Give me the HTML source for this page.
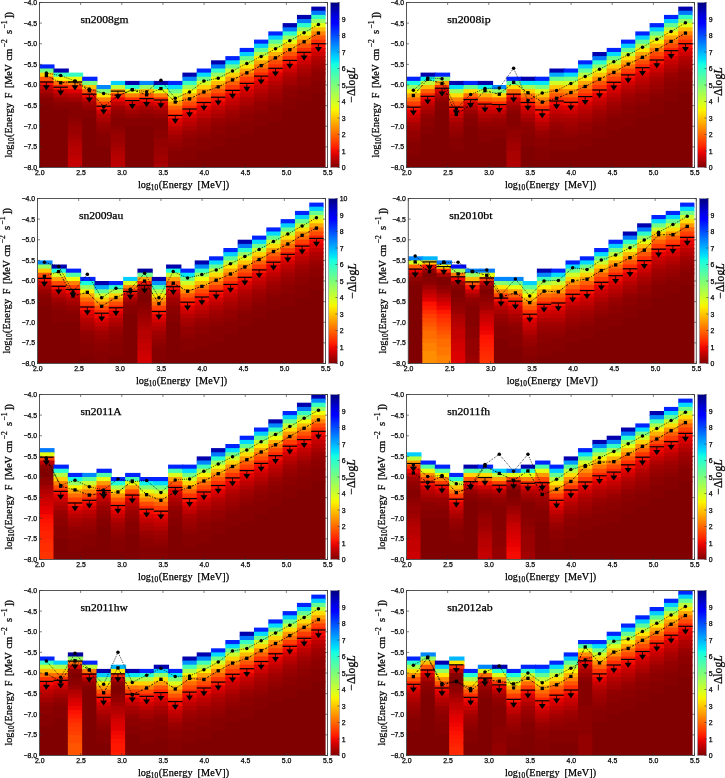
<!DOCTYPE html><html><head><meta charset="utf-8"><title>fig</title><style>html,body{margin:0;padding:0;background:#fff}svg{display:block;will-change:transform}.c rect{width:15.32px;height:5.125px}.e rect{width:14.32px;height:5.125px}text{font-family:"Liberation Sans",sans-serif;fill:#000;stroke:#000;stroke-width:.25px}.s{font-family:"Liberation Serif",serif;stroke-width:.25px}</style></head><body>
<svg width="725" height="778" viewBox="0 0 725 778">
<defs><linearGradient id="cb" x1="0" y1="1" x2="0" y2="0">
<stop offset="0.000" stop-color="#800000"/>
<stop offset="0.025" stop-color="#9c0000"/>
<stop offset="0.050" stop-color="#b90000"/>
<stop offset="0.075" stop-color="#d60000"/>
<stop offset="0.100" stop-color="#f30900"/>
<stop offset="0.125" stop-color="#ff2100"/>
<stop offset="0.150" stop-color="#ff3900"/>
<stop offset="0.175" stop-color="#ff5000"/>
<stop offset="0.200" stop-color="#ff6800"/>
<stop offset="0.225" stop-color="#ff8000"/>
<stop offset="0.250" stop-color="#ff9700"/>
<stop offset="0.275" stop-color="#ffaf00"/>
<stop offset="0.300" stop-color="#ffc600"/>
<stop offset="0.325" stop-color="#ffde00"/>
<stop offset="0.350" stop-color="#f7f600"/>
<stop offset="0.375" stop-color="#e2ff15"/>
<stop offset="0.400" stop-color="#ceff29"/>
<stop offset="0.425" stop-color="#b9ff3e"/>
<stop offset="0.450" stop-color="#a5ff52"/>
<stop offset="0.475" stop-color="#90ff67"/>
<stop offset="0.500" stop-color="#7bff7b"/>
<stop offset="0.525" stop-color="#67ff90"/>
<stop offset="0.550" stop-color="#52ffa5"/>
<stop offset="0.575" stop-color="#3effb9"/>
<stop offset="0.600" stop-color="#29ffce"/>
<stop offset="0.625" stop-color="#15ffe2"/>
<stop offset="0.650" stop-color="#00e5f7"/>
<stop offset="0.675" stop-color="#00ccff"/>
<stop offset="0.700" stop-color="#00b3ff"/>
<stop offset="0.725" stop-color="#0099ff"/>
<stop offset="0.750" stop-color="#0080ff"/>
<stop offset="0.775" stop-color="#0066ff"/>
<stop offset="0.800" stop-color="#004cff"/>
<stop offset="0.825" stop-color="#0033ff"/>
<stop offset="0.850" stop-color="#001aff"/>
<stop offset="0.875" stop-color="#0000ff"/>
<stop offset="0.900" stop-color="#0000f3"/>
<stop offset="0.925" stop-color="#0000d6"/>
<stop offset="0.950" stop-color="#0000b9"/>
<stop offset="0.975" stop-color="#00009c"/>
<stop offset="1.000" stop-color="#000080"/>
</linearGradient>
<g id="ar"><path d="M-7.2 0H7.2" stroke="#000" stroke-width="1.2" fill="none"/><path d="M0 0V4" stroke="#000" stroke-width="0.8"/><path d="M-3.5 3.3H3.5L0 8.3Z" fill="#000"/></g>
</defs>
<rect width="725" height="778" fill="#fff"/>
<g>
<g class="c" transform="translate(39.2 2.5)"><rect y="61.9" fill="#0024ff"/><rect y="66" fill="#6eff89"/><rect y="70.1" fill="#ffd200"/><rect y="74.2" fill="#ff5500"/><rect y="78.4" fill="#fd1100"/><rect y="82.5" fill="#c50000"/><rect y="86.6" fill="#a90000"/><rect y="90.8" fill="#940000"/><rect y="94.9" style="height:9.2px" fill="#860000"/><rect y="103.1" style="height:61.9px" fill="#800000"/></g>
<g class="c" transform="translate(53.52 2.5)"><rect y="66" fill="#0000ae"/><rect y="70.1" fill="#3dffba"/><rect y="74.2" fill="#f8f400"/><rect y="78.4" fill="#ff6c00"/><rect y="82.5" fill="#ff2200"/><rect y="86.6" fill="#d30000"/><rect y="90.8" fill="#b00000"/><rect y="94.9" fill="#9b0000"/><rect y="99" fill="#8d0000"/><rect y="103.1" fill="#860000"/><rect y="107.2" style="height:57.8px" fill="#800000"/></g>
<g class="c" transform="translate(67.84 2.5)"><rect y="70.1" fill="#33ffc4"/><rect y="74.2" fill="#efff08"/><rect y="78.4" fill="#ff8200"/><rect y="82.5" fill="#ff2d00"/><rect y="86.6" fill="#e10000"/><rect y="90.8" fill="#b70000"/><rect y="94.9" fill="#a20000"/><rect y="99" fill="#8d0000"/><rect y="103.1" style="height:13.4px" fill="#860000"/><rect y="115.5" fill="#8d0000"/><rect y="119.6" fill="#940000"/><rect y="123.8" style="height:9.2px" fill="#9b0000"/><rect y="132" fill="#a20000"/><rect y="136.1" fill="#a90000"/><rect y="140.2" fill="#b00000"/><rect y="144.4" style="height:9.2px" fill="#b70000"/><rect y="152.6" fill="#be0000"/><rect y="156.8" style="height:8.2px" fill="#c50000"/></g>
<g class="c" transform="translate(82.16 2.5)"><rect y="74.2" fill="#0024ff"/><rect y="78.4" fill="#78ff7f"/><rect y="82.5" fill="#ffc600"/><rect y="86.6" fill="#ff5500"/><rect y="90.8" fill="#f60b00"/><rect y="94.9" fill="#c50000"/><rect y="99" fill="#a20000"/><rect y="103.1" fill="#940000"/><rect y="107.2" style="height:9.2px" fill="#860000"/><rect y="115.5" style="height:49.5px" fill="#800000"/></g>
<g class="c" transform="translate(96.48 2.5)"><rect y="82.5" fill="#0086ff"/><rect y="86.6" fill="#82ff75"/><rect y="90.8" fill="#ffe800"/><rect y="94.9" fill="#ff8200"/><rect y="99" fill="#ff3e00"/><rect y="103.1" fill="#fd1100"/><rect y="107.2" fill="#d30000"/><rect y="111.4" fill="#b70000"/><rect y="115.5" fill="#a90000"/><rect y="119.6" fill="#9b0000"/><rect y="123.8" fill="#940000"/><rect y="127.9" fill="#8d0000"/><rect y="132" style="height:13.4px" fill="#860000"/><rect y="144.4" style="height:20.6px" fill="#800000"/></g>
<g class="c" transform="translate(110.8 2.5)"><rect y="78.4" fill="#00cfff"/><rect y="82.5" fill="#bdff3a"/><rect y="86.6" fill="#ffa400"/><rect y="90.8" fill="#ff3e00"/><rect y="94.9" fill="#ef0600"/><rect y="99" fill="#be0000"/><rect y="103.1" fill="#a20000"/><rect y="107.2" fill="#940000"/><rect y="111.4" fill="#8d0000"/><rect y="115.5" style="height:9.2px" fill="#860000"/><rect y="123.8" fill="#8d0000"/><rect y="127.9" fill="#940000"/><rect y="132" style="height:9.2px" fill="#9b0000"/><rect y="140.2" fill="#a20000"/><rect y="144.4" fill="#a90000"/><rect y="148.5" fill="#b00000"/><rect y="152.6" style="height:9.2px" fill="#b70000"/><rect y="160.9" style="height:4.1px" fill="#be0000"/></g>
<g class="c" transform="translate(125.12 2.5)"><rect y="78.4" fill="#0000ae"/><rect y="82.5" fill="#29ffce"/><rect y="86.6" fill="#e5ff12"/><rect y="90.8" fill="#ff8200"/><rect y="94.9" fill="#ff2d00"/><rect y="99" fill="#e10000"/><rect y="103.1" fill="#b70000"/><rect y="107.2" fill="#a20000"/><rect y="111.4" fill="#940000"/><rect y="115.5" style="height:9.2px" fill="#860000"/><rect y="123.8" style="height:41.2px" fill="#800000"/></g>
<g class="c" transform="translate(139.44 2.5)"><rect y="78.4" fill="#0086ff"/><rect y="82.5" fill="#96ff61"/><rect y="86.6" fill="#ffbb00"/><rect y="90.8" fill="#ff5500"/><rect y="94.9" fill="#fd1100"/><rect y="99" fill="#cc0000"/><rect y="103.1" fill="#a90000"/><rect y="107.2" fill="#9b0000"/><rect y="111.4" fill="#8d0000"/><rect y="115.5" style="height:9.2px" fill="#860000"/><rect y="123.8" style="height:41.2px" fill="#800000"/></g>
<g class="c" transform="translate(153.76 2.5)"><rect y="78.4" fill="#0000ae"/><rect y="82.5" fill="#29ffce"/><rect y="86.6" fill="#e5ff12"/><rect y="90.8" fill="#ff8200"/><rect y="94.9" fill="#ff2d00"/><rect y="99" fill="#e10000"/><rect y="103.1" fill="#b70000"/><rect y="107.2" fill="#a20000"/><rect y="111.4" fill="#940000"/><rect y="115.5" style="height:13.4px" fill="#860000"/><rect y="127.9" style="height:9.2px" fill="#8d0000"/><rect y="136.1" style="height:9.2px" fill="#940000"/><rect y="144.4" style="height:9.2px" fill="#9b0000"/><rect y="152.6" style="height:9.2px" fill="#a20000"/><rect y="160.9" style="height:4.1px" fill="#a90000"/></g>
<g class="c" transform="translate(168.08 2.5)"><rect y="78.4" fill="#0024ff"/><rect y="82.5" fill="#00dbff"/><rect y="86.6" fill="#6eff89"/><rect y="90.8" fill="#c7ff30"/><rect y="94.9" fill="#ffdd00"/><rect y="99" fill="#ff9900"/><rect y="103.1" fill="#ff6000"/><rect y="107.2" fill="#ff3e00"/><rect y="111.4" fill="#ff1c00"/><rect y="115.5" fill="#e80000"/><rect y="119.6" fill="#d30000"/><rect y="123.8" fill="#be0000"/><rect y="127.9" fill="#b00000"/><rect y="132" fill="#a20000"/><rect y="136.1" fill="#9b0000"/><rect y="140.2" fill="#940000"/><rect y="144.4" fill="#8d0000"/><rect y="148.5" style="height:13.4px" fill="#860000"/><rect y="160.9" style="height:4.1px" fill="#800000"/></g>
<g class="c" transform="translate(182.4 2.5)"><rect y="70.1" fill="#0000ae"/><rect y="74.2" fill="#0086ff"/><rect y="78.4" fill="#33ffc4"/><rect y="82.5" fill="#a0ff57"/><rect y="86.6" fill="#efff08"/><rect y="90.8" fill="#ffb000"/><rect y="94.9" fill="#ff7700"/><rect y="99" fill="#ff4a00"/><rect y="103.1" fill="#ff2800"/><rect y="107.2" fill="#f60b00"/><rect y="111.4" fill="#da0000"/><rect y="115.5" fill="#c50000"/><rect y="119.6" fill="#b70000"/><rect y="123.8" fill="#a90000"/><rect y="127.9" fill="#9b0000"/><rect y="132" fill="#940000"/><rect y="136.1" style="height:9.2px" fill="#8d0000"/><rect y="144.4" style="height:13.4px" fill="#860000"/><rect y="156.8" style="height:8.2px" fill="#800000"/></g>
<g class="c" transform="translate(196.72 2.5)"><rect y="66" fill="#0024ff"/><rect y="70.1" fill="#00dbff"/><rect y="74.2" fill="#6eff89"/><rect y="78.4" fill="#d1ff26"/><rect y="82.5" fill="#ffd200"/><rect y="86.6" fill="#ff8e00"/><rect y="90.8" fill="#ff6000"/><rect y="94.9" fill="#ff3300"/><rect y="99" fill="#ff1700"/><rect y="103.1" fill="#e80000"/><rect y="107.2" fill="#cc0000"/><rect y="111.4" fill="#be0000"/><rect y="115.5" fill="#a90000"/><rect y="119.6" fill="#a20000"/><rect y="123.8" fill="#9b0000"/><rect y="127.9" fill="#940000"/><rect y="132" fill="#8d0000"/><rect y="136.1" style="height:13.4px" fill="#860000"/><rect y="148.5" style="height:16.5px" fill="#800000"/></g>
<g class="c" transform="translate(211.04 2.5)"><rect y="57.8" fill="#0000ae"/><rect y="61.9" fill="#0079ff"/><rect y="66" fill="#33ffc4"/><rect y="70.1" fill="#96ff61"/><rect y="74.2" fill="#efff08"/><rect y="78.4" fill="#ffbb00"/><rect y="82.5" fill="#ff8200"/><rect y="86.6" fill="#ff5500"/><rect y="90.8" fill="#ff2d00"/><rect y="94.9" fill="#fd1100"/><rect y="99" fill="#e10000"/><rect y="103.1" fill="#c50000"/><rect y="107.2" fill="#b70000"/><rect y="111.4" fill="#a90000"/><rect y="115.5" fill="#9b0000"/><rect y="119.6" fill="#940000"/><rect y="123.8" style="height:9.2px" fill="#8d0000"/><rect y="132" style="height:13.4px" fill="#860000"/><rect y="144.4" style="height:20.6px" fill="#800000"/></g>
<g class="c" transform="translate(225.36 2.5)"><rect y="53.6" fill="#0024ff"/><rect y="57.8" fill="#00dbff"/><rect y="61.9" fill="#6eff89"/><rect y="66" fill="#c7ff30"/><rect y="70.1" fill="#ffd200"/><rect y="74.2" fill="#ff9900"/><rect y="78.4" fill="#ff6000"/><rect y="82.5" fill="#ff3900"/><rect y="86.6" fill="#ff1700"/><rect y="90.8" fill="#e80000"/><rect y="94.9" fill="#cc0000"/><rect y="99" fill="#be0000"/><rect y="103.1" fill="#b00000"/><rect y="107.2" fill="#a20000"/><rect y="111.4" fill="#9b0000"/><rect y="115.5" fill="#940000"/><rect y="119.6" fill="#8d0000"/><rect y="123.8" style="height:13.4px" fill="#860000"/><rect y="136.1" style="height:28.9px" fill="#800000"/></g>
<g class="c" transform="translate(239.68 2.5)"><rect y="45.4" fill="#0024ff"/><rect y="49.5" fill="#00cfff"/><rect y="53.6" fill="#64ff92"/><rect y="57.8" fill="#bdff3a"/><rect y="61.9" fill="#ffe800"/><rect y="66" fill="#ffa400"/><rect y="70.1" fill="#ff6c00"/><rect y="74.2" fill="#ff3e00"/><rect y="78.4" fill="#ff2200"/><rect y="82.5" fill="#ef0600"/><rect y="86.6" fill="#d30000"/><rect y="90.8" fill="#c50000"/><rect y="94.9" fill="#b00000"/><rect y="99" fill="#a90000"/><rect y="103.1" fill="#9b0000"/><rect y="107.2" fill="#940000"/><rect y="111.4" style="height:9.2px" fill="#8d0000"/><rect y="119.6" style="height:13.4px" fill="#860000"/><rect y="132" style="height:33px" fill="#800000"/></g>
<g class="c" transform="translate(254 2.5)"><rect y="37.1" fill="#0024ff"/><rect y="41.2" fill="#00cfff"/><rect y="45.4" fill="#5aff9c"/><rect y="49.5" fill="#b3ff43"/><rect y="53.6" fill="#ffe800"/><rect y="57.8" fill="#ffa400"/><rect y="61.9" fill="#ff7700"/><rect y="66" fill="#ff4a00"/><rect y="70.1" fill="#ff2800"/><rect y="74.2" fill="#f60b00"/><rect y="78.4" fill="#da0000"/><rect y="82.5" fill="#c50000"/><rect y="86.6" fill="#b70000"/><rect y="90.8" fill="#a90000"/><rect y="94.9" fill="#a20000"/><rect y="99" style="height:9.2px" fill="#940000"/><rect y="107.2" fill="#8d0000"/><rect y="111.4" style="height:13.4px" fill="#860000"/><rect y="123.8" style="height:41.2px" fill="#800000"/></g>
<g class="c" transform="translate(268.32 2.5)"><rect y="28.9" fill="#0024ff"/><rect y="33" fill="#00cfff"/><rect y="37.1" fill="#5aff9c"/><rect y="41.2" fill="#b3ff43"/><rect y="45.4" fill="#f8f400"/><rect y="49.5" fill="#ffb000"/><rect y="53.6" fill="#ff7700"/><rect y="57.8" fill="#ff4a00"/><rect y="61.9" fill="#ff2d00"/><rect y="66" fill="#fd1100"/><rect y="70.1" fill="#e10000"/><rect y="74.2" fill="#cc0000"/><rect y="78.4" fill="#b70000"/><rect y="82.5" fill="#a90000"/><rect y="86.6" fill="#a20000"/><rect y="90.8" fill="#9b0000"/><rect y="94.9" fill="#940000"/><rect y="99" fill="#8d0000"/><rect y="103.1" style="height:17.5px" fill="#860000"/><rect y="119.6" style="height:45.4px" fill="#800000"/></g>
<g class="c" transform="translate(282.64 2.5)"><rect y="20.6" fill="#0000ae"/><rect y="24.8" fill="#0079ff"/><rect y="28.9" fill="#29ffce"/><rect y="33" fill="#96ff61"/><rect y="37.1" fill="#e5ff12"/><rect y="41.2" fill="#ffbb00"/><rect y="45.4" fill="#ff8200"/><rect y="49.5" fill="#ff5500"/><rect y="53.6" fill="#ff2d00"/><rect y="57.8" fill="#fd1100"/><rect y="61.9" fill="#e10000"/><rect y="66" fill="#cc0000"/><rect y="70.1" fill="#b70000"/><rect y="74.2" fill="#a90000"/><rect y="78.4" fill="#a20000"/><rect y="82.5" fill="#940000"/><rect y="86.6" style="height:9.2px" fill="#8d0000"/><rect y="94.9" style="height:13.4px" fill="#860000"/><rect y="107.2" style="height:57.8px" fill="#800000"/></g>
<g class="c" transform="translate(296.96 2.5)"><rect y="12.4" fill="#0000ae"/><rect y="16.5" fill="#0079ff"/><rect y="20.6" fill="#29ffce"/><rect y="24.8" fill="#96ff61"/><rect y="28.9" fill="#e5ff12"/><rect y="33" fill="#ffbb00"/><rect y="37.1" fill="#ff8200"/><rect y="41.2" fill="#ff5500"/><rect y="45.4" fill="#ff2d00"/><rect y="49.5" fill="#fd1100"/><rect y="53.6" fill="#e10000"/><rect y="57.8" fill="#cc0000"/><rect y="61.9" fill="#b70000"/><rect y="66" fill="#a90000"/><rect y="70.1" fill="#a20000"/><rect y="74.2" style="height:9.2px" fill="#940000"/><rect y="82.5" fill="#8d0000"/><rect y="86.6" style="height:13.4px" fill="#860000"/><rect y="99" style="height:66px" fill="#800000"/></g>
<g class="e" transform="translate(311.28 2.5)"><rect y="4.1" fill="#0000ae"/><rect y="8.2" fill="#0079ff"/><rect y="12.4" fill="#33ffc4"/><rect y="16.5" fill="#96ff61"/><rect y="20.6" fill="#e5ff12"/><rect y="24.8" fill="#ffbb00"/><rect y="28.9" fill="#ff8200"/><rect y="33" fill="#ff5500"/><rect y="37.1" fill="#ff2d00"/><rect y="41.2" fill="#fd1100"/><rect y="45.4" fill="#e10000"/><rect y="49.5" fill="#cc0000"/><rect y="53.6" fill="#b70000"/><rect y="57.8" fill="#a90000"/><rect y="61.9" fill="#a20000"/><rect y="66" fill="#940000"/><rect y="70.1" style="height:9.2px" fill="#8d0000"/><rect y="78.4" style="height:13.4px" fill="#860000"/><rect y="90.8" style="height:74.2px" fill="#800000"/></g>
<polyline points="46.36,73.1 60.68,75.6 75,81 89.32,89 103.64,93.4 117.96,95.9 132.28,89.7 146.6,91.7 160.92,80.3 175.24,98.3 189.56,92 203.88,81.1 218.2,78.2 232.52,71 246.84,63.5 261.16,56.5 275.48,48.8 289.8,40.8 304.12,32.7 318.44,24.4" fill="none" stroke="#000" stroke-width="0.8" stroke-dasharray="0.9 1.1"/>
<circle cx="46.36" cy="73.1" r="1.75" fill="#000"/>
<circle cx="60.68" cy="75.6" r="1.75" fill="#000"/>
<circle cx="75" cy="81" r="1.75" fill="#000"/>
<circle cx="89.32" cy="89" r="1.75" fill="#000"/>
<circle cx="103.64" cy="93.4" r="1.75" fill="#000"/>
<circle cx="117.96" cy="95.9" r="1.75" fill="#000"/>
<circle cx="132.28" cy="89.7" r="1.75" fill="#000"/>
<circle cx="146.6" cy="91.7" r="1.75" fill="#000"/>
<circle cx="160.92" cy="80.3" r="1.75" fill="#000"/>
<circle cx="175.24" cy="98.3" r="1.75" fill="#000"/>
<circle cx="189.56" cy="92" r="1.75" fill="#000"/>
<circle cx="203.88" cy="81.1" r="1.75" fill="#000"/>
<circle cx="218.2" cy="78.2" r="1.75" fill="#000"/>
<circle cx="232.52" cy="71" r="1.75" fill="#000"/>
<circle cx="246.84" cy="63.5" r="1.75" fill="#000"/>
<circle cx="261.16" cy="56.5" r="1.75" fill="#000"/>
<circle cx="275.48" cy="48.8" r="1.75" fill="#000"/>
<circle cx="289.8" cy="40.8" r="1.75" fill="#000"/>
<circle cx="304.12" cy="32.7" r="1.75" fill="#000"/>
<circle cx="318.44" cy="24.4" r="1.75" fill="#000"/>
<polyline points="46.36,75.6 60.68,82.8 75,81.5 89.32,90.7 103.64,106.6 117.96,95.9 132.28,89.7 146.6,94.8 160.92,88.6 175.24,102 189.56,98.9 203.88,92 218.2,86.9 232.52,79.9 246.84,72.8 261.16,65.6 275.48,57.9 289.8,49.7 304.12,41.8 318.44,33.1" fill="none" stroke="#000" stroke-width="0.85" stroke-dasharray="2.2 1.4 0.9 1.4"/>
<rect x="44.71" y="73.95" width="3.3" height="3.3" fill="#000"/>
<rect x="59.03" y="81.15" width="3.3" height="3.3" fill="#000"/>
<rect x="73.35" y="79.85" width="3.3" height="3.3" fill="#000"/>
<rect x="87.67" y="89.05" width="3.3" height="3.3" fill="#000"/>
<rect x="101.99" y="104.95" width="3.3" height="3.3" fill="#000"/>
<rect x="116.31" y="94.25" width="3.3" height="3.3" fill="#000"/>
<rect x="130.63" y="88.05" width="3.3" height="3.3" fill="#000"/>
<rect x="144.95" y="93.15" width="3.3" height="3.3" fill="#000"/>
<rect x="159.27" y="86.95" width="3.3" height="3.3" fill="#000"/>
<rect x="173.59" y="100.35" width="3.3" height="3.3" fill="#000"/>
<rect x="187.91" y="97.25" width="3.3" height="3.3" fill="#000"/>
<rect x="202.23" y="90.35" width="3.3" height="3.3" fill="#000"/>
<rect x="216.55" y="85.25" width="3.3" height="3.3" fill="#000"/>
<rect x="230.87" y="78.25" width="3.3" height="3.3" fill="#000"/>
<rect x="245.19" y="71.15" width="3.3" height="3.3" fill="#000"/>
<rect x="259.51" y="63.95" width="3.3" height="3.3" fill="#000"/>
<rect x="273.83" y="56.25" width="3.3" height="3.3" fill="#000"/>
<rect x="288.15" y="48.05" width="3.3" height="3.3" fill="#000"/>
<rect x="302.47" y="40.15" width="3.3" height="3.3" fill="#000"/>
<rect x="316.79" y="31.45" width="3.3" height="3.3" fill="#000"/>
<use href="#ar" x="46.36" y="82"/>
<use href="#ar" x="60.68" y="87.2"/>
<use href="#ar" x="75" y="82"/>
<use href="#ar" x="89.32" y="94.2"/>
<use href="#ar" x="103.64" y="106.2"/>
<use href="#ar" x="117.96" y="91.1"/>
<use href="#ar" x="132.28" y="100.6"/>
<use href="#ar" x="146.6" y="98.6"/>
<use href="#ar" x="160.92" y="100"/>
<use href="#ar" x="175.24" y="115.5"/>
<use href="#ar" x="189.56" y="109"/>
<use href="#ar" x="203.88" y="102.5"/>
<use href="#ar" x="218.2" y="97.2"/>
<use href="#ar" x="232.52" y="90.4"/>
<use href="#ar" x="246.84" y="83.4"/>
<use href="#ar" x="261.16" y="76.1"/>
<use href="#ar" x="275.48" y="68.3"/>
<use href="#ar" x="289.8" y="60.4"/>
<use href="#ar" x="304.12" y="52.3"/>
<use href="#ar" x="318.44" y="43.7"/>
<rect x="39.5" y="2.5" width="288" height="165" fill="none" stroke="#555" stroke-width="1"/>
<path d="M39.5 167.5v-2.5M39.5 2.5v2.5M80.64 167.5v-2.5M80.64 2.5v2.5M121.79 167.5v-2.5M121.79 2.5v2.5M162.93 167.5v-2.5M162.93 2.5v2.5M204.07 167.5v-2.5M204.07 2.5v2.5M245.21 167.5v-2.5M245.21 2.5v2.5M286.36 167.5v-2.5M286.36 2.5v2.5M327.5 167.5v-2.5M327.5 2.5v2.5M39.5 2.5h2.5M327.5 2.5h-2.5M39.5 23.12h2.5M327.5 23.12h-2.5M39.5 43.75h2.5M327.5 43.75h-2.5M39.5 64.38h2.5M327.5 64.38h-2.5M39.5 85h2.5M327.5 85h-2.5M39.5 105.62h2.5M327.5 105.62h-2.5M39.5 126.25h2.5M327.5 126.25h-2.5M39.5 146.88h2.5M327.5 146.88h-2.5M39.5 167.5h2.5M327.5 167.5h-2.5" stroke="#333" stroke-width="0.6" fill="none"/>
<text x="39.8" y="174.6" font-size="6.9" text-anchor="middle">2.0</text>
<text x="80.94" y="174.6" font-size="6.9" text-anchor="middle">2.5</text>
<text x="122.09" y="174.6" font-size="6.9" text-anchor="middle">3.0</text>
<text x="163.23" y="174.6" font-size="6.9" text-anchor="middle">3.5</text>
<text x="204.37" y="174.6" font-size="6.9" text-anchor="middle">4.0</text>
<text x="245.51" y="174.6" font-size="6.9" text-anchor="middle">4.5</text>
<text x="286.66" y="174.6" font-size="6.9" text-anchor="middle">5.0</text>
<text x="327.8" y="174.6" font-size="6.9" text-anchor="middle">5.5</text>
<text x="37" y="4.9" font-size="6.9" text-anchor="end">−4.0</text>
<text x="37" y="25.52" font-size="6.9" text-anchor="end">−4.5</text>
<text x="37" y="46.15" font-size="6.9" text-anchor="end">−5.0</text>
<text x="37" y="66.78" font-size="6.9" text-anchor="end">−5.5</text>
<text x="37" y="87.4" font-size="6.9" text-anchor="end">−6.0</text>
<text x="37" y="108.03" font-size="6.9" text-anchor="end">−6.5</text>
<text x="37" y="128.65" font-size="6.9" text-anchor="end">−7.0</text>
<text x="37" y="149.28" font-size="6.9" text-anchor="end">−7.5</text>
<text x="37" y="169.9" font-size="6.9" text-anchor="end">−8.0</text>
<g transform="translate(137.9 187.7)"><text class="s" x="0" y="0" font-size="10.2">log</text><text class="s" x="12.9" y="2.2" font-size="7.3">10</text><text class="s" x="20.8" y="0" font-size="10.2" letter-spacing="0.2">(Energy</text><text class="s" x="59.6" y="0" font-size="10.2" letter-spacing="0.1">[MeV])</text></g>
<g transform="translate(12 157.6) rotate(-90)"><text class="s" x="0" y="0" font-size="10.2">log</text><text class="s" x="12.9" y="2.2" font-size="7.3">10</text><text class="s" x="20.3" y="0" font-size="10.2" letter-spacing="0.3">(Energy</text><text class="s" x="59.3" y="0" font-size="10.2">F</text><text class="s" x="69.7" y="0" font-size="10.2" letter-spacing="-0.15">[MeV</text><text class="s" x="96.8" y="0" font-size="10.2" letter-spacing="-0.4">cm</text><text class="s" x="110.4" y="-4.6" font-size="7.6">−2</text><text class="s" x="123.7" y="0" font-size="10.6">s</text><text class="s" x="129" y="-4.6" font-size="7.6">−1</text><text class="s" x="139.2" y="0" font-size="10.2" letter-spacing="-0.6">])</text></g>
<text class="s" x="80.4" y="23.2" font-size="10.3" textLength="48.2" lengthAdjust="spacingAndGlyphs">sn2008gm</text>
<rect x="330.5" y="2.5" width="9" height="165" fill="url(#cb)" stroke="#99a" stroke-width="0.7"/>
<text x="341.7" y="170" font-size="6.9">0</text>
<text x="341.7" y="153.5" font-size="6.9">1</text>
<text x="341.7" y="137" font-size="6.9">2</text>
<text x="341.7" y="120.5" font-size="6.9">3</text>
<text x="341.7" y="104" font-size="6.9">4</text>
<text x="341.7" y="87.5" font-size="6.9">5</text>
<text x="341.7" y="71" font-size="6.9">6</text>
<text x="341.7" y="54.5" font-size="6.9">7</text>
<text x="341.7" y="38" font-size="6.9">8</text>
<text x="341.7" y="21.5" font-size="6.9">9</text>
<path d="M339.5 167.5h-2M339.5 151h-2M339.5 134.5h-2M339.5 118h-2M339.5 101.5h-2M339.5 85h-2M339.5 68.5h-2M339.5 52h-2M339.5 35.5h-2M339.5 19h-2M339.5 2.5h-2" stroke="#333" stroke-width="0.6" fill="none"/>
<text class="s" transform="translate(354.8 85) rotate(-90)" font-size="11.6" text-anchor="middle">−Δlog<tspan font-style="italic">L</tspan></text>
</g>
<g>
<g class="c" transform="translate(406.2 2.5)"><rect y="74.2" fill="#0024ff"/><rect y="78.4" fill="#15ffe1"/><rect y="82.5" fill="#96ff61"/><rect y="86.6" fill="#f8f400"/><rect y="90.8" fill="#ffa400"/><rect y="94.9" fill="#ff6c00"/><rect y="99" fill="#ff3e00"/><rect y="103.1" fill="#ff1c00"/><rect y="107.2" fill="#e80000"/><rect y="111.4" fill="#cc0000"/><rect y="115.5" fill="#be0000"/><rect y="119.6" fill="#a90000"/><rect y="123.8" fill="#a20000"/><rect y="127.9" style="height:9.2px" fill="#940000"/><rect y="136.1" fill="#8d0000"/><rect y="140.2" style="height:13.4px" fill="#860000"/><rect y="152.6" style="height:12.4px" fill="#800000"/></g>
<g class="c" transform="translate(420.52 2.5)"><rect y="70.1" fill="#0000ae"/><rect y="74.2" fill="#0cf4eb"/><rect y="78.4" fill="#bdff3a"/><rect y="82.5" fill="#ffbb00"/><rect y="86.6" fill="#ff6000"/><rect y="90.8" fill="#ff2800"/><rect y="94.9" fill="#e80000"/><rect y="99" fill="#c50000"/><rect y="103.1" fill="#b00000"/><rect y="107.2" fill="#a20000"/><rect y="111.4" fill="#940000"/><rect y="115.5" style="height:9.2px" fill="#8d0000"/><rect y="123.8" style="height:9.2px" fill="#860000"/><rect y="132" style="height:33px" fill="#800000"/></g>
<g class="c" transform="translate(434.84 2.5)"><rect y="70.1" fill="#0024ff"/><rect y="74.2" fill="#8cff6b"/><rect y="78.4" fill="#ffa400"/><rect y="82.5" fill="#ff3300"/><rect y="86.6" fill="#da0000"/><rect y="90.8" fill="#b00000"/><rect y="94.9" fill="#940000"/><rect y="99" style="height:9.2px" fill="#860000"/><rect y="107.2" style="height:57.8px" fill="#800000"/></g>
<g class="c" transform="translate(449.16 2.5)"><rect y="78.4" fill="#0000ae"/><rect y="82.5" fill="#00dbff"/><rect y="86.6" fill="#a0ff57"/><rect y="90.8" fill="#ffdd00"/><rect y="94.9" fill="#ff8200"/><rect y="99" fill="#ff4a00"/><rect y="103.1" fill="#ff1700"/><rect y="107.2" fill="#e10000"/><rect y="111.4" fill="#c50000"/><rect y="115.5" fill="#b00000"/><rect y="119.6" fill="#a20000"/><rect y="123.8" fill="#9b0000"/><rect y="127.9" fill="#940000"/><rect y="132" fill="#8d0000"/><rect y="136.1" style="height:13.4px" fill="#860000"/><rect y="148.5" style="height:16.5px" fill="#800000"/></g>
<g class="c" transform="translate(463.48 2.5)"><rect y="78.4" fill="#0024ff"/><rect y="82.5" fill="#64ff92"/><rect y="86.6" fill="#ffdd00"/><rect y="90.8" fill="#ff6c00"/><rect y="94.9" fill="#ff2200"/><rect y="99" fill="#d30000"/><rect y="103.1" fill="#b00000"/><rect y="107.2" fill="#9b0000"/><rect y="111.4" fill="#8d0000"/><rect y="115.5" style="height:9.2px" fill="#860000"/><rect y="123.8" style="height:41.2px" fill="#800000"/></g>
<g class="c" transform="translate(477.8 2.5)"><rect y="78.4" fill="#0000ae"/><rect y="82.5" fill="#0cf4eb"/><rect y="86.6" fill="#bdff3a"/><rect y="90.8" fill="#ffb000"/><rect y="94.9" fill="#ff6000"/><rect y="99" fill="#ff2200"/><rect y="103.1" fill="#e10000"/><rect y="107.2" fill="#c50000"/><rect y="111.4" fill="#b00000"/><rect y="115.5" fill="#a20000"/><rect y="119.6" fill="#940000"/><rect y="123.8" fill="#8d0000"/><rect y="127.9" style="height:13.4px" fill="#860000"/><rect y="140.2" style="height:24.8px" fill="#800000"/></g>
<g class="c" transform="translate(492.12 2.5)"><rect y="82.5" fill="#0086ff"/><rect y="86.6" fill="#8cff6b"/><rect y="90.8" fill="#ffd200"/><rect y="94.9" fill="#ff6c00"/><rect y="99" fill="#ff2d00"/><rect y="103.1" fill="#e80000"/><rect y="107.2" fill="#c50000"/><rect y="111.4" fill="#a90000"/><rect y="115.5" fill="#9b0000"/><rect y="119.6" fill="#940000"/><rect y="123.8" fill="#8d0000"/><rect y="127.9" style="height:9.2px" fill="#860000"/><rect y="136.1" style="height:28.9px" fill="#800000"/></g>
<g class="c" transform="translate(506.44 2.5)"><rect y="74.2" fill="#0024ff"/><rect y="78.4" fill="#64ff92"/><rect y="82.5" fill="#ffdd00"/><rect y="86.6" fill="#ff6c00"/><rect y="90.8" fill="#ff1c00"/><rect y="94.9" fill="#d30000"/><rect y="99" fill="#b00000"/><rect y="103.1" fill="#9b0000"/><rect y="107.2" fill="#8d0000"/><rect y="111.4" style="height:13.4px" fill="#860000"/><rect y="123.8" fill="#8d0000"/><rect y="127.9" style="height:9.2px" fill="#940000"/><rect y="136.1" fill="#9b0000"/><rect y="140.2" style="height:9.2px" fill="#a20000"/><rect y="148.5" style="height:9.2px" fill="#a90000"/><rect y="156.8" style="height:8.2px" fill="#b00000"/></g>
<g class="c" transform="translate(520.76 2.5)"><rect y="74.2" fill="#0000ae"/><rect y="78.4" fill="#02e8f5"/><rect y="82.5" fill="#a0ff57"/><rect y="86.6" fill="#ffd200"/><rect y="90.8" fill="#ff7700"/><rect y="94.9" fill="#ff3e00"/><rect y="99" fill="#ff1700"/><rect y="103.1" fill="#da0000"/><rect y="107.2" fill="#c50000"/><rect y="111.4" fill="#b00000"/><rect y="115.5" fill="#a20000"/><rect y="119.6" fill="#940000"/><rect y="123.8" style="height:9.2px" fill="#8d0000"/><rect y="132" style="height:13.4px" fill="#860000"/><rect y="144.4" style="height:20.6px" fill="#800000"/></g>
<g class="c" transform="translate(535.08 2.5)"><rect y="74.2" fill="#0024ff"/><rect y="78.4" fill="#02e8f5"/><rect y="82.5" fill="#78ff7f"/><rect y="86.6" fill="#dbff1c"/><rect y="90.8" fill="#ffc600"/><rect y="94.9" fill="#ff8200"/><rect y="99" fill="#ff5500"/><rect y="103.1" fill="#ff2d00"/><rect y="107.2" fill="#fd1100"/><rect y="111.4" fill="#e10000"/><rect y="115.5" fill="#cc0000"/><rect y="119.6" fill="#b70000"/><rect y="123.8" fill="#a90000"/><rect y="127.9" fill="#9b0000"/><rect y="132" fill="#940000"/><rect y="136.1" style="height:9.2px" fill="#8d0000"/><rect y="144.4" style="height:13.4px" fill="#860000"/><rect y="156.8" style="height:8.2px" fill="#800000"/></g>
<g class="c" transform="translate(549.4 2.5)"><rect y="66" fill="#0000ae"/><rect y="70.1" fill="#00aaff"/><rect y="74.2" fill="#64ff92"/><rect y="78.4" fill="#d1ff26"/><rect y="82.5" fill="#ffc600"/><rect y="86.6" fill="#ff8200"/><rect y="90.8" fill="#ff5500"/><rect y="94.9" fill="#ff2800"/><rect y="99" fill="#f60b00"/><rect y="103.1" fill="#da0000"/><rect y="107.2" fill="#c50000"/><rect y="111.4" fill="#b00000"/><rect y="115.5" fill="#a90000"/><rect y="119.6" fill="#9b0000"/><rect y="123.8" fill="#940000"/><rect y="127.9" style="height:9.2px" fill="#8d0000"/><rect y="136.1" style="height:13.4px" fill="#860000"/><rect y="148.5" style="height:16.5px" fill="#800000"/></g>
<g class="c" transform="translate(563.72 2.5)"><rect y="66" fill="#0024ff"/><rect y="70.1" fill="#00dbff"/><rect y="74.2" fill="#78ff7f"/><rect y="78.4" fill="#d1ff26"/><rect y="82.5" fill="#ffd200"/><rect y="86.6" fill="#ff8e00"/><rect y="90.8" fill="#ff6000"/><rect y="94.9" fill="#ff3300"/><rect y="99" fill="#ff1700"/><rect y="103.1" fill="#e10000"/><rect y="107.2" fill="#cc0000"/><rect y="111.4" fill="#b70000"/><rect y="115.5" fill="#a90000"/><rect y="119.6" fill="#a20000"/><rect y="123.8" fill="#9b0000"/><rect y="127.9" fill="#940000"/><rect y="132" fill="#8d0000"/><rect y="136.1" style="height:13.4px" fill="#860000"/><rect y="148.5" style="height:16.5px" fill="#800000"/></g>
<g class="c" transform="translate(578.04 2.5)"><rect y="57.8" fill="#0024ff"/><rect y="61.9" fill="#00cfff"/><rect y="66" fill="#5aff9c"/><rect y="70.1" fill="#b3ff43"/><rect y="74.2" fill="#ffe800"/><rect y="78.4" fill="#ffa400"/><rect y="82.5" fill="#ff7700"/><rect y="86.6" fill="#ff4a00"/><rect y="90.8" fill="#ff2800"/><rect y="94.9" fill="#f60b00"/><rect y="99" fill="#da0000"/><rect y="103.1" fill="#c50000"/><rect y="107.2" fill="#b70000"/><rect y="111.4" fill="#a90000"/><rect y="115.5" fill="#a20000"/><rect y="119.6" style="height:9.2px" fill="#940000"/><rect y="127.9" fill="#8d0000"/><rect y="132" style="height:13.4px" fill="#860000"/><rect y="144.4" style="height:20.6px" fill="#800000"/></g>
<g class="c" transform="translate(592.36 2.5)"><rect y="49.5" fill="#0000ae"/><rect y="53.6" fill="#0079ff"/><rect y="57.8" fill="#29ffce"/><rect y="61.9" fill="#8cff6b"/><rect y="66" fill="#e5ff12"/><rect y="70.1" fill="#ffc600"/><rect y="74.2" fill="#ff8e00"/><rect y="78.4" fill="#ff5500"/><rect y="82.5" fill="#ff3300"/><rect y="86.6" fill="#ff1700"/><rect y="90.8" fill="#e80000"/><rect y="94.9" fill="#cc0000"/><rect y="99" fill="#be0000"/><rect y="103.1" fill="#b00000"/><rect y="107.2" fill="#a20000"/><rect y="111.4" fill="#9b0000"/><rect y="115.5" fill="#940000"/><rect y="119.6" fill="#8d0000"/><rect y="123.8" style="height:13.4px" fill="#860000"/><rect y="136.1" style="height:28.9px" fill="#800000"/></g>
<g class="c" transform="translate(606.68 2.5)"><rect y="45.4" fill="#0024ff"/><rect y="49.5" fill="#00dbff"/><rect y="53.6" fill="#6eff89"/><rect y="57.8" fill="#c7ff30"/><rect y="61.9" fill="#ffd200"/><rect y="66" fill="#ff9900"/><rect y="70.1" fill="#ff6000"/><rect y="74.2" fill="#ff3e00"/><rect y="78.4" fill="#ff1700"/><rect y="82.5" fill="#e80000"/><rect y="86.6" fill="#d30000"/><rect y="90.8" fill="#be0000"/><rect y="94.9" fill="#b00000"/><rect y="99" fill="#a20000"/><rect y="103.1" fill="#9b0000"/><rect y="107.2" fill="#940000"/><rect y="111.4" fill="#8d0000"/><rect y="115.5" style="height:13.4px" fill="#860000"/><rect y="127.9" style="height:37.1px" fill="#800000"/></g>
<g class="c" transform="translate(621 2.5)"><rect y="37.1" fill="#0024ff"/><rect y="41.2" fill="#00cfff"/><rect y="45.4" fill="#64ff92"/><rect y="49.5" fill="#bdff3a"/><rect y="53.6" fill="#ffdd00"/><rect y="57.8" fill="#ffa400"/><rect y="61.9" fill="#ff6c00"/><rect y="66" fill="#ff3e00"/><rect y="70.1" fill="#ff2200"/><rect y="74.2" fill="#ef0600"/><rect y="78.4" fill="#d30000"/><rect y="82.5" fill="#be0000"/><rect y="86.6" fill="#b00000"/><rect y="90.8" fill="#a20000"/><rect y="94.9" fill="#9b0000"/><rect y="99" fill="#940000"/><rect y="103.1" style="height:9.2px" fill="#8d0000"/><rect y="111.4" style="height:13.4px" fill="#860000"/><rect y="123.8" style="height:41.2px" fill="#800000"/></g>
<g class="c" transform="translate(635.32 2.5)"><rect y="28.9" fill="#0024ff"/><rect y="33" fill="#00cfff"/><rect y="37.1" fill="#5aff9c"/><rect y="41.2" fill="#b3ff43"/><rect y="45.4" fill="#ffe800"/><rect y="49.5" fill="#ffa400"/><rect y="53.6" fill="#ff7700"/><rect y="57.8" fill="#ff4a00"/><rect y="61.9" fill="#ff2800"/><rect y="66" fill="#f60b00"/><rect y="70.1" fill="#da0000"/><rect y="74.2" fill="#c50000"/><rect y="78.4" fill="#b70000"/><rect y="82.5" fill="#a90000"/><rect y="86.6" fill="#a20000"/><rect y="90.8" style="height:9.2px" fill="#940000"/><rect y="99" fill="#8d0000"/><rect y="103.1" style="height:13.4px" fill="#860000"/><rect y="115.5" style="height:49.5px" fill="#800000"/></g>
<g class="c" transform="translate(649.64 2.5)"><rect y="20.6" fill="#0024ff"/><rect y="24.8" fill="#00cfff"/><rect y="28.9" fill="#5aff9c"/><rect y="33" fill="#b3ff43"/><rect y="37.1" fill="#f8f400"/><rect y="41.2" fill="#ffb000"/><rect y="45.4" fill="#ff7700"/><rect y="49.5" fill="#ff4a00"/><rect y="53.6" fill="#ff2d00"/><rect y="57.8" fill="#fd1100"/><rect y="61.9" fill="#e10000"/><rect y="66" fill="#cc0000"/><rect y="70.1" fill="#b70000"/><rect y="74.2" fill="#a90000"/><rect y="78.4" fill="#a20000"/><rect y="82.5" fill="#9b0000"/><rect y="86.6" fill="#940000"/><rect y="90.8" fill="#8d0000"/><rect y="94.9" style="height:17.5px" fill="#860000"/><rect y="111.4" style="height:53.6px" fill="#800000"/></g>
<g class="c" transform="translate(663.96 2.5)"><rect y="12.4" fill="#0024ff"/><rect y="16.5" fill="#00cfff"/><rect y="20.6" fill="#64ff92"/><rect y="24.8" fill="#bdff3a"/><rect y="28.9" fill="#ffe800"/><rect y="33" fill="#ffa400"/><rect y="37.1" fill="#ff6c00"/><rect y="41.2" fill="#ff4a00"/><rect y="45.4" fill="#ff2200"/><rect y="49.5" fill="#f60b00"/><rect y="53.6" fill="#da0000"/><rect y="57.8" fill="#c50000"/><rect y="61.9" fill="#b70000"/><rect y="66" fill="#a90000"/><rect y="70.1" fill="#9b0000"/><rect y="74.2" fill="#940000"/><rect y="78.4" style="height:9.2px" fill="#8d0000"/><rect y="86.6" style="height:13.4px" fill="#860000"/><rect y="99" style="height:66px" fill="#800000"/></g>
<g class="e" transform="translate(678.28 2.5)"><rect y="4.1" fill="#0000ae"/><rect y="8.2" fill="#0079ff"/><rect y="12.4" fill="#33ffc4"/><rect y="16.5" fill="#96ff61"/><rect y="20.6" fill="#e5ff12"/><rect y="24.8" fill="#ffbb00"/><rect y="28.9" fill="#ff8200"/><rect y="33" fill="#ff5500"/><rect y="37.1" fill="#ff2d00"/><rect y="41.2" fill="#fd1100"/><rect y="45.4" fill="#e10000"/><rect y="49.5" fill="#cc0000"/><rect y="53.6" fill="#b70000"/><rect y="57.8" fill="#a90000"/><rect y="61.9" fill="#a20000"/><rect y="66" fill="#940000"/><rect y="70.1" style="height:9.2px" fill="#8d0000"/><rect y="78.4" style="height:13.4px" fill="#860000"/><rect y="90.8" style="height:74.2px" fill="#800000"/></g>
<polyline points="413.36,90.3 427.68,77.9 442,78.7 456.32,108.9 470.64,94.4 484.96,88.6 499.28,88 513.6,68.3 527.92,100.6 542.24,93 556.56,90.6 570.88,83.4 585.2,76.6 599.52,69.3 613.84,61.7 628.16,54.8 642.48,47.2 656.8,39.3 671.12,31.5 685.44,22.8" fill="none" stroke="#000" stroke-width="0.8" stroke-dasharray="0.9 1.1"/>
<circle cx="413.36" cy="90.3" r="1.75" fill="#000"/>
<circle cx="427.68" cy="77.9" r="1.75" fill="#000"/>
<circle cx="442" cy="78.7" r="1.75" fill="#000"/>
<circle cx="456.32" cy="108.9" r="1.75" fill="#000"/>
<circle cx="470.64" cy="94.4" r="1.75" fill="#000"/>
<circle cx="484.96" cy="88.6" r="1.75" fill="#000"/>
<circle cx="499.28" cy="88" r="1.75" fill="#000"/>
<circle cx="513.6" cy="68.3" r="1.75" fill="#000"/>
<circle cx="527.92" cy="100.6" r="1.75" fill="#000"/>
<circle cx="542.24" cy="93" r="1.75" fill="#000"/>
<circle cx="556.56" cy="90.6" r="1.75" fill="#000"/>
<circle cx="570.88" cy="83.4" r="1.75" fill="#000"/>
<circle cx="585.2" cy="76.6" r="1.75" fill="#000"/>
<circle cx="599.52" cy="69.3" r="1.75" fill="#000"/>
<circle cx="613.84" cy="61.7" r="1.75" fill="#000"/>
<circle cx="628.16" cy="54.8" r="1.75" fill="#000"/>
<circle cx="642.48" cy="47.2" r="1.75" fill="#000"/>
<circle cx="656.8" cy="39.3" r="1.75" fill="#000"/>
<circle cx="671.12" cy="31.5" r="1.75" fill="#000"/>
<circle cx="685.44" cy="22.8" r="1.75" fill="#000"/>
<polyline points="413.36,95.5 427.68,79.3 442,83.5 456.32,114.5 470.64,104.8 484.96,90.7 499.28,94.2 513.6,82.4 527.92,92.8 542.24,102.1 556.56,98.3 570.88,92.5 585.2,86.5 599.52,79.2 613.84,72.4 628.16,64.1 642.48,57.3 656.8,49.7 671.12,41.4 685.44,33.1" fill="none" stroke="#000" stroke-width="0.85" stroke-dasharray="2.2 1.4 0.9 1.4"/>
<rect x="411.71" y="93.85" width="3.3" height="3.3" fill="#000"/>
<rect x="426.03" y="77.65" width="3.3" height="3.3" fill="#000"/>
<rect x="440.35" y="81.85" width="3.3" height="3.3" fill="#000"/>
<rect x="454.67" y="112.85" width="3.3" height="3.3" fill="#000"/>
<rect x="468.99" y="103.15" width="3.3" height="3.3" fill="#000"/>
<rect x="483.31" y="89.05" width="3.3" height="3.3" fill="#000"/>
<rect x="497.63" y="92.55" width="3.3" height="3.3" fill="#000"/>
<rect x="511.95" y="80.75" width="3.3" height="3.3" fill="#000"/>
<rect x="526.27" y="91.15" width="3.3" height="3.3" fill="#000"/>
<rect x="540.59" y="100.45" width="3.3" height="3.3" fill="#000"/>
<rect x="554.91" y="96.65" width="3.3" height="3.3" fill="#000"/>
<rect x="569.23" y="90.85" width="3.3" height="3.3" fill="#000"/>
<rect x="583.55" y="84.85" width="3.3" height="3.3" fill="#000"/>
<rect x="597.87" y="77.55" width="3.3" height="3.3" fill="#000"/>
<rect x="612.19" y="70.75" width="3.3" height="3.3" fill="#000"/>
<rect x="626.51" y="62.45" width="3.3" height="3.3" fill="#000"/>
<rect x="640.83" y="55.65" width="3.3" height="3.3" fill="#000"/>
<rect x="655.15" y="48.05" width="3.3" height="3.3" fill="#000"/>
<rect x="669.47" y="39.75" width="3.3" height="3.3" fill="#000"/>
<rect x="683.79" y="31.45" width="3.3" height="3.3" fill="#000"/>
<use href="#ar" x="413.36" y="107.2"/>
<use href="#ar" x="427.68" y="96.3"/>
<use href="#ar" x="442" y="88.2"/>
<use href="#ar" x="456.32" y="107.2"/>
<use href="#ar" x="470.64" y="99.6"/>
<use href="#ar" x="484.96" y="104.1"/>
<use href="#ar" x="499.28" y="104.6"/>
<use href="#ar" x="513.6" y="94.2"/>
<use href="#ar" x="527.92" y="102.5"/>
<use href="#ar" x="542.24" y="109.9"/>
<use href="#ar" x="556.56" y="101"/>
<use href="#ar" x="570.88" y="102.3"/>
<use href="#ar" x="585.2" y="96.6"/>
<use href="#ar" x="599.52" y="90"/>
<use href="#ar" x="613.84" y="82.3"/>
<use href="#ar" x="628.16" y="74.9"/>
<use href="#ar" x="642.48" y="67.7"/>
<use href="#ar" x="656.8" y="60"/>
<use href="#ar" x="671.12" y="50.7"/>
<use href="#ar" x="685.44" y="43.7"/>
<rect x="406.5" y="2.5" width="288" height="165" fill="none" stroke="#555" stroke-width="1"/>
<path d="M406.5 167.5v-2.5M406.5 2.5v2.5M447.64 167.5v-2.5M447.64 2.5v2.5M488.79 167.5v-2.5M488.79 2.5v2.5M529.93 167.5v-2.5M529.93 2.5v2.5M571.07 167.5v-2.5M571.07 2.5v2.5M612.21 167.5v-2.5M612.21 2.5v2.5M653.36 167.5v-2.5M653.36 2.5v2.5M694.5 167.5v-2.5M694.5 2.5v2.5M406.5 2.5h2.5M694.5 2.5h-2.5M406.5 23.12h2.5M694.5 23.12h-2.5M406.5 43.75h2.5M694.5 43.75h-2.5M406.5 64.38h2.5M694.5 64.38h-2.5M406.5 85h2.5M694.5 85h-2.5M406.5 105.62h2.5M694.5 105.62h-2.5M406.5 126.25h2.5M694.5 126.25h-2.5M406.5 146.88h2.5M694.5 146.88h-2.5M406.5 167.5h2.5M694.5 167.5h-2.5" stroke="#333" stroke-width="0.6" fill="none"/>
<text x="406.8" y="174.6" font-size="6.9" text-anchor="middle">2.0</text>
<text x="447.94" y="174.6" font-size="6.9" text-anchor="middle">2.5</text>
<text x="489.09" y="174.6" font-size="6.9" text-anchor="middle">3.0</text>
<text x="530.23" y="174.6" font-size="6.9" text-anchor="middle">3.5</text>
<text x="571.37" y="174.6" font-size="6.9" text-anchor="middle">4.0</text>
<text x="612.51" y="174.6" font-size="6.9" text-anchor="middle">4.5</text>
<text x="653.66" y="174.6" font-size="6.9" text-anchor="middle">5.0</text>
<text x="694.8" y="174.6" font-size="6.9" text-anchor="middle">5.5</text>
<text x="404" y="4.9" font-size="6.9" text-anchor="end">−4.0</text>
<text x="404" y="25.52" font-size="6.9" text-anchor="end">−4.5</text>
<text x="404" y="46.15" font-size="6.9" text-anchor="end">−5.0</text>
<text x="404" y="66.78" font-size="6.9" text-anchor="end">−5.5</text>
<text x="404" y="87.4" font-size="6.9" text-anchor="end">−6.0</text>
<text x="404" y="108.03" font-size="6.9" text-anchor="end">−6.5</text>
<text x="404" y="128.65" font-size="6.9" text-anchor="end">−7.0</text>
<text x="404" y="149.28" font-size="6.9" text-anchor="end">−7.5</text>
<text x="404" y="169.9" font-size="6.9" text-anchor="end">−8.0</text>
<g transform="translate(504.9 187.7)"><text class="s" x="0" y="0" font-size="10.2">log</text><text class="s" x="12.9" y="2.2" font-size="7.3">10</text><text class="s" x="20.8" y="0" font-size="10.2" letter-spacing="0.2">(Energy</text><text class="s" x="59.6" y="0" font-size="10.2" letter-spacing="0.1">[MeV])</text></g>
<g transform="translate(379 157.6) rotate(-90)"><text class="s" x="0" y="0" font-size="10.2">log</text><text class="s" x="12.9" y="2.2" font-size="7.3">10</text><text class="s" x="20.3" y="0" font-size="10.2" letter-spacing="0.3">(Energy</text><text class="s" x="59.3" y="0" font-size="10.2">F</text><text class="s" x="69.7" y="0" font-size="10.2" letter-spacing="-0.15">[MeV</text><text class="s" x="96.8" y="0" font-size="10.2" letter-spacing="-0.4">cm</text><text class="s" x="110.4" y="-4.6" font-size="7.6">−2</text><text class="s" x="123.7" y="0" font-size="10.6">s</text><text class="s" x="129" y="-4.6" font-size="7.6">−1</text><text class="s" x="139.2" y="0" font-size="10.2" letter-spacing="-0.6">])</text></g>
<text class="s" x="447.2" y="23.2" font-size="10.3" textLength="43.4" lengthAdjust="spacingAndGlyphs">sn2008ip</text>
<rect x="697.5" y="2.5" width="9" height="165" fill="url(#cb)" stroke="#99a" stroke-width="0.7"/>
<text x="708.7" y="170" font-size="6.9">0</text>
<text x="708.7" y="153.5" font-size="6.9">1</text>
<text x="708.7" y="137" font-size="6.9">2</text>
<text x="708.7" y="120.5" font-size="6.9">3</text>
<text x="708.7" y="104" font-size="6.9">4</text>
<text x="708.7" y="87.5" font-size="6.9">5</text>
<text x="708.7" y="71" font-size="6.9">6</text>
<text x="708.7" y="54.5" font-size="6.9">7</text>
<text x="708.7" y="38" font-size="6.9">8</text>
<text x="708.7" y="21.5" font-size="6.9">9</text>
<path d="M706.5 167.5h-2M706.5 151h-2M706.5 134.5h-2M706.5 118h-2M706.5 101.5h-2M706.5 85h-2M706.5 68.5h-2M706.5 52h-2M706.5 35.5h-2M706.5 19h-2M706.5 2.5h-2" stroke="#333" stroke-width="0.6" fill="none"/>
<text class="s" transform="translate(721.8 85) rotate(-90)" font-size="11.6" text-anchor="middle">−Δlog<tspan font-style="italic">L</tspan></text>
</g>
<g>
<g class="c" transform="translate(37.2 198.5)"><rect y="61.9" fill="#0086ff"/><rect y="66" fill="#96ff61"/><rect y="70.1" fill="#ffc600"/><rect y="74.2" fill="#ff5500"/><rect y="78.4" fill="#ff1700"/><rect y="82.5" fill="#d30000"/><rect y="86.6" fill="#b00000"/><rect y="90.8" fill="#9b0000"/><rect y="94.9" fill="#8d0000"/><rect y="99" style="height:9.2px" fill="#860000"/><rect y="107.2" style="height:57.8px" fill="#800000"/></g>
<g class="c" transform="translate(51.52 198.5)"><rect y="66" fill="#0000ae"/><rect y="70.1" fill="#1fffd8"/><rect y="74.2" fill="#d1ff26"/><rect y="78.4" fill="#ffa400"/><rect y="82.5" fill="#ff4a00"/><rect y="86.6" fill="#fd1100"/><rect y="90.8" fill="#d30000"/><rect y="94.9" fill="#b70000"/><rect y="99" fill="#a20000"/><rect y="103.1" fill="#940000"/><rect y="107.2" fill="#8d0000"/><rect y="111.4" style="height:13.4px" fill="#860000"/><rect y="123.8" style="height:41.2px" fill="#800000"/></g>
<g class="c" transform="translate(65.84 198.5)"><rect y="70.1" fill="#0024ff"/><rect y="74.2" fill="#51ffa6"/><rect y="78.4" fill="#efff08"/><rect y="82.5" fill="#ff8200"/><rect y="86.6" fill="#ff3e00"/><rect y="90.8" fill="#f60b00"/><rect y="94.9" fill="#cc0000"/><rect y="99" fill="#b00000"/><rect y="103.1" fill="#a20000"/><rect y="107.2" fill="#940000"/><rect y="111.4" fill="#8d0000"/><rect y="115.5" style="height:9.2px" fill="#860000"/><rect y="123.8" style="height:41.2px" fill="#800000"/></g>
<g class="c" transform="translate(80.16 198.5)"><rect y="78.4" fill="#0024ff"/><rect y="82.5" fill="#15ffe1"/><rect y="86.6" fill="#96ff61"/><rect y="90.8" fill="#f8f400"/><rect y="94.9" fill="#ffa400"/><rect y="99" fill="#ff6c00"/><rect y="103.1" fill="#ff3e00"/><rect y="107.2" fill="#ff1700"/><rect y="111.4" fill="#e80000"/><rect y="115.5" fill="#cc0000"/><rect y="119.6" fill="#b70000"/><rect y="123.8" fill="#a90000"/><rect y="127.9" fill="#a20000"/><rect y="132" fill="#940000"/><rect y="136.1" style="height:9.2px" fill="#8d0000"/><rect y="144.4" style="height:13.4px" fill="#860000"/><rect y="156.8" style="height:8.2px" fill="#800000"/></g>
<g class="c" transform="translate(94.48 198.5)"><rect y="82.5" fill="#0000ae"/><rect y="86.6" fill="#00aaff"/><rect y="90.8" fill="#64ff92"/><rect y="94.9" fill="#d1ff26"/><rect y="99" fill="#ffc600"/><rect y="103.1" fill="#ff8200"/><rect y="107.2" fill="#ff4a00"/><rect y="111.4" fill="#ff2800"/><rect y="115.5" fill="#f60b00"/><rect y="119.6" fill="#da0000"/><rect y="123.8" fill="#c50000"/><rect y="127.9" fill="#b00000"/><rect y="132" fill="#a20000"/><rect y="136.1" fill="#9b0000"/><rect y="140.2" fill="#940000"/><rect y="144.4" style="height:9.2px" fill="#8d0000"/><rect y="152.6" style="height:12.4px" fill="#860000"/></g>
<g class="c" transform="translate(108.8 198.5)"><rect y="82.5" fill="#0024ff"/><rect y="86.6" fill="#29ffce"/><rect y="90.8" fill="#b3ff43"/><rect y="94.9" fill="#ffd200"/><rect y="99" fill="#ff8200"/><rect y="103.1" fill="#ff4a00"/><rect y="107.2" fill="#ff1c00"/><rect y="111.4" fill="#e80000"/><rect y="115.5" fill="#cc0000"/><rect y="119.6" fill="#b70000"/><rect y="123.8" fill="#a90000"/><rect y="127.9" fill="#9b0000"/><rect y="132" fill="#940000"/><rect y="136.1" style="height:9.2px" fill="#8d0000"/><rect y="144.4" style="height:13.4px" fill="#860000"/><rect y="156.8" style="height:8.2px" fill="#800000"/></g>
<g class="c" transform="translate(123.12 198.5)"><rect y="78.4" fill="#00cfff"/><rect y="82.5" fill="#dbff1c"/><rect y="86.6" fill="#ff8200"/><rect y="90.8" fill="#ff2200"/><rect y="94.9" fill="#cc0000"/><rect y="99" fill="#a90000"/><rect y="103.1" fill="#940000"/><rect y="107.2" style="height:9.2px" fill="#860000"/><rect y="115.5" style="height:49.5px" fill="#800000"/></g>
<g class="c" transform="translate(137.44 198.5)"><rect y="70.1" fill="#0000a0"/><rect y="74.2" fill="#6eff89"/><rect y="78.4" fill="#ffa400"/><rect y="82.5" fill="#ff1c00"/><rect y="86.6" fill="#b00000"/><rect y="90.8" fill="#8d0000"/><rect y="94.9" style="height:9.2px" fill="#800000"/><rect y="103.1" fill="#860000"/><rect y="107.2" fill="#8d0000"/><rect y="111.4" fill="#940000"/><rect y="115.5" fill="#9b0000"/><rect y="119.6" fill="#a20000"/><rect y="123.8" fill="#a90000"/><rect y="127.9" fill="#b00000"/><rect y="132" style="height:9.2px" fill="#b70000"/><rect y="140.2" fill="#be0000"/><rect y="144.4" style="height:9.2px" fill="#c50000"/><rect y="152.6" fill="#cc0000"/><rect y="156.8" style="height:8.2px" fill="#d30000"/></g>
<g class="c" transform="translate(151.76 198.5)"><rect y="78.4" fill="#0000ae"/><rect y="82.5" fill="#0092ff"/><rect y="86.6" fill="#47ffb0"/><rect y="90.8" fill="#b3ff43"/><rect y="94.9" fill="#ffe800"/><rect y="99" fill="#ff9900"/><rect y="103.1" fill="#ff6c00"/><rect y="107.2" fill="#ff3e00"/><rect y="111.4" fill="#ff1c00"/><rect y="115.5" fill="#e80000"/><rect y="119.6" fill="#d30000"/><rect y="123.8" fill="#be0000"/><rect y="127.9" fill="#b00000"/><rect y="132" fill="#a20000"/><rect y="136.1" fill="#9b0000"/><rect y="140.2" fill="#940000"/><rect y="144.4" fill="#8d0000"/><rect y="148.5" style="height:13.4px" fill="#860000"/><rect y="160.9" style="height:4.1px" fill="#800000"/></g>
<g class="c" transform="translate(166.08 198.5)"><rect y="66" fill="#0000ae"/><rect y="70.1" fill="#15ffe1"/><rect y="74.2" fill="#c7ff30"/><rect y="78.4" fill="#ffa400"/><rect y="82.5" fill="#ff5500"/><rect y="86.6" fill="#ff1700"/><rect y="90.8" fill="#da0000"/><rect y="94.9" fill="#b70000"/><rect y="99" fill="#a20000"/><rect y="103.1" fill="#9b0000"/><rect y="107.2" style="height:9.2px" fill="#8d0000"/><rect y="115.5" style="height:9.2px" fill="#860000"/><rect y="123.8" style="height:41.2px" fill="#800000"/></g>
<g class="c" transform="translate(180.4 198.5)"><rect y="70.1" fill="#0024ff"/><rect y="74.2" fill="#02e8f5"/><rect y="78.4" fill="#78ff7f"/><rect y="82.5" fill="#d1ff26"/><rect y="86.6" fill="#ffd200"/><rect y="90.8" fill="#ff8e00"/><rect y="94.9" fill="#ff5500"/><rect y="99" fill="#ff3300"/><rect y="103.1" fill="#fd1100"/><rect y="107.2" fill="#e10000"/><rect y="111.4" fill="#cc0000"/><rect y="115.5" fill="#b70000"/><rect y="119.6" fill="#a90000"/><rect y="123.8" fill="#a20000"/><rect y="127.9" style="height:9.2px" fill="#940000"/><rect y="136.1" fill="#8d0000"/><rect y="140.2" style="height:13.4px" fill="#860000"/><rect y="152.6" style="height:12.4px" fill="#800000"/></g>
<g class="c" transform="translate(194.72 198.5)"><rect y="61.9" fill="#0000ae"/><rect y="66" fill="#0086ff"/><rect y="70.1" fill="#33ffc4"/><rect y="74.2" fill="#a0ff57"/><rect y="78.4" fill="#efff08"/><rect y="82.5" fill="#ffbb00"/><rect y="86.6" fill="#ff7700"/><rect y="90.8" fill="#ff4a00"/><rect y="94.9" fill="#ff2800"/><rect y="99" fill="#f60b00"/><rect y="103.1" fill="#da0000"/><rect y="107.2" fill="#c50000"/><rect y="111.4" fill="#b70000"/><rect y="115.5" fill="#a90000"/><rect y="119.6" fill="#9b0000"/><rect y="123.8" fill="#940000"/><rect y="127.9" style="height:9.2px" fill="#8d0000"/><rect y="136.1" style="height:13.4px" fill="#860000"/><rect y="148.5" style="height:16.5px" fill="#800000"/></g>
<g class="c" transform="translate(209.04 198.5)"><rect y="57.8" fill="#0024ff"/><rect y="61.9" fill="#00dbff"/><rect y="66" fill="#64ff92"/><rect y="70.1" fill="#c7ff30"/><rect y="74.2" fill="#ffdd00"/><rect y="78.4" fill="#ff9900"/><rect y="82.5" fill="#ff6c00"/><rect y="86.6" fill="#ff3e00"/><rect y="90.8" fill="#ff1c00"/><rect y="94.9" fill="#ef0600"/><rect y="99" fill="#d30000"/><rect y="103.1" fill="#be0000"/><rect y="107.2" fill="#b00000"/><rect y="111.4" fill="#a20000"/><rect y="115.5" fill="#9b0000"/><rect y="119.6" fill="#940000"/><rect y="123.8" fill="#8d0000"/><rect y="127.9" style="height:17.5px" fill="#860000"/><rect y="144.4" style="height:20.6px" fill="#800000"/></g>
<g class="c" transform="translate(223.36 198.5)"><rect y="49.5" fill="#0024ff"/><rect y="53.6" fill="#00cfff"/><rect y="57.8" fill="#5aff9c"/><rect y="61.9" fill="#b3ff43"/><rect y="66" fill="#ffe800"/><rect y="70.1" fill="#ffa400"/><rect y="74.2" fill="#ff7700"/><rect y="78.4" fill="#ff4a00"/><rect y="82.5" fill="#ff2800"/><rect y="86.6" fill="#f60b00"/><rect y="90.8" fill="#da0000"/><rect y="94.9" fill="#c50000"/><rect y="99" fill="#b70000"/><rect y="103.1" fill="#a90000"/><rect y="107.2" fill="#a20000"/><rect y="111.4" style="height:9.2px" fill="#940000"/><rect y="119.6" fill="#8d0000"/><rect y="123.8" style="height:13.4px" fill="#860000"/><rect y="136.1" style="height:28.9px" fill="#800000"/></g>
<g class="c" transform="translate(237.68 198.5)"><rect y="41.2" fill="#0000ae"/><rect y="45.4" fill="#0079ff"/><rect y="49.5" fill="#29ffce"/><rect y="53.6" fill="#96ff61"/><rect y="57.8" fill="#e5ff12"/><rect y="61.9" fill="#ffc600"/><rect y="66" fill="#ff8200"/><rect y="70.1" fill="#ff5500"/><rect y="74.2" fill="#ff3300"/><rect y="78.4" fill="#fd1100"/><rect y="82.5" fill="#e10000"/><rect y="86.6" fill="#cc0000"/><rect y="90.8" fill="#b70000"/><rect y="94.9" fill="#a90000"/><rect y="99" fill="#a20000"/><rect y="103.1" fill="#9b0000"/><rect y="107.2" fill="#940000"/><rect y="111.4" fill="#8d0000"/><rect y="115.5" style="height:13.4px" fill="#860000"/><rect y="127.9" style="height:37.1px" fill="#800000"/></g>
<g class="c" transform="translate(252 198.5)"><rect y="37.1" fill="#0024ff"/><rect y="41.2" fill="#00dbff"/><rect y="45.4" fill="#6eff89"/><rect y="49.5" fill="#c7ff30"/><rect y="53.6" fill="#ffd200"/><rect y="57.8" fill="#ff9900"/><rect y="61.9" fill="#ff6000"/><rect y="66" fill="#ff3900"/><rect y="70.1" fill="#ff1700"/><rect y="74.2" fill="#e80000"/><rect y="78.4" fill="#cc0000"/><rect y="82.5" fill="#be0000"/><rect y="86.6" fill="#b00000"/><rect y="90.8" fill="#a20000"/><rect y="94.9" fill="#9b0000"/><rect y="99" fill="#940000"/><rect y="103.1" fill="#8d0000"/><rect y="107.2" style="height:13.4px" fill="#860000"/><rect y="119.6" style="height:45.4px" fill="#800000"/></g>
<g class="c" transform="translate(266.32 198.5)"><rect y="28.9" fill="#0024ff"/><rect y="33" fill="#00dbff"/><rect y="37.1" fill="#64ff92"/><rect y="41.2" fill="#c7ff30"/><rect y="45.4" fill="#ffdd00"/><rect y="49.5" fill="#ff9900"/><rect y="53.6" fill="#ff6000"/><rect y="57.8" fill="#ff3e00"/><rect y="61.9" fill="#ff1c00"/><rect y="66" fill="#e80000"/><rect y="70.1" fill="#d30000"/><rect y="74.2" fill="#be0000"/><rect y="78.4" fill="#b00000"/><rect y="82.5" fill="#a20000"/><rect y="86.6" fill="#9b0000"/><rect y="90.8" fill="#940000"/><rect y="94.9" fill="#8d0000"/><rect y="99" style="height:13.4px" fill="#860000"/><rect y="111.4" style="height:53.6px" fill="#800000"/></g>
<g class="c" transform="translate(280.64 198.5)"><rect y="20.6" fill="#0024ff"/><rect y="24.8" fill="#00cfff"/><rect y="28.9" fill="#64ff92"/><rect y="33" fill="#bdff3a"/><rect y="37.1" fill="#ffdd00"/><rect y="41.2" fill="#ff9900"/><rect y="45.4" fill="#ff6c00"/><rect y="49.5" fill="#ff3e00"/><rect y="53.6" fill="#ff1c00"/><rect y="57.8" fill="#ef0600"/><rect y="61.9" fill="#d30000"/><rect y="66" fill="#be0000"/><rect y="70.1" fill="#b00000"/><rect y="74.2" fill="#a20000"/><rect y="78.4" fill="#9b0000"/><rect y="82.5" fill="#940000"/><rect y="86.6" style="height:9.2px" fill="#8d0000"/><rect y="94.9" style="height:13.4px" fill="#860000"/><rect y="107.2" style="height:57.8px" fill="#800000"/></g>
<g class="c" transform="translate(294.96 198.5)"><rect y="12.4" fill="#0024ff"/><rect y="16.5" fill="#00cfff"/><rect y="20.6" fill="#64ff92"/><rect y="24.8" fill="#bdff3a"/><rect y="28.9" fill="#ffdd00"/><rect y="33" fill="#ff9900"/><rect y="37.1" fill="#ff6c00"/><rect y="41.2" fill="#ff3e00"/><rect y="45.4" fill="#ff1c00"/><rect y="49.5" fill="#ef0600"/><rect y="53.6" fill="#d30000"/><rect y="57.8" fill="#be0000"/><rect y="61.9" fill="#b00000"/><rect y="66" fill="#a20000"/><rect y="70.1" fill="#9b0000"/><rect y="74.2" fill="#940000"/><rect y="78.4" style="height:9.2px" fill="#8d0000"/><rect y="86.6" style="height:13.4px" fill="#860000"/><rect y="99" style="height:66px" fill="#800000"/></g>
<g class="e" transform="translate(309.28 198.5)"><rect y="4.1" fill="#0024ff"/><rect y="8.2" fill="#00cfff"/><rect y="12.4" fill="#64ff92"/><rect y="16.5" fill="#bdff3a"/><rect y="20.6" fill="#ffe800"/><rect y="24.8" fill="#ffa400"/><rect y="28.9" fill="#ff6c00"/><rect y="33" fill="#ff4a00"/><rect y="37.1" fill="#ff2200"/><rect y="41.2" fill="#ef0600"/><rect y="45.4" fill="#da0000"/><rect y="49.5" fill="#c50000"/><rect y="53.6" fill="#b00000"/><rect y="57.8" fill="#a90000"/><rect y="61.9" fill="#9b0000"/><rect y="66" fill="#940000"/><rect y="70.1" style="height:9.2px" fill="#8d0000"/><rect y="78.4" style="height:13.4px" fill="#860000"/><rect y="90.8" style="height:74.2px" fill="#800000"/></g>
<polyline points="44.36,262.3 58.68,266.4 73,291.9 87.32,274.3 101.64,297.7 115.96,288.3 130.28,289.2 144.6,273.2 158.92,297.7 173.24,271.6 187.56,278.1 201.88,274.6 216.2,269.9 230.52,263.7 244.84,256.6 259.16,249.4 273.48,241.5 287.8,233.9 302.12,226 316.44,217.7" fill="none" stroke="#000" stroke-width="0.8" stroke-dasharray="0.9 1.1"/>
<circle cx="44.36" cy="262.3" r="1.75" fill="#000"/>
<circle cx="58.68" cy="266.4" r="1.75" fill="#000"/>
<circle cx="73" cy="291.9" r="1.75" fill="#000"/>
<circle cx="87.32" cy="274.3" r="1.75" fill="#000"/>
<circle cx="101.64" cy="297.7" r="1.75" fill="#000"/>
<circle cx="115.96" cy="288.3" r="1.75" fill="#000"/>
<circle cx="130.28" cy="289.2" r="1.75" fill="#000"/>
<circle cx="144.6" cy="273.2" r="1.75" fill="#000"/>
<circle cx="158.92" cy="297.7" r="1.75" fill="#000"/>
<circle cx="173.24" cy="271.6" r="1.75" fill="#000"/>
<circle cx="187.56" cy="278.1" r="1.75" fill="#000"/>
<circle cx="201.88" cy="274.6" r="1.75" fill="#000"/>
<circle cx="216.2" cy="269.9" r="1.75" fill="#000"/>
<circle cx="230.52" cy="263.7" r="1.75" fill="#000"/>
<circle cx="244.84" cy="256.6" r="1.75" fill="#000"/>
<circle cx="259.16" cy="249.4" r="1.75" fill="#000"/>
<circle cx="273.48" cy="241.5" r="1.75" fill="#000"/>
<circle cx="287.8" cy="233.9" r="1.75" fill="#000"/>
<circle cx="302.12" cy="226" r="1.75" fill="#000"/>
<circle cx="316.44" cy="217.7" r="1.75" fill="#000"/>
<polyline points="44.36,276.3 58.68,271.6 73,296 87.32,292.3 101.64,306.3 115.96,297.5 130.28,291.5 144.6,281.1 158.92,303.7 173.24,283.2 187.56,291.2 201.88,286.4 216.2,280.2 230.52,274 244.84,267 259.16,259.5 273.48,251.5 287.8,244 302.12,235.3 316.44,228.1" fill="none" stroke="#000" stroke-width="0.85" stroke-dasharray="2.2 1.4 0.9 1.4"/>
<rect x="42.71" y="274.65" width="3.3" height="3.3" fill="#000"/>
<rect x="57.03" y="269.95" width="3.3" height="3.3" fill="#000"/>
<rect x="71.35" y="294.35" width="3.3" height="3.3" fill="#000"/>
<rect x="85.67" y="290.65" width="3.3" height="3.3" fill="#000"/>
<rect x="99.99" y="304.65" width="3.3" height="3.3" fill="#000"/>
<rect x="114.31" y="295.85" width="3.3" height="3.3" fill="#000"/>
<rect x="128.63" y="289.85" width="3.3" height="3.3" fill="#000"/>
<rect x="142.95" y="279.45" width="3.3" height="3.3" fill="#000"/>
<rect x="157.27" y="302.05" width="3.3" height="3.3" fill="#000"/>
<rect x="171.59" y="281.55" width="3.3" height="3.3" fill="#000"/>
<rect x="185.91" y="289.55" width="3.3" height="3.3" fill="#000"/>
<rect x="200.23" y="284.75" width="3.3" height="3.3" fill="#000"/>
<rect x="214.55" y="278.55" width="3.3" height="3.3" fill="#000"/>
<rect x="228.87" y="272.35" width="3.3" height="3.3" fill="#000"/>
<rect x="243.19" y="265.35" width="3.3" height="3.3" fill="#000"/>
<rect x="257.51" y="257.85" width="3.3" height="3.3" fill="#000"/>
<rect x="271.83" y="249.85" width="3.3" height="3.3" fill="#000"/>
<rect x="286.15" y="242.35" width="3.3" height="3.3" fill="#000"/>
<rect x="300.47" y="233.65" width="3.3" height="3.3" fill="#000"/>
<rect x="314.79" y="226.45" width="3.3" height="3.3" fill="#000"/>
<use href="#ar" x="44.36" y="278.4"/>
<use href="#ar" x="58.68" y="286.3"/>
<use href="#ar" x="73" y="289.4"/>
<use href="#ar" x="87.32" y="307"/>
<use href="#ar" x="101.64" y="313.2"/>
<use href="#ar" x="115.96" y="307.8"/>
<use href="#ar" x="130.28" y="291.5"/>
<use href="#ar" x="144.6" y="285.2"/>
<use href="#ar" x="158.92" y="311.5"/>
<use href="#ar" x="173.24" y="286.7"/>
<use href="#ar" x="187.56" y="302.2"/>
<use href="#ar" x="201.88" y="297"/>
<use href="#ar" x="216.2" y="291.2"/>
<use href="#ar" x="230.52" y="284.4"/>
<use href="#ar" x="244.84" y="277.3"/>
<use href="#ar" x="259.16" y="269.9"/>
<use href="#ar" x="273.48" y="262.2"/>
<use href="#ar" x="287.8" y="254.3"/>
<use href="#ar" x="302.12" y="246.1"/>
<use href="#ar" x="316.44" y="238.4"/>
<rect x="37.5" y="198.5" width="288" height="165" fill="none" stroke="#555" stroke-width="1"/>
<path d="M37.5 363.5v-2.5M37.5 198.5v2.5M78.64 363.5v-2.5M78.64 198.5v2.5M119.79 363.5v-2.5M119.79 198.5v2.5M160.93 363.5v-2.5M160.93 198.5v2.5M202.07 363.5v-2.5M202.07 198.5v2.5M243.21 363.5v-2.5M243.21 198.5v2.5M284.36 363.5v-2.5M284.36 198.5v2.5M325.5 363.5v-2.5M325.5 198.5v2.5M37.5 198.5h2.5M325.5 198.5h-2.5M37.5 219.12h2.5M325.5 219.12h-2.5M37.5 239.75h2.5M325.5 239.75h-2.5M37.5 260.38h2.5M325.5 260.38h-2.5M37.5 281h2.5M325.5 281h-2.5M37.5 301.62h2.5M325.5 301.62h-2.5M37.5 322.25h2.5M325.5 322.25h-2.5M37.5 342.88h2.5M325.5 342.88h-2.5M37.5 363.5h2.5M325.5 363.5h-2.5" stroke="#333" stroke-width="0.6" fill="none"/>
<text x="37.8" y="370.6" font-size="6.9" text-anchor="middle">2.0</text>
<text x="78.94" y="370.6" font-size="6.9" text-anchor="middle">2.5</text>
<text x="120.09" y="370.6" font-size="6.9" text-anchor="middle">3.0</text>
<text x="161.23" y="370.6" font-size="6.9" text-anchor="middle">3.5</text>
<text x="202.37" y="370.6" font-size="6.9" text-anchor="middle">4.0</text>
<text x="243.51" y="370.6" font-size="6.9" text-anchor="middle">4.5</text>
<text x="284.66" y="370.6" font-size="6.9" text-anchor="middle">5.0</text>
<text x="325.8" y="370.6" font-size="6.9" text-anchor="middle">5.5</text>
<text x="35" y="200.9" font-size="6.9" text-anchor="end">−4.0</text>
<text x="35" y="221.53" font-size="6.9" text-anchor="end">−4.5</text>
<text x="35" y="242.15" font-size="6.9" text-anchor="end">−5.0</text>
<text x="35" y="262.77" font-size="6.9" text-anchor="end">−5.5</text>
<text x="35" y="283.4" font-size="6.9" text-anchor="end">−6.0</text>
<text x="35" y="304.02" font-size="6.9" text-anchor="end">−6.5</text>
<text x="35" y="324.65" font-size="6.9" text-anchor="end">−7.0</text>
<text x="35" y="345.27" font-size="6.9" text-anchor="end">−7.5</text>
<text x="35" y="365.9" font-size="6.9" text-anchor="end">−8.0</text>
<g transform="translate(135.9 383.7)"><text class="s" x="0" y="0" font-size="10.2">log</text><text class="s" x="12.9" y="2.2" font-size="7.3">10</text><text class="s" x="20.8" y="0" font-size="10.2" letter-spacing="0.2">(Energy</text><text class="s" x="59.6" y="0" font-size="10.2" letter-spacing="0.1">[MeV])</text></g>
<g transform="translate(10 353.6) rotate(-90)"><text class="s" x="0" y="0" font-size="10.2">log</text><text class="s" x="12.9" y="2.2" font-size="7.3">10</text><text class="s" x="20.3" y="0" font-size="10.2" letter-spacing="0.3">(Energy</text><text class="s" x="59.3" y="0" font-size="10.2">F</text><text class="s" x="69.7" y="0" font-size="10.2" letter-spacing="-0.15">[MeV</text><text class="s" x="96.8" y="0" font-size="10.2" letter-spacing="-0.4">cm</text><text class="s" x="110.4" y="-4.6" font-size="7.6">−2</text><text class="s" x="123.7" y="0" font-size="10.6">s</text><text class="s" x="129" y="-4.6" font-size="7.6">−1</text><text class="s" x="139.2" y="0" font-size="10.2" letter-spacing="-0.6">])</text></g>
<text class="s" x="78.9" y="219.2" font-size="10.3" textLength="44.4" lengthAdjust="spacingAndGlyphs">sn2009au</text>
<rect x="328.5" y="198.5" width="9" height="165" fill="url(#cb)" stroke="#99a" stroke-width="0.7"/>
<text x="339.7" y="366" font-size="6.9">0</text>
<text x="339.7" y="349.5" font-size="6.9">1</text>
<text x="339.7" y="333" font-size="6.9">2</text>
<text x="339.7" y="316.5" font-size="6.9">3</text>
<text x="339.7" y="300" font-size="6.9">4</text>
<text x="339.7" y="283.5" font-size="6.9">5</text>
<text x="339.7" y="267" font-size="6.9">6</text>
<text x="339.7" y="250.5" font-size="6.9">7</text>
<text x="339.7" y="234" font-size="6.9">8</text>
<text x="339.7" y="217.5" font-size="6.9">9</text>
<text x="339.7" y="201" font-size="6.9">10</text>
<path d="M337.5 363.5h-2M337.5 347h-2M337.5 330.5h-2M337.5 314h-2M337.5 297.5h-2M337.5 281h-2M337.5 264.5h-2M337.5 248h-2M337.5 231.5h-2M337.5 215h-2M337.5 198.5h-2" stroke="#333" stroke-width="0.6" fill="none"/>
<text class="s" transform="translate(355.9 281) rotate(-90)" font-size="11.6" text-anchor="middle">−Δlog<tspan font-style="italic">L</tspan></text>
</g>
<g>
<g class="c" transform="translate(408 198.5)"><rect y="57.8" fill="#0086ff"/><rect y="61.9" fill="#dbff1c"/><rect y="66" fill="#ff6000"/><rect y="70.1" fill="#e80000"/><rect y="74.2" fill="#b00000"/><rect y="78.4" fill="#940000"/><rect y="82.5" fill="#860000"/><rect y="86.6" style="height:78.4px" fill="#800000"/></g>
<g class="c" transform="translate(422.32 198.5)"><rect y="57.8" fill="#00b7ff"/><rect y="61.9" fill="#ffc600"/><rect y="66" fill="#fd1100"/><rect y="70.1" fill="#9b0000"/><rect y="74.2" fill="#800000"/><rect y="78.4" fill="#860000"/><rect y="82.5" fill="#8d0000"/><rect y="86.6" fill="#a20000"/><rect y="90.8" fill="#b70000"/><rect y="94.9" fill="#cc0000"/><rect y="99" fill="#e10000"/><rect y="103.1" fill="#fd1100"/><rect y="107.2" fill="#ff1c00"/><rect y="111.4" fill="#ff2d00"/><rect y="115.5" fill="#ff3e00"/><rect y="119.6" fill="#ff4a00"/><rect y="123.8" fill="#ff5500"/><rect y="127.9" fill="#ff6000"/><rect y="132" style="height:9.2px" fill="#ff6c00"/><rect y="140.2" fill="#ff7700"/><rect y="144.4" style="height:9.2px" fill="#ff8200"/><rect y="152.6" style="height:12.4px" fill="#ff8e00"/></g>
<g class="c" transform="translate(436.64 198.5)"><rect y="61.9" fill="#0079ff"/><rect y="66" fill="#f8f400"/><rect y="70.1" fill="#ff2800"/><rect y="74.2" fill="#a90000"/><rect y="78.4" style="height:9.2px" fill="#800000"/><rect y="86.6" fill="#8d0000"/><rect y="90.8" fill="#9b0000"/><rect y="94.9" fill="#b00000"/><rect y="99" fill="#c50000"/><rect y="103.1" fill="#da0000"/><rect y="107.2" fill="#ef0600"/><rect y="111.4" fill="#ff1700"/><rect y="115.5" fill="#ff2800"/><rect y="119.6" fill="#ff3300"/><rect y="123.8" fill="#ff3e00"/><rect y="127.9" fill="#ff4a00"/><rect y="132" fill="#ff5500"/><rect y="136.1" fill="#ff6000"/><rect y="140.2" style="height:9.2px" fill="#ff6c00"/><rect y="148.5" style="height:9.2px" fill="#ff7700"/><rect y="156.8" style="height:8.2px" fill="#ff8200"/></g>
<g class="c" transform="translate(450.96 198.5)"><rect y="66" fill="#000bff"/><rect y="70.1" fill="#a0ff57"/><rect y="74.2" fill="#ff7700"/><rect y="78.4" fill="#ef0600"/><rect y="82.5" fill="#a20000"/><rect y="86.6" fill="#860000"/><rect y="90.8" style="height:9.2px" fill="#800000"/><rect y="99" fill="#860000"/><rect y="103.1" fill="#8d0000"/><rect y="107.2" fill="#940000"/><rect y="111.4" fill="#9b0000"/><rect y="115.5" fill="#a90000"/><rect y="119.6" fill="#b00000"/><rect y="123.8" fill="#b70000"/><rect y="127.9" fill="#be0000"/><rect y="132" style="height:9.2px" fill="#c50000"/><rect y="140.2" fill="#cc0000"/><rect y="144.4" style="height:9.2px" fill="#d30000"/><rect y="152.6" style="height:9.2px" fill="#da0000"/><rect y="160.9" style="height:4.1px" fill="#e10000"/></g>
<g class="c" transform="translate(465.28 198.5)"><rect y="70.1" fill="#0086ff"/><rect y="74.2" fill="#96ff61"/><rect y="78.4" fill="#ffbb00"/><rect y="82.5" fill="#ff5500"/><rect y="86.6" fill="#fd1100"/><rect y="90.8" fill="#cc0000"/><rect y="94.9" fill="#a90000"/><rect y="99" fill="#940000"/><rect y="103.1" fill="#8d0000"/><rect y="107.2" style="height:21.6px" fill="#860000"/><rect y="127.9" style="height:13.4px" fill="#8d0000"/><rect y="140.2" style="height:17.5px" fill="#940000"/><rect y="156.8" style="height:8.2px" fill="#9b0000"/></g>
<g class="c" transform="translate(479.6 198.5)"><rect y="70.1" fill="#0079ff"/><rect y="74.2" fill="#e5ff12"/><rect y="78.4" fill="#ff3e00"/><rect y="82.5" fill="#be0000"/><rect y="86.6" fill="#8d0000"/><rect y="90.8" fill="#800000"/><rect y="94.9" fill="#860000"/><rect y="99" fill="#8d0000"/><rect y="103.1" fill="#9b0000"/><rect y="107.2" fill="#a20000"/><rect y="111.4" fill="#b70000"/><rect y="115.5" fill="#c50000"/><rect y="119.6" fill="#cc0000"/><rect y="123.8" fill="#da0000"/><rect y="127.9" fill="#e80000"/><rect y="132" fill="#ef0600"/><rect y="136.1" fill="#fd1100"/><rect y="140.2" fill="#ff1700"/><rect y="144.4" fill="#ff1c00"/><rect y="148.5" fill="#ff2200"/><rect y="152.6" fill="#ff2800"/><rect y="156.8" fill="#ff2d00"/><rect y="160.9" style="height:4.1px" fill="#ff3300"/></g>
<g class="c" transform="translate(493.92 198.5)"><rect y="78.4" fill="#0086ff"/><rect y="82.5" fill="#82ff75"/><rect y="86.6" fill="#ffe800"/><rect y="90.8" fill="#ff8200"/><rect y="94.9" fill="#ff3e00"/><rect y="99" fill="#fd1100"/><rect y="103.1" fill="#d30000"/><rect y="107.2" fill="#b70000"/><rect y="111.4" fill="#a90000"/><rect y="115.5" fill="#9b0000"/><rect y="119.6" fill="#940000"/><rect y="123.8" fill="#8d0000"/><rect y="127.9" style="height:13.4px" fill="#860000"/><rect y="140.2" style="height:24.8px" fill="#800000"/></g>
<g class="c" transform="translate(508.24 198.5)"><rect y="78.4" fill="#0086ff"/><rect y="82.5" fill="#6eff89"/><rect y="86.6" fill="#e5ff12"/><rect y="90.8" fill="#ffa400"/><rect y="94.9" fill="#ff6000"/><rect y="99" fill="#ff2d00"/><rect y="103.1" fill="#f60b00"/><rect y="107.2" fill="#d30000"/><rect y="111.4" fill="#be0000"/><rect y="115.5" fill="#a90000"/><rect y="119.6" fill="#a20000"/><rect y="123.8" fill="#940000"/><rect y="127.9" style="height:9.2px" fill="#8d0000"/><rect y="136.1" style="height:13.4px" fill="#860000"/><rect y="148.5" style="height:16.5px" fill="#800000"/></g>
<g class="c" transform="translate(522.56 198.5)"><rect y="82.5" fill="#00cfff"/><rect y="86.6" fill="#5aff9c"/><rect y="90.8" fill="#b3ff43"/><rect y="94.9" fill="#f8f400"/><rect y="99" fill="#ffb000"/><rect y="103.1" fill="#ff7700"/><rect y="107.2" fill="#ff5500"/><rect y="111.4" fill="#ff2d00"/><rect y="115.5" fill="#fd1100"/><rect y="119.6" fill="#e10000"/><rect y="123.8" fill="#cc0000"/><rect y="127.9" fill="#be0000"/><rect y="132" fill="#b00000"/><rect y="136.1" fill="#a20000"/><rect y="140.2" fill="#9b0000"/><rect y="144.4" fill="#940000"/><rect y="148.5" style="height:9.2px" fill="#8d0000"/><rect y="156.8" style="height:8.2px" fill="#860000"/></g>
<g class="c" transform="translate(536.88 198.5)"><rect y="70.1" fill="#0000ae"/><rect y="74.2" fill="#0086ff"/><rect y="78.4" fill="#3dffba"/><rect y="82.5" fill="#a9ff4d"/><rect y="86.6" fill="#f8f400"/><rect y="90.8" fill="#ffa400"/><rect y="94.9" fill="#ff6c00"/><rect y="99" fill="#ff4a00"/><rect y="103.1" fill="#ff2200"/><rect y="107.2" fill="#ef0600"/><rect y="111.4" fill="#d30000"/><rect y="115.5" fill="#c50000"/><rect y="119.6" fill="#b00000"/><rect y="123.8" fill="#a20000"/><rect y="127.9" fill="#9b0000"/><rect y="132" fill="#940000"/><rect y="136.1" style="height:9.2px" fill="#8d0000"/><rect y="144.4" style="height:13.4px" fill="#860000"/><rect y="156.8" style="height:8.2px" fill="#800000"/></g>
<g class="c" transform="translate(551.2 198.5)"><rect y="70.1" fill="#0024ff"/><rect y="74.2" fill="#00dbff"/><rect y="78.4" fill="#6eff89"/><rect y="82.5" fill="#c7ff30"/><rect y="86.6" fill="#ffd200"/><rect y="90.8" fill="#ff9900"/><rect y="94.9" fill="#ff6000"/><rect y="99" fill="#ff3e00"/><rect y="103.1" fill="#ff1700"/><rect y="107.2" fill="#e80000"/><rect y="111.4" fill="#cc0000"/><rect y="115.5" fill="#be0000"/><rect y="119.6" fill="#b00000"/><rect y="123.8" fill="#a20000"/><rect y="127.9" fill="#9b0000"/><rect y="132" fill="#940000"/><rect y="136.1" fill="#8d0000"/><rect y="140.2" style="height:13.4px" fill="#860000"/><rect y="152.6" style="height:12.4px" fill="#800000"/></g>
<g class="c" transform="translate(565.52 198.5)"><rect y="61.9" fill="#0024ff"/><rect y="66" fill="#00dbff"/><rect y="70.1" fill="#6eff89"/><rect y="74.2" fill="#d1ff26"/><rect y="78.4" fill="#ffd200"/><rect y="82.5" fill="#ff8e00"/><rect y="86.6" fill="#ff6000"/><rect y="90.8" fill="#ff3300"/><rect y="94.9" fill="#ff1700"/><rect y="99" fill="#e80000"/><rect y="103.1" fill="#cc0000"/><rect y="107.2" fill="#b70000"/><rect y="111.4" fill="#a90000"/><rect y="115.5" fill="#a20000"/><rect y="119.6" fill="#9b0000"/><rect y="123.8" fill="#940000"/><rect y="127.9" fill="#8d0000"/><rect y="132" style="height:13.4px" fill="#860000"/><rect y="144.4" style="height:20.6px" fill="#800000"/></g>
<g class="c" transform="translate(579.84 198.5)"><rect y="57.8" fill="#0024ff"/><rect y="61.9" fill="#00dbff"/><rect y="66" fill="#6eff89"/><rect y="70.1" fill="#c7ff30"/><rect y="74.2" fill="#ffd200"/><rect y="78.4" fill="#ff9900"/><rect y="82.5" fill="#ff6000"/><rect y="86.6" fill="#ff3900"/><rect y="90.8" fill="#ff1700"/><rect y="94.9" fill="#e80000"/><rect y="99" fill="#cc0000"/><rect y="103.1" fill="#be0000"/><rect y="107.2" fill="#b00000"/><rect y="111.4" fill="#a20000"/><rect y="115.5" fill="#9b0000"/><rect y="119.6" fill="#940000"/><rect y="123.8" fill="#8d0000"/><rect y="127.9" style="height:13.4px" fill="#860000"/><rect y="140.2" style="height:24.8px" fill="#800000"/></g>
<g class="c" transform="translate(594.16 198.5)"><rect y="49.5" fill="#0024ff"/><rect y="53.6" fill="#00dbff"/><rect y="57.8" fill="#6eff89"/><rect y="61.9" fill="#c7ff30"/><rect y="66" fill="#ffd200"/><rect y="70.1" fill="#ff9900"/><rect y="74.2" fill="#ff6000"/><rect y="78.4" fill="#ff3900"/><rect y="82.5" fill="#ff1700"/><rect y="86.6" fill="#e80000"/><rect y="90.8" fill="#cc0000"/><rect y="94.9" fill="#be0000"/><rect y="99" fill="#b00000"/><rect y="103.1" fill="#a20000"/><rect y="107.2" fill="#9b0000"/><rect y="111.4" fill="#940000"/><rect y="115.5" fill="#8d0000"/><rect y="119.6" style="height:13.4px" fill="#860000"/><rect y="132" style="height:33px" fill="#800000"/></g>
<g class="c" transform="translate(608.48 198.5)"><rect y="41.2" fill="#0024ff"/><rect y="45.4" fill="#00cfff"/><rect y="49.5" fill="#64ff92"/><rect y="53.6" fill="#bdff3a"/><rect y="57.8" fill="#ffe800"/><rect y="61.9" fill="#ffa400"/><rect y="66" fill="#ff6c00"/><rect y="70.1" fill="#ff4a00"/><rect y="74.2" fill="#ff2200"/><rect y="78.4" fill="#f60b00"/><rect y="82.5" fill="#da0000"/><rect y="86.6" fill="#c50000"/><rect y="90.8" fill="#b70000"/><rect y="94.9" fill="#a90000"/><rect y="99" fill="#9b0000"/><rect y="103.1" fill="#940000"/><rect y="107.2" style="height:9.2px" fill="#8d0000"/><rect y="115.5" style="height:13.4px" fill="#860000"/><rect y="127.9" style="height:37.1px" fill="#800000"/></g>
<g class="c" transform="translate(622.8 198.5)"><rect y="33" fill="#0000ae"/><rect y="37.1" fill="#0079ff"/><rect y="41.2" fill="#29ffce"/><rect y="45.4" fill="#96ff61"/><rect y="49.5" fill="#e5ff12"/><rect y="53.6" fill="#ffbb00"/><rect y="57.8" fill="#ff8200"/><rect y="61.9" fill="#ff5500"/><rect y="66" fill="#ff2d00"/><rect y="70.1" fill="#fd1100"/><rect y="74.2" fill="#e10000"/><rect y="78.4" fill="#cc0000"/><rect y="82.5" fill="#b70000"/><rect y="86.6" fill="#a90000"/><rect y="90.8" fill="#a20000"/><rect y="94.9" fill="#940000"/><rect y="99" style="height:9.2px" fill="#8d0000"/><rect y="107.2" style="height:13.4px" fill="#860000"/><rect y="119.6" style="height:45.4px" fill="#800000"/></g>
<g class="c" transform="translate(637.12 198.5)"><rect y="24.8" fill="#0000ae"/><rect y="28.9" fill="#0079ff"/><rect y="33" fill="#29ffce"/><rect y="37.1" fill="#96ff61"/><rect y="41.2" fill="#e5ff12"/><rect y="45.4" fill="#ffbb00"/><rect y="49.5" fill="#ff8200"/><rect y="53.6" fill="#ff5500"/><rect y="57.8" fill="#ff2d00"/><rect y="61.9" fill="#fd1100"/><rect y="66" fill="#e10000"/><rect y="70.1" fill="#cc0000"/><rect y="74.2" fill="#b70000"/><rect y="78.4" fill="#a90000"/><rect y="82.5" fill="#a20000"/><rect y="86.6" style="height:9.2px" fill="#940000"/><rect y="94.9" fill="#8d0000"/><rect y="99" style="height:13.4px" fill="#860000"/><rect y="111.4" style="height:53.6px" fill="#800000"/></g>
<g class="c" transform="translate(651.44 198.5)"><rect y="16.5" fill="#0024ff"/><rect y="20.6" fill="#00dbff"/><rect y="24.8" fill="#6eff89"/><rect y="28.9" fill="#c7ff30"/><rect y="33" fill="#ffd200"/><rect y="37.1" fill="#ff8e00"/><rect y="41.2" fill="#ff6000"/><rect y="45.4" fill="#ff3900"/><rect y="49.5" fill="#ff1700"/><rect y="53.6" fill="#e80000"/><rect y="57.8" fill="#cc0000"/><rect y="61.9" fill="#be0000"/><rect y="66" fill="#b00000"/><rect y="70.1" fill="#a20000"/><rect y="74.2" fill="#9b0000"/><rect y="78.4" fill="#940000"/><rect y="82.5" fill="#8d0000"/><rect y="86.6" style="height:13.4px" fill="#860000"/><rect y="99" style="height:66px" fill="#800000"/></g>
<g class="c" transform="translate(665.76 198.5)"><rect y="12.4" fill="#0024ff"/><rect y="16.5" fill="#00dbff"/><rect y="20.6" fill="#64ff92"/><rect y="24.8" fill="#c7ff30"/><rect y="28.9" fill="#ffdd00"/><rect y="33" fill="#ff9900"/><rect y="37.1" fill="#ff6000"/><rect y="41.2" fill="#ff3e00"/><rect y="45.4" fill="#ff1c00"/><rect y="49.5" fill="#e80000"/><rect y="53.6" fill="#d30000"/><rect y="57.8" fill="#be0000"/><rect y="61.9" fill="#b00000"/><rect y="66" fill="#a20000"/><rect y="70.1" fill="#9b0000"/><rect y="74.2" fill="#940000"/><rect y="78.4" fill="#8d0000"/><rect y="82.5" style="height:13.4px" fill="#860000"/><rect y="94.9" style="height:70.1px" fill="#800000"/></g>
<g class="e" transform="translate(680.08 198.5)"><rect y="4.1" fill="#0024ff"/><rect y="8.2" fill="#00dbff"/><rect y="12.4" fill="#6eff89"/><rect y="16.5" fill="#c7ff30"/><rect y="20.6" fill="#ffdd00"/><rect y="24.8" fill="#ff9900"/><rect y="28.9" fill="#ff6000"/><rect y="33" fill="#ff3e00"/><rect y="37.1" fill="#ff1c00"/><rect y="41.2" fill="#e80000"/><rect y="45.4" fill="#d30000"/><rect y="49.5" fill="#be0000"/><rect y="53.6" fill="#b00000"/><rect y="57.8" fill="#a20000"/><rect y="61.9" fill="#9b0000"/><rect y="66" fill="#940000"/><rect y="70.1" fill="#8d0000"/><rect y="74.2" style="height:13.4px" fill="#860000"/><rect y="86.6" style="height:78.4px" fill="#800000"/></g>
<polyline points="415.16,256.1 429.48,267.5 443.8,262.3 458.12,262.3 472.44,271.2 486.76,270.1 501.08,295 515.4,279 529.72,296 544.04,280.9 558.36,280.4 572.68,267.8 587,269.5 601.32,260.1 615.64,255 629.96,247.7 644.28,240.1 658.6,232.2 672.92,224.6 687.24,216.3" fill="none" stroke="#000" stroke-width="0.8" stroke-dasharray="0.9 1.1"/>
<circle cx="415.16" cy="256.1" r="1.75" fill="#000"/>
<circle cx="429.48" cy="267.5" r="1.75" fill="#000"/>
<circle cx="443.8" cy="262.3" r="1.75" fill="#000"/>
<circle cx="458.12" cy="262.3" r="1.75" fill="#000"/>
<circle cx="472.44" cy="271.2" r="1.75" fill="#000"/>
<circle cx="486.76" cy="270.1" r="1.75" fill="#000"/>
<circle cx="501.08" cy="295" r="1.75" fill="#000"/>
<circle cx="515.4" cy="279" r="1.75" fill="#000"/>
<circle cx="529.72" cy="296" r="1.75" fill="#000"/>
<circle cx="544.04" cy="280.9" r="1.75" fill="#000"/>
<circle cx="558.36" cy="280.4" r="1.75" fill="#000"/>
<circle cx="572.68" cy="267.8" r="1.75" fill="#000"/>
<circle cx="587" cy="269.5" r="1.75" fill="#000"/>
<circle cx="601.32" cy="260.1" r="1.75" fill="#000"/>
<circle cx="615.64" cy="255" r="1.75" fill="#000"/>
<circle cx="629.96" cy="247.7" r="1.75" fill="#000"/>
<circle cx="644.28" cy="240.1" r="1.75" fill="#000"/>
<circle cx="658.6" cy="232.2" r="1.75" fill="#000"/>
<circle cx="672.92" cy="224.6" r="1.75" fill="#000"/>
<circle cx="687.24" cy="216.3" r="1.75" fill="#000"/>
<polyline points="415.16,261.9 429.48,271.6 443.8,262.3 458.12,273.9 472.44,271.6 486.76,275.3 501.08,297 515.4,292.9 529.72,302.6 544.04,291.2 558.36,291.8 572.68,280.8 587,279.2 601.32,270.5 615.64,264.9 629.96,257.7 644.28,250.2 658.6,234.7 672.92,234.7 687.24,226.4" fill="none" stroke="#000" stroke-width="0.85" stroke-dasharray="2.2 1.4 0.9 1.4"/>
<rect x="413.51" y="260.25" width="3.3" height="3.3" fill="#000"/>
<rect x="427.83" y="269.95" width="3.3" height="3.3" fill="#000"/>
<rect x="442.15" y="260.65" width="3.3" height="3.3" fill="#000"/>
<rect x="456.47" y="272.25" width="3.3" height="3.3" fill="#000"/>
<rect x="470.79" y="269.95" width="3.3" height="3.3" fill="#000"/>
<rect x="485.11" y="273.65" width="3.3" height="3.3" fill="#000"/>
<rect x="499.43" y="295.35" width="3.3" height="3.3" fill="#000"/>
<rect x="513.75" y="291.25" width="3.3" height="3.3" fill="#000"/>
<rect x="528.07" y="300.95" width="3.3" height="3.3" fill="#000"/>
<rect x="542.39" y="289.55" width="3.3" height="3.3" fill="#000"/>
<rect x="556.71" y="290.15" width="3.3" height="3.3" fill="#000"/>
<rect x="571.03" y="279.15" width="3.3" height="3.3" fill="#000"/>
<rect x="585.35" y="277.55" width="3.3" height="3.3" fill="#000"/>
<rect x="599.67" y="268.85" width="3.3" height="3.3" fill="#000"/>
<rect x="613.99" y="263.25" width="3.3" height="3.3" fill="#000"/>
<rect x="628.31" y="256.05" width="3.3" height="3.3" fill="#000"/>
<rect x="642.63" y="248.55" width="3.3" height="3.3" fill="#000"/>
<rect x="656.95" y="233.05" width="3.3" height="3.3" fill="#000"/>
<rect x="671.27" y="233.05" width="3.3" height="3.3" fill="#000"/>
<rect x="685.59" y="224.75" width="3.3" height="3.3" fill="#000"/>
<use href="#ar" x="415.16" y="269.1"/>
<use href="#ar" x="429.48" y="261.9"/>
<use href="#ar" x="443.8" y="266.6"/>
<use href="#ar" x="458.12" y="276.8"/>
<use href="#ar" x="472.44" y="281.9"/>
<use href="#ar" x="486.76" y="278"/>
<use href="#ar" x="501.08" y="298.1"/>
<use href="#ar" x="515.4" y="301.2"/>
<use href="#ar" x="529.72" y="314.2"/>
<use href="#ar" x="544.04" y="304.3"/>
<use href="#ar" x="558.36" y="303"/>
<use href="#ar" x="572.68" y="294.3"/>
<use href="#ar" x="587" y="290.6"/>
<use href="#ar" x="601.32" y="282.3"/>
<use href="#ar" x="615.64" y="275.7"/>
<use href="#ar" x="629.96" y="268.8"/>
<use href="#ar" x="644.28" y="260.6"/>
<use href="#ar" x="658.6" y="249.2"/>
<use href="#ar" x="672.92" y="245.7"/>
<use href="#ar" x="687.24" y="237.4"/>
<rect x="408.3" y="198.5" width="288" height="165" fill="none" stroke="#555" stroke-width="1"/>
<path d="M408.3 363.5v-2.5M408.3 198.5v2.5M449.44 363.5v-2.5M449.44 198.5v2.5M490.59 363.5v-2.5M490.59 198.5v2.5M531.73 363.5v-2.5M531.73 198.5v2.5M572.87 363.5v-2.5M572.87 198.5v2.5M614.01 363.5v-2.5M614.01 198.5v2.5M655.16 363.5v-2.5M655.16 198.5v2.5M696.3 363.5v-2.5M696.3 198.5v2.5M408.3 198.5h2.5M696.3 198.5h-2.5M408.3 219.12h2.5M696.3 219.12h-2.5M408.3 239.75h2.5M696.3 239.75h-2.5M408.3 260.38h2.5M696.3 260.38h-2.5M408.3 281h2.5M696.3 281h-2.5M408.3 301.62h2.5M696.3 301.62h-2.5M408.3 322.25h2.5M696.3 322.25h-2.5M408.3 342.88h2.5M696.3 342.88h-2.5M408.3 363.5h2.5M696.3 363.5h-2.5" stroke="#333" stroke-width="0.6" fill="none"/>
<text x="408.6" y="370.6" font-size="6.9" text-anchor="middle">2.0</text>
<text x="449.74" y="370.6" font-size="6.9" text-anchor="middle">2.5</text>
<text x="490.89" y="370.6" font-size="6.9" text-anchor="middle">3.0</text>
<text x="532.03" y="370.6" font-size="6.9" text-anchor="middle">3.5</text>
<text x="573.17" y="370.6" font-size="6.9" text-anchor="middle">4.0</text>
<text x="614.31" y="370.6" font-size="6.9" text-anchor="middle">4.5</text>
<text x="655.46" y="370.6" font-size="6.9" text-anchor="middle">5.0</text>
<text x="696.6" y="370.6" font-size="6.9" text-anchor="middle">5.5</text>
<text x="405.8" y="200.9" font-size="6.9" text-anchor="end">−4.0</text>
<text x="405.8" y="221.53" font-size="6.9" text-anchor="end">−4.5</text>
<text x="405.8" y="242.15" font-size="6.9" text-anchor="end">−5.0</text>
<text x="405.8" y="262.77" font-size="6.9" text-anchor="end">−5.5</text>
<text x="405.8" y="283.4" font-size="6.9" text-anchor="end">−6.0</text>
<text x="405.8" y="304.02" font-size="6.9" text-anchor="end">−6.5</text>
<text x="405.8" y="324.65" font-size="6.9" text-anchor="end">−7.0</text>
<text x="405.8" y="345.27" font-size="6.9" text-anchor="end">−7.5</text>
<text x="405.8" y="365.9" font-size="6.9" text-anchor="end">−8.0</text>
<g transform="translate(506.7 383.7)"><text class="s" x="0" y="0" font-size="10.2">log</text><text class="s" x="12.9" y="2.2" font-size="7.3">10</text><text class="s" x="20.8" y="0" font-size="10.2" letter-spacing="0.2">(Energy</text><text class="s" x="59.6" y="0" font-size="10.2" letter-spacing="0.1">[MeV])</text></g>
<g transform="translate(385.9 353.6) rotate(-90)"><text class="s" x="0" y="0" font-size="10.2">log</text><text class="s" x="12.9" y="2.2" font-size="7.3">10</text><text class="s" x="20.3" y="0" font-size="10.2" letter-spacing="0.3">(Energy</text><text class="s" x="59.3" y="0" font-size="10.2">F</text><text class="s" x="69.7" y="0" font-size="10.2" letter-spacing="-0.15">[MeV</text><text class="s" x="96.8" y="0" font-size="10.2" letter-spacing="-0.4">cm</text><text class="s" x="110.4" y="-4.6" font-size="7.6">−2</text><text class="s" x="123.7" y="0" font-size="10.6">s</text><text class="s" x="129" y="-4.6" font-size="7.6">−1</text><text class="s" x="139.2" y="0" font-size="10.2" letter-spacing="-0.6">])</text></g>
<text class="s" x="449.2" y="219.2" font-size="10.3" textLength="43.4" lengthAdjust="spacingAndGlyphs">sn2010bt</text>
<rect x="699.3" y="198.5" width="9" height="165" fill="url(#cb)" stroke="#99a" stroke-width="0.7"/>
<text x="710.5" y="366" font-size="6.9">0</text>
<text x="710.5" y="349.5" font-size="6.9">1</text>
<text x="710.5" y="333" font-size="6.9">2</text>
<text x="710.5" y="316.5" font-size="6.9">3</text>
<text x="710.5" y="300" font-size="6.9">4</text>
<text x="710.5" y="283.5" font-size="6.9">5</text>
<text x="710.5" y="267" font-size="6.9">6</text>
<text x="710.5" y="250.5" font-size="6.9">7</text>
<text x="710.5" y="234" font-size="6.9">8</text>
<text x="710.5" y="217.5" font-size="6.9">9</text>
<path d="M708.3 363.5h-2M708.3 347h-2M708.3 330.5h-2M708.3 314h-2M708.3 297.5h-2M708.3 281h-2M708.3 264.5h-2M708.3 248h-2M708.3 231.5h-2M708.3 215h-2M708.3 198.5h-2" stroke="#333" stroke-width="0.6" fill="none"/>
<text class="s" transform="translate(723.6 281) rotate(-90)" font-size="11.6" text-anchor="middle">−Δlog<tspan font-style="italic">L</tspan></text>
</g>
<g>
<g class="c" transform="translate(39.2 394.5)"><rect y="53.6" fill="#0079ff"/><rect y="57.8" fill="#e5ff12"/><rect y="61.9" fill="#ff3e00"/><rect y="66" fill="#be0000"/><rect y="70.1" fill="#8d0000"/><rect y="74.2" style="height:9.2px" fill="#800000"/><rect y="82.5" fill="#8d0000"/><rect y="86.6" fill="#940000"/><rect y="90.8" fill="#a20000"/><rect y="94.9" fill="#b00000"/><rect y="99" fill="#be0000"/><rect y="103.1" fill="#cc0000"/><rect y="107.2" fill="#d30000"/><rect y="111.4" fill="#e10000"/><rect y="115.5" fill="#e80000"/><rect y="119.6" fill="#f60b00"/><rect y="123.8" fill="#fd1100"/><rect y="127.9" fill="#ff1700"/><rect y="132" fill="#ff1c00"/><rect y="136.1" style="height:9.2px" fill="#ff2200"/><rect y="144.4" fill="#ff2800"/><rect y="148.5" style="height:9.2px" fill="#ff2d00"/><rect y="156.8" style="height:8.2px" fill="#ff3300"/></g>
<g class="c" transform="translate(53.52 394.5)"><rect y="70.1" fill="#0024ff"/><rect y="74.2" fill="#29ffce"/><rect y="78.4" fill="#b3ff43"/><rect y="82.5" fill="#ffd200"/><rect y="86.6" fill="#ff8200"/><rect y="90.8" fill="#ff4a00"/><rect y="94.9" fill="#ff1c00"/><rect y="99" fill="#e80000"/><rect y="103.1" fill="#cc0000"/><rect y="107.2" fill="#b70000"/><rect y="111.4" fill="#a90000"/><rect y="115.5" fill="#9b0000"/><rect y="119.6" fill="#940000"/><rect y="123.8" style="height:9.2px" fill="#8d0000"/><rect y="132" style="height:13.4px" fill="#860000"/><rect y="144.4" style="height:20.6px" fill="#800000"/></g>
<g class="c" transform="translate(67.84 394.5)"><rect y="78.4" fill="#0024ff"/><rect y="82.5" fill="#15ffe1"/><rect y="86.6" fill="#96ff61"/><rect y="90.8" fill="#f8f400"/><rect y="94.9" fill="#ffa400"/><rect y="99" fill="#ff6c00"/><rect y="103.1" fill="#ff3e00"/><rect y="107.2" fill="#ff1700"/><rect y="111.4" fill="#e80000"/><rect y="115.5" fill="#cc0000"/><rect y="119.6" fill="#b70000"/><rect y="123.8" fill="#a90000"/><rect y="127.9" fill="#a20000"/><rect y="132" fill="#940000"/><rect y="136.1" style="height:9.2px" fill="#8d0000"/><rect y="144.4" style="height:13.4px" fill="#860000"/><rect y="156.8" style="height:8.2px" fill="#800000"/></g>
<g class="c" transform="translate(82.16 394.5)"><rect y="78.4" fill="#0086ff"/><rect y="82.5" fill="#5aff9c"/><rect y="86.6" fill="#c7ff30"/><rect y="90.8" fill="#ffc600"/><rect y="94.9" fill="#ff8200"/><rect y="99" fill="#ff4a00"/><rect y="103.1" fill="#ff2200"/><rect y="107.2" fill="#ef0600"/><rect y="111.4" fill="#d30000"/><rect y="115.5" fill="#be0000"/><rect y="119.6" fill="#b00000"/><rect y="123.8" fill="#a20000"/><rect y="127.9" fill="#9b0000"/><rect y="132" fill="#940000"/><rect y="136.1" fill="#8d0000"/><rect y="140.2" style="height:13.4px" fill="#860000"/><rect y="152.6" style="height:12.4px" fill="#800000"/></g>
<g class="c" transform="translate(96.48 394.5)"><rect y="74.2" fill="#0024ff"/><rect y="78.4" fill="#51ffa6"/><rect y="82.5" fill="#e5ff12"/><rect y="86.6" fill="#ff9900"/><rect y="90.8" fill="#ff4a00"/><rect y="94.9" fill="#ff1700"/><rect y="99" fill="#da0000"/><rect y="103.1" fill="#be0000"/><rect y="107.2" fill="#a90000"/><rect y="111.4" fill="#9b0000"/><rect y="115.5" fill="#940000"/><rect y="119.6" fill="#8d0000"/><rect y="123.8" style="height:9.2px" fill="#860000"/><rect y="132" style="height:33px" fill="#800000"/></g>
<g class="c" transform="translate(110.8 394.5)"><rect y="82.5" fill="#0024ff"/><rect y="86.6" fill="#1fffd8"/><rect y="90.8" fill="#a9ff4d"/><rect y="94.9" fill="#ffdd00"/><rect y="99" fill="#ff8e00"/><rect y="103.1" fill="#ff5500"/><rect y="107.2" fill="#ff2d00"/><rect y="111.4" fill="#f60b00"/><rect y="115.5" fill="#da0000"/><rect y="119.6" fill="#c50000"/><rect y="123.8" fill="#b00000"/><rect y="127.9" fill="#a20000"/><rect y="132" fill="#9b0000"/><rect y="136.1" fill="#940000"/><rect y="140.2" fill="#8d0000"/><rect y="144.4" style="height:13.4px" fill="#860000"/><rect y="156.8" style="height:8.2px" fill="#800000"/></g>
<g class="c" transform="translate(125.12 394.5)"><rect y="78.4" fill="#0024ff"/><rect y="82.5" fill="#47ffb0"/><rect y="86.6" fill="#e5ff12"/><rect y="90.8" fill="#ff9900"/><rect y="94.9" fill="#ff4a00"/><rect y="99" fill="#ff1700"/><rect y="103.1" fill="#da0000"/><rect y="107.2" fill="#be0000"/><rect y="111.4" fill="#a90000"/><rect y="115.5" fill="#9b0000"/><rect y="119.6" fill="#940000"/><rect y="123.8" fill="#8d0000"/><rect y="127.9" style="height:13.4px" fill="#860000"/><rect y="140.2" style="height:24.8px" fill="#800000"/></g>
<g class="c" transform="translate(139.44 394.5)"><rect y="82.5" fill="#0024ff"/><rect y="86.6" fill="#0cf4eb"/><rect y="90.8" fill="#82ff75"/><rect y="94.9" fill="#e5ff12"/><rect y="99" fill="#ffbb00"/><rect y="103.1" fill="#ff8200"/><rect y="107.2" fill="#ff4a00"/><rect y="111.4" fill="#ff2800"/><rect y="115.5" fill="#f60b00"/><rect y="119.6" fill="#da0000"/><rect y="123.8" fill="#c50000"/><rect y="127.9" fill="#b00000"/><rect y="132" fill="#a90000"/><rect y="136.1" fill="#9b0000"/><rect y="140.2" fill="#940000"/><rect y="144.4" style="height:9.2px" fill="#8d0000"/><rect y="152.6" style="height:12.4px" fill="#860000"/></g>
<g class="c" transform="translate(153.76 394.5)"><rect y="82.5" fill="#0024ff"/><rect y="86.6" fill="#00dbff"/><rect y="90.8" fill="#6eff89"/><rect y="94.9" fill="#c7ff30"/><rect y="99" fill="#ffd200"/><rect y="103.1" fill="#ff8e00"/><rect y="107.2" fill="#ff6000"/><rect y="111.4" fill="#ff3900"/><rect y="115.5" fill="#ff1700"/><rect y="119.6" fill="#e80000"/><rect y="123.8" fill="#cc0000"/><rect y="127.9" fill="#be0000"/><rect y="132" fill="#b00000"/><rect y="136.1" fill="#a20000"/><rect y="140.2" fill="#9b0000"/><rect y="144.4" fill="#940000"/><rect y="148.5" fill="#8d0000"/><rect y="152.6" style="height:12.4px" fill="#860000"/></g>
<g class="c" transform="translate(168.08 394.5)"><rect y="70.1" fill="#0024ff"/><rect y="74.2" fill="#47ffb0"/><rect y="78.4" fill="#dbff1c"/><rect y="82.5" fill="#ffa400"/><rect y="86.6" fill="#ff5500"/><rect y="90.8" fill="#ff2200"/><rect y="94.9" fill="#e10000"/><rect y="99" fill="#c50000"/><rect y="103.1" fill="#b00000"/><rect y="107.2" fill="#a20000"/><rect y="111.4" fill="#940000"/><rect y="115.5" style="height:9.2px" fill="#8d0000"/><rect y="123.8" style="height:9.2px" fill="#860000"/><rect y="132" style="height:33px" fill="#800000"/></g>
<g class="c" transform="translate(182.4 394.5)"><rect y="70.1" fill="#0024ff"/><rect y="74.2" fill="#00dbff"/><rect y="78.4" fill="#6eff89"/><rect y="82.5" fill="#d1ff26"/><rect y="86.6" fill="#ffd200"/><rect y="90.8" fill="#ff8e00"/><rect y="94.9" fill="#ff6000"/><rect y="99" fill="#ff3300"/><rect y="103.1" fill="#ff1700"/><rect y="107.2" fill="#e80000"/><rect y="111.4" fill="#cc0000"/><rect y="115.5" fill="#be0000"/><rect y="119.6" fill="#a90000"/><rect y="123.8" fill="#a20000"/><rect y="127.9" fill="#9b0000"/><rect y="132" fill="#940000"/><rect y="136.1" fill="#8d0000"/><rect y="140.2" style="height:13.4px" fill="#860000"/><rect y="152.6" style="height:12.4px" fill="#800000"/></g>
<g class="c" transform="translate(196.72 394.5)"><rect y="61.9" fill="#0000ae"/><rect y="66" fill="#0086ff"/><rect y="70.1" fill="#3dffba"/><rect y="74.2" fill="#a9ff4d"/><rect y="78.4" fill="#f8f400"/><rect y="82.5" fill="#ffa400"/><rect y="86.6" fill="#ff6c00"/><rect y="90.8" fill="#ff4a00"/><rect y="94.9" fill="#ff2200"/><rect y="99" fill="#ef0600"/><rect y="103.1" fill="#d30000"/><rect y="107.2" fill="#be0000"/><rect y="111.4" fill="#b00000"/><rect y="115.5" fill="#a20000"/><rect y="119.6" fill="#9b0000"/><rect y="123.8" fill="#940000"/><rect y="127.9" style="height:9.2px" fill="#8d0000"/><rect y="136.1" style="height:13.4px" fill="#860000"/><rect y="148.5" style="height:16.5px" fill="#800000"/></g>
<g class="c" transform="translate(211.04 394.5)"><rect y="53.6" fill="#0000ae"/><rect y="57.8" fill="#0079ff"/><rect y="61.9" fill="#29ffce"/><rect y="66" fill="#96ff61"/><rect y="70.1" fill="#e5ff12"/><rect y="74.2" fill="#ffbb00"/><rect y="78.4" fill="#ff8200"/><rect y="82.5" fill="#ff5500"/><rect y="86.6" fill="#ff2d00"/><rect y="90.8" fill="#fd1100"/><rect y="94.9" fill="#e10000"/><rect y="99" fill="#cc0000"/><rect y="103.1" fill="#b70000"/><rect y="107.2" fill="#a90000"/><rect y="111.4" fill="#a20000"/><rect y="115.5" style="height:9.2px" fill="#940000"/><rect y="123.8" fill="#8d0000"/><rect y="127.9" style="height:13.4px" fill="#860000"/><rect y="140.2" style="height:24.8px" fill="#800000"/></g>
<g class="c" transform="translate(225.36 394.5)"><rect y="49.5" fill="#0024ff"/><rect y="53.6" fill="#00dbff"/><rect y="57.8" fill="#6eff89"/><rect y="61.9" fill="#d1ff26"/><rect y="66" fill="#ffd200"/><rect y="70.1" fill="#ff8e00"/><rect y="74.2" fill="#ff6000"/><rect y="78.4" fill="#ff3300"/><rect y="82.5" fill="#ff1700"/><rect y="86.6" fill="#e80000"/><rect y="90.8" fill="#cc0000"/><rect y="94.9" fill="#b70000"/><rect y="99" fill="#a90000"/><rect y="103.1" fill="#a20000"/><rect y="107.2" fill="#9b0000"/><rect y="111.4" fill="#940000"/><rect y="115.5" fill="#8d0000"/><rect y="119.6" style="height:13.4px" fill="#860000"/><rect y="132" style="height:33px" fill="#800000"/></g>
<g class="c" transform="translate(239.68 394.5)"><rect y="41.2" fill="#0024ff"/><rect y="45.4" fill="#00dbff"/><rect y="49.5" fill="#64ff92"/><rect y="53.6" fill="#c7ff30"/><rect y="57.8" fill="#ffdd00"/><rect y="61.9" fill="#ff9900"/><rect y="66" fill="#ff6000"/><rect y="70.1" fill="#ff3e00"/><rect y="74.2" fill="#ff1c00"/><rect y="78.4" fill="#e80000"/><rect y="82.5" fill="#d30000"/><rect y="86.6" fill="#be0000"/><rect y="90.8" fill="#b00000"/><rect y="94.9" fill="#a20000"/><rect y="99" fill="#9b0000"/><rect y="103.1" fill="#940000"/><rect y="107.2" fill="#8d0000"/><rect y="111.4" style="height:17.5px" fill="#860000"/><rect y="127.9" style="height:37.1px" fill="#800000"/></g>
<g class="c" transform="translate(254 394.5)"><rect y="33" fill="#0024ff"/><rect y="37.1" fill="#00cfff"/><rect y="41.2" fill="#64ff92"/><rect y="45.4" fill="#bdff3a"/><rect y="49.5" fill="#ffe800"/><rect y="53.6" fill="#ffa400"/><rect y="57.8" fill="#ff6c00"/><rect y="61.9" fill="#ff4a00"/><rect y="66" fill="#ff2200"/><rect y="70.1" fill="#f60b00"/><rect y="74.2" fill="#da0000"/><rect y="78.4" fill="#c50000"/><rect y="82.5" fill="#b70000"/><rect y="86.6" fill="#a90000"/><rect y="90.8" fill="#9b0000"/><rect y="94.9" fill="#940000"/><rect y="99" style="height:9.2px" fill="#8d0000"/><rect y="107.2" style="height:13.4px" fill="#860000"/><rect y="119.6" style="height:45.4px" fill="#800000"/></g>
<g class="c" transform="translate(268.32 394.5)"><rect y="24.8" fill="#0000ae"/><rect y="28.9" fill="#0086ff"/><rect y="33" fill="#33ffc4"/><rect y="37.1" fill="#a0ff57"/><rect y="41.2" fill="#efff08"/><rect y="45.4" fill="#ffb000"/><rect y="49.5" fill="#ff7700"/><rect y="53.6" fill="#ff4a00"/><rect y="57.8" fill="#ff2800"/><rect y="61.9" fill="#f60b00"/><rect y="66" fill="#da0000"/><rect y="70.1" fill="#c50000"/><rect y="74.2" fill="#b70000"/><rect y="78.4" fill="#a90000"/><rect y="82.5" fill="#9b0000"/><rect y="86.6" fill="#940000"/><rect y="90.8" style="height:9.2px" fill="#8d0000"/><rect y="99" style="height:13.4px" fill="#860000"/><rect y="111.4" style="height:53.6px" fill="#800000"/></g>
<g class="c" transform="translate(282.64 394.5)"><rect y="16.5" fill="#0024ff"/><rect y="20.6" fill="#00cfff"/><rect y="24.8" fill="#64ff92"/><rect y="28.9" fill="#bdff3a"/><rect y="33" fill="#ffdd00"/><rect y="37.1" fill="#ff9900"/><rect y="41.2" fill="#ff6c00"/><rect y="45.4" fill="#ff3e00"/><rect y="49.5" fill="#ff1c00"/><rect y="53.6" fill="#ef0600"/><rect y="57.8" fill="#d30000"/><rect y="61.9" fill="#be0000"/><rect y="66" fill="#b00000"/><rect y="70.1" fill="#a20000"/><rect y="74.2" fill="#9b0000"/><rect y="78.4" fill="#940000"/><rect y="82.5" style="height:9.2px" fill="#8d0000"/><rect y="90.8" style="height:13.4px" fill="#860000"/><rect y="103.1" style="height:61.9px" fill="#800000"/></g>
<g class="c" transform="translate(296.96 394.5)"><rect y="8.2" fill="#0000ae"/><rect y="12.4" fill="#0079ff"/><rect y="16.5" fill="#33ffc4"/><rect y="20.6" fill="#96ff61"/><rect y="24.8" fill="#efff08"/><rect y="28.9" fill="#ffbb00"/><rect y="33" fill="#ff8200"/><rect y="37.1" fill="#ff5500"/><rect y="41.2" fill="#ff2d00"/><rect y="45.4" fill="#fd1100"/><rect y="49.5" fill="#e10000"/><rect y="53.6" fill="#c50000"/><rect y="57.8" fill="#b70000"/><rect y="61.9" fill="#a90000"/><rect y="66" fill="#9b0000"/><rect y="70.1" fill="#940000"/><rect y="74.2" style="height:9.2px" fill="#8d0000"/><rect y="82.5" style="height:13.4px" fill="#860000"/><rect y="94.9" style="height:70.1px" fill="#800000"/></g>
<g class="e" transform="translate(311.28 394.5)"><rect y="0" fill="#0000ae"/><rect y="4.1" fill="#0086ff"/><rect y="8.2" fill="#33ffc4"/><rect y="12.4" fill="#96ff61"/><rect y="16.5" fill="#efff08"/><rect y="20.6" fill="#ffbb00"/><rect y="24.8" fill="#ff8200"/><rect y="28.9" fill="#ff4a00"/><rect y="33" fill="#ff2d00"/><rect y="37.1" fill="#f60b00"/><rect y="41.2" fill="#da0000"/><rect y="45.4" fill="#c50000"/><rect y="49.5" fill="#b70000"/><rect y="53.6" fill="#a90000"/><rect y="57.8" fill="#9b0000"/><rect y="61.9" fill="#940000"/><rect y="66" style="height:9.2px" fill="#8d0000"/><rect y="74.2" style="height:13.4px" fill="#860000"/><rect y="86.6" style="height:78.4px" fill="#800000"/></g>
<polyline points="46.36,457.9 60.68,485.4 75,480.2 89.32,486.8 103.64,489.9 117.96,479 132.28,481.7 146.6,480.6 160.92,492.4 175.24,480 189.56,478.9 203.88,471.2 218.2,464 232.52,456.8 246.84,449.9 261.16,441.7 275.48,434.4 289.8,426.6 304.12,418.3 318.44,410.2" fill="none" stroke="#000" stroke-width="0.8" stroke-dasharray="0.9 1.1"/>
<circle cx="46.36" cy="457.9" r="1.75" fill="#000"/>
<circle cx="60.68" cy="485.4" r="1.75" fill="#000"/>
<circle cx="75" cy="480.2" r="1.75" fill="#000"/>
<circle cx="89.32" cy="486.8" r="1.75" fill="#000"/>
<circle cx="103.64" cy="489.9" r="1.75" fill="#000"/>
<circle cx="117.96" cy="479" r="1.75" fill="#000"/>
<circle cx="132.28" cy="481.7" r="1.75" fill="#000"/>
<circle cx="146.6" cy="480.6" r="1.75" fill="#000"/>
<circle cx="160.92" cy="492.4" r="1.75" fill="#000"/>
<circle cx="175.24" cy="480" r="1.75" fill="#000"/>
<circle cx="189.56" cy="478.9" r="1.75" fill="#000"/>
<circle cx="203.88" cy="471.2" r="1.75" fill="#000"/>
<circle cx="218.2" cy="464" r="1.75" fill="#000"/>
<circle cx="232.52" cy="456.8" r="1.75" fill="#000"/>
<circle cx="246.84" cy="449.9" r="1.75" fill="#000"/>
<circle cx="261.16" cy="441.7" r="1.75" fill="#000"/>
<circle cx="275.48" cy="434.4" r="1.75" fill="#000"/>
<circle cx="289.8" cy="426.6" r="1.75" fill="#000"/>
<circle cx="304.12" cy="418.3" r="1.75" fill="#000"/>
<circle cx="318.44" cy="410.2" r="1.75" fill="#000"/>
<polyline points="46.36,458.9 60.68,486.2 75,489.9 89.32,495.1 103.64,493 117.96,492 132.28,481 146.6,494.7 160.92,500.3 175.24,492 189.56,487.2 203.88,481 218.2,473.7 232.52,466.5 246.84,459.7 261.16,452 275.48,444.8 289.8,436.5 304.12,428.2 318.44,419.9" fill="none" stroke="#000" stroke-width="0.85" stroke-dasharray="2.2 1.4 0.9 1.4"/>
<rect x="44.71" y="457.25" width="3.3" height="3.3" fill="#000"/>
<rect x="59.03" y="484.55" width="3.3" height="3.3" fill="#000"/>
<rect x="73.35" y="488.25" width="3.3" height="3.3" fill="#000"/>
<rect x="87.67" y="493.45" width="3.3" height="3.3" fill="#000"/>
<rect x="101.99" y="491.35" width="3.3" height="3.3" fill="#000"/>
<rect x="116.31" y="490.35" width="3.3" height="3.3" fill="#000"/>
<rect x="130.63" y="479.35" width="3.3" height="3.3" fill="#000"/>
<rect x="144.95" y="493.05" width="3.3" height="3.3" fill="#000"/>
<rect x="159.27" y="498.65" width="3.3" height="3.3" fill="#000"/>
<rect x="173.59" y="490.35" width="3.3" height="3.3" fill="#000"/>
<rect x="187.91" y="485.55" width="3.3" height="3.3" fill="#000"/>
<rect x="202.23" y="479.35" width="3.3" height="3.3" fill="#000"/>
<rect x="216.55" y="472.05" width="3.3" height="3.3" fill="#000"/>
<rect x="230.87" y="464.85" width="3.3" height="3.3" fill="#000"/>
<rect x="245.19" y="458.05" width="3.3" height="3.3" fill="#000"/>
<rect x="259.51" y="450.35" width="3.3" height="3.3" fill="#000"/>
<rect x="273.83" y="443.15" width="3.3" height="3.3" fill="#000"/>
<rect x="288.15" y="434.85" width="3.3" height="3.3" fill="#000"/>
<rect x="302.47" y="426.55" width="3.3" height="3.3" fill="#000"/>
<rect x="316.79" y="418.25" width="3.3" height="3.3" fill="#000"/>
<use href="#ar" x="46.36" y="457.2"/>
<use href="#ar" x="60.68" y="491.4"/>
<use href="#ar" x="75" y="503"/>
<use href="#ar" x="89.32" y="500.3"/>
<use href="#ar" x="103.64" y="490.6"/>
<use href="#ar" x="117.96" y="505.5"/>
<use href="#ar" x="132.28" y="495.1"/>
<use href="#ar" x="146.6" y="509.2"/>
<use href="#ar" x="160.92" y="511.2"/>
<use href="#ar" x="175.24" y="487.5"/>
<use href="#ar" x="189.56" y="498.6"/>
<use href="#ar" x="203.88" y="492"/>
<use href="#ar" x="218.2" y="485.5"/>
<use href="#ar" x="232.52" y="477.9"/>
<use href="#ar" x="246.84" y="470.6"/>
<use href="#ar" x="261.16" y="463.4"/>
<use href="#ar" x="275.48" y="455.7"/>
<use href="#ar" x="289.8" y="446.2"/>
<use href="#ar" x="304.12" y="439.6"/>
<use href="#ar" x="318.44" y="431.3"/>
<rect x="39.5" y="394.5" width="288" height="165" fill="none" stroke="#555" stroke-width="1"/>
<path d="M39.5 559.5v-2.5M39.5 394.5v2.5M80.64 559.5v-2.5M80.64 394.5v2.5M121.79 559.5v-2.5M121.79 394.5v2.5M162.93 559.5v-2.5M162.93 394.5v2.5M204.07 559.5v-2.5M204.07 394.5v2.5M245.21 559.5v-2.5M245.21 394.5v2.5M286.36 559.5v-2.5M286.36 394.5v2.5M327.5 559.5v-2.5M327.5 394.5v2.5M39.5 394.5h2.5M327.5 394.5h-2.5M39.5 415.12h2.5M327.5 415.12h-2.5M39.5 435.75h2.5M327.5 435.75h-2.5M39.5 456.38h2.5M327.5 456.38h-2.5M39.5 477h2.5M327.5 477h-2.5M39.5 497.62h2.5M327.5 497.62h-2.5M39.5 518.25h2.5M327.5 518.25h-2.5M39.5 538.88h2.5M327.5 538.88h-2.5M39.5 559.5h2.5M327.5 559.5h-2.5" stroke="#333" stroke-width="0.6" fill="none"/>
<text x="39.8" y="566.6" font-size="6.9" text-anchor="middle">2.0</text>
<text x="80.94" y="566.6" font-size="6.9" text-anchor="middle">2.5</text>
<text x="122.09" y="566.6" font-size="6.9" text-anchor="middle">3.0</text>
<text x="163.23" y="566.6" font-size="6.9" text-anchor="middle">3.5</text>
<text x="204.37" y="566.6" font-size="6.9" text-anchor="middle">4.0</text>
<text x="245.51" y="566.6" font-size="6.9" text-anchor="middle">4.5</text>
<text x="286.66" y="566.6" font-size="6.9" text-anchor="middle">5.0</text>
<text x="327.8" y="566.6" font-size="6.9" text-anchor="middle">5.5</text>
<text x="37" y="396.9" font-size="6.9" text-anchor="end">−4.0</text>
<text x="37" y="417.52" font-size="6.9" text-anchor="end">−4.5</text>
<text x="37" y="438.15" font-size="6.9" text-anchor="end">−5.0</text>
<text x="37" y="458.77" font-size="6.9" text-anchor="end">−5.5</text>
<text x="37" y="479.4" font-size="6.9" text-anchor="end">−6.0</text>
<text x="37" y="500.02" font-size="6.9" text-anchor="end">−6.5</text>
<text x="37" y="520.65" font-size="6.9" text-anchor="end">−7.0</text>
<text x="37" y="541.27" font-size="6.9" text-anchor="end">−7.5</text>
<text x="37" y="561.9" font-size="6.9" text-anchor="end">−8.0</text>
<g transform="translate(137.9 579.7)"><text class="s" x="0" y="0" font-size="10.2">log</text><text class="s" x="12.9" y="2.2" font-size="7.3">10</text><text class="s" x="20.8" y="0" font-size="10.2" letter-spacing="0.2">(Energy</text><text class="s" x="59.6" y="0" font-size="10.2" letter-spacing="0.1">[MeV])</text></g>
<g transform="translate(12 549.6) rotate(-90)"><text class="s" x="0" y="0" font-size="10.2">log</text><text class="s" x="12.9" y="2.2" font-size="7.3">10</text><text class="s" x="20.3" y="0" font-size="10.2" letter-spacing="0.3">(Energy</text><text class="s" x="59.3" y="0" font-size="10.2">F</text><text class="s" x="69.7" y="0" font-size="10.2" letter-spacing="-0.15">[MeV</text><text class="s" x="96.8" y="0" font-size="10.2" letter-spacing="-0.4">cm</text><text class="s" x="110.4" y="-4.6" font-size="7.6">−2</text><text class="s" x="123.7" y="0" font-size="10.6">s</text><text class="s" x="129" y="-4.6" font-size="7.6">−1</text><text class="s" x="139.2" y="0" font-size="10.2" letter-spacing="-0.6">])</text></g>
<text class="s" x="80.6" y="415.2" font-size="10.3" textLength="41" lengthAdjust="spacingAndGlyphs">sn2011A</text>
<rect x="330.5" y="394.5" width="9" height="165" fill="url(#cb)" stroke="#99a" stroke-width="0.7"/>
<text x="341.7" y="562" font-size="6.9">0</text>
<text x="341.7" y="545.5" font-size="6.9">1</text>
<text x="341.7" y="529" font-size="6.9">2</text>
<text x="341.7" y="512.5" font-size="6.9">3</text>
<text x="341.7" y="496" font-size="6.9">4</text>
<text x="341.7" y="479.5" font-size="6.9">5</text>
<text x="341.7" y="463" font-size="6.9">6</text>
<text x="341.7" y="446.5" font-size="6.9">7</text>
<text x="341.7" y="430" font-size="6.9">8</text>
<text x="341.7" y="413.5" font-size="6.9">9</text>
<path d="M339.5 559.5h-2M339.5 543h-2M339.5 526.5h-2M339.5 510h-2M339.5 493.5h-2M339.5 477h-2M339.5 460.5h-2M339.5 444h-2M339.5 427.5h-2M339.5 411h-2M339.5 394.5h-2" stroke="#333" stroke-width="0.6" fill="none"/>
<text class="s" transform="translate(354.8 477) rotate(-90)" font-size="11.6" text-anchor="middle">−Δlog<tspan font-style="italic">L</tspan></text>
</g>
<g>
<g class="c" transform="translate(406.2 394.5)"><rect y="57.8" fill="#00cfff"/><rect y="61.9" fill="#bdff3a"/><rect y="66" fill="#ffa400"/><rect y="70.1" fill="#ff3e00"/><rect y="74.2" fill="#ef0600"/><rect y="78.4" fill="#be0000"/><rect y="82.5" fill="#a20000"/><rect y="86.6" fill="#940000"/><rect y="90.8" fill="#8d0000"/><rect y="94.9" style="height:9.2px" fill="#860000"/><rect y="103.1" fill="#8d0000"/><rect y="107.2" fill="#940000"/><rect y="111.4" style="height:9.2px" fill="#9b0000"/><rect y="119.6" fill="#a20000"/><rect y="123.8" fill="#a90000"/><rect y="127.9" fill="#b00000"/><rect y="132" style="height:9.2px" fill="#b70000"/><rect y="140.2" fill="#be0000"/><rect y="144.4" style="height:13.4px" fill="#c50000"/><rect y="156.8" style="height:8.2px" fill="#cc0000"/></g>
<g class="c" transform="translate(420.52 394.5)"><rect y="66" fill="#0024ff"/><rect y="70.1" fill="#51ffa6"/><rect y="74.2" fill="#e5ff12"/><rect y="78.4" fill="#ff8e00"/><rect y="82.5" fill="#ff4a00"/><rect y="86.6" fill="#fd1100"/><rect y="90.8" fill="#d30000"/><rect y="94.9" fill="#b70000"/><rect y="99" fill="#a90000"/><rect y="103.1" fill="#9b0000"/><rect y="107.2" style="height:9.2px" fill="#8d0000"/><rect y="115.5" style="height:9.2px" fill="#860000"/><rect y="123.8" style="height:41.2px" fill="#800000"/></g>
<g class="c" transform="translate(434.84 394.5)"><rect y="70.1" fill="#0024ff"/><rect y="74.2" fill="#51ffa6"/><rect y="78.4" fill="#efff08"/><rect y="82.5" fill="#ff8200"/><rect y="86.6" fill="#ff3900"/><rect y="90.8" fill="#ef0600"/><rect y="94.9" fill="#cc0000"/><rect y="99" fill="#b00000"/><rect y="103.1" fill="#9b0000"/><rect y="107.2" fill="#940000"/><rect y="111.4" fill="#8d0000"/><rect y="115.5" style="height:9.2px" fill="#860000"/><rect y="123.8" style="height:41.2px" fill="#800000"/></g>
<g class="c" transform="translate(449.16 394.5)"><rect y="78.4" fill="#0024ff"/><rect y="82.5" fill="#29ffce"/><rect y="86.6" fill="#bdff3a"/><rect y="90.8" fill="#ffc600"/><rect y="94.9" fill="#ff7700"/><rect y="99" fill="#ff3e00"/><rect y="103.1" fill="#ff1c00"/><rect y="107.2" fill="#e10000"/><rect y="111.4" fill="#cc0000"/><rect y="115.5" fill="#b70000"/><rect y="119.6" fill="#a90000"/><rect y="123.8" fill="#9b0000"/><rect y="127.9" fill="#940000"/><rect y="132" fill="#8d0000"/><rect y="136.1" style="height:13.4px" fill="#860000"/><rect y="148.5" style="height:16.5px" fill="#800000"/></g>
<g class="c" transform="translate(463.48 394.5)"><rect y="70.1" fill="#0000ae"/><rect y="74.2" fill="#51ffa6"/><rect y="78.4" fill="#ffd200"/><rect y="82.5" fill="#ff5500"/><rect y="86.6" fill="#ef0600"/><rect y="90.8" fill="#be0000"/><rect y="94.9" fill="#9b0000"/><rect y="99" fill="#8d0000"/><rect y="103.1" fill="#860000"/><rect y="107.2" style="height:57.8px" fill="#800000"/></g>
<g class="c" transform="translate(477.8 394.5)"><rect y="70.1" fill="#0024ff"/><rect y="74.2" fill="#64ff92"/><rect y="78.4" fill="#ffdd00"/><rect y="82.5" fill="#ff6c00"/><rect y="86.6" fill="#ff1c00"/><rect y="90.8" fill="#d30000"/><rect y="94.9" fill="#b00000"/><rect y="99" fill="#9b0000"/><rect y="103.1" fill="#8d0000"/><rect y="107.2" style="height:9.2px" fill="#860000"/><rect y="115.5" fill="#8d0000"/><rect y="119.6" fill="#940000"/><rect y="123.8" style="height:9.2px" fill="#9b0000"/><rect y="132" fill="#a20000"/><rect y="136.1" fill="#a90000"/><rect y="140.2" fill="#b00000"/><rect y="144.4" style="height:9.2px" fill="#b70000"/><rect y="152.6" fill="#be0000"/><rect y="156.8" style="height:8.2px" fill="#c50000"/></g>
<g class="c" transform="translate(492.12 394.5)"><rect y="74.2" fill="#00cfff"/><rect y="78.4" fill="#bdff3a"/><rect y="82.5" fill="#ffa400"/><rect y="86.6" fill="#ff3e00"/><rect y="90.8" fill="#ef0600"/><rect y="94.9" fill="#be0000"/><rect y="99" fill="#a20000"/><rect y="103.1" fill="#940000"/><rect y="107.2" fill="#8d0000"/><rect y="111.4" style="height:25.8px" fill="#860000"/><rect y="136.1" style="height:17.5px" fill="#8d0000"/><rect y="152.6" style="height:12.4px" fill="#940000"/></g>
<g class="c" transform="translate(506.44 394.5)"><rect y="74.2" fill="#0079ff"/><rect y="78.4" fill="#dbff1c"/><rect y="82.5" fill="#ff4a00"/><rect y="86.6" fill="#cc0000"/><rect y="90.8" fill="#940000"/><rect y="94.9" style="height:9.2px" fill="#800000"/><rect y="103.1" fill="#860000"/><rect y="107.2" fill="#8d0000"/><rect y="111.4" fill="#9b0000"/><rect y="115.5" fill="#a20000"/><rect y="119.6" fill="#b00000"/><rect y="123.8" fill="#b70000"/><rect y="127.9" fill="#c50000"/><rect y="132" fill="#cc0000"/><rect y="136.1" fill="#d30000"/><rect y="140.2" fill="#da0000"/><rect y="144.4" fill="#e10000"/><rect y="148.5" fill="#e80000"/><rect y="152.6" fill="#ef0600"/><rect y="156.8" style="height:8.2px" fill="#f60b00"/></g>
<g class="c" transform="translate(520.76 394.5)"><rect y="70.1" fill="#0000ae"/><rect y="74.2" fill="#29ffce"/><rect y="78.4" fill="#e5ff12"/><rect y="82.5" fill="#ff8200"/><rect y="86.6" fill="#ff2d00"/><rect y="90.8" fill="#e10000"/><rect y="94.9" fill="#b70000"/><rect y="99" fill="#a20000"/><rect y="103.1" fill="#940000"/><rect y="107.2" style="height:17.5px" fill="#860000"/><rect y="123.8" style="height:9.2px" fill="#8d0000"/><rect y="132" style="height:9.2px" fill="#940000"/><rect y="140.2" style="height:17.5px" fill="#9b0000"/><rect y="156.8" style="height:8.2px" fill="#a20000"/></g>
<g class="c" transform="translate(535.08 394.5)"><rect y="66" fill="#0024ff"/><rect y="70.1" fill="#47ffb0"/><rect y="74.2" fill="#e5ff12"/><rect y="78.4" fill="#ff9900"/><rect y="82.5" fill="#ff4a00"/><rect y="86.6" fill="#ff1700"/><rect y="90.8" fill="#da0000"/><rect y="94.9" fill="#be0000"/><rect y="99" fill="#a90000"/><rect y="103.1" fill="#9b0000"/><rect y="107.2" fill="#940000"/><rect y="111.4" fill="#8d0000"/><rect y="115.5" style="height:13.4px" fill="#860000"/><rect y="127.9" style="height:37.1px" fill="#800000"/></g>
<g class="c" transform="translate(549.4 394.5)"><rect y="70.1" fill="#0024ff"/><rect y="74.2" fill="#00cfff"/><rect y="78.4" fill="#64ff92"/><rect y="82.5" fill="#bdff3a"/><rect y="86.6" fill="#ffe800"/><rect y="90.8" fill="#ffa400"/><rect y="94.9" fill="#ff6c00"/><rect y="99" fill="#ff3e00"/><rect y="103.1" fill="#ff2200"/><rect y="107.2" fill="#ef0600"/><rect y="111.4" fill="#da0000"/><rect y="115.5" fill="#c50000"/><rect y="119.6" fill="#b00000"/><rect y="123.8" fill="#a90000"/><rect y="127.9" fill="#9b0000"/><rect y="132" fill="#940000"/><rect y="136.1" style="height:9.2px" fill="#8d0000"/><rect y="144.4" style="height:13.4px" fill="#860000"/><rect y="156.8" style="height:8.2px" fill="#800000"/></g>
<g class="c" transform="translate(563.72 394.5)"><rect y="61.9" fill="#0000ae"/><rect y="66" fill="#009eff"/><rect y="70.1" fill="#5aff9c"/><rect y="74.2" fill="#bdff3a"/><rect y="78.4" fill="#ffdd00"/><rect y="82.5" fill="#ff8e00"/><rect y="86.6" fill="#ff6000"/><rect y="90.8" fill="#ff3300"/><rect y="94.9" fill="#fd1100"/><rect y="99" fill="#e10000"/><rect y="103.1" fill="#cc0000"/><rect y="107.2" fill="#b70000"/><rect y="111.4" fill="#a90000"/><rect y="115.5" fill="#a20000"/><rect y="119.6" fill="#940000"/><rect y="123.8" style="height:9.2px" fill="#8d0000"/><rect y="132" style="height:13.4px" fill="#860000"/><rect y="144.4" style="height:20.6px" fill="#800000"/></g>
<g class="c" transform="translate(578.04 394.5)"><rect y="53.6" fill="#0024ff"/><rect y="57.8" fill="#00dbff"/><rect y="61.9" fill="#6eff89"/><rect y="66" fill="#d1ff26"/><rect y="70.1" fill="#ffd200"/><rect y="74.2" fill="#ff8e00"/><rect y="78.4" fill="#ff6000"/><rect y="82.5" fill="#ff3300"/><rect y="86.6" fill="#ff1700"/><rect y="90.8" fill="#e10000"/><rect y="94.9" fill="#cc0000"/><rect y="99" fill="#b70000"/><rect y="103.1" fill="#a90000"/><rect y="107.2" fill="#a20000"/><rect y="111.4" fill="#9b0000"/><rect y="115.5" fill="#940000"/><rect y="119.6" fill="#8d0000"/><rect y="123.8" style="height:13.4px" fill="#860000"/><rect y="136.1" style="height:28.9px" fill="#800000"/></g>
<g class="c" transform="translate(592.36 394.5)"><rect y="45.4" fill="#0000ae"/><rect y="49.5" fill="#0086ff"/><rect y="53.6" fill="#3dffba"/><rect y="57.8" fill="#a9ff4d"/><rect y="61.9" fill="#f8f400"/><rect y="66" fill="#ffb000"/><rect y="70.1" fill="#ff7700"/><rect y="74.2" fill="#ff4a00"/><rect y="78.4" fill="#ff2200"/><rect y="82.5" fill="#f60b00"/><rect y="86.6" fill="#da0000"/><rect y="90.8" fill="#c50000"/><rect y="94.9" fill="#b00000"/><rect y="99" fill="#a90000"/><rect y="103.1" fill="#9b0000"/><rect y="107.2" fill="#940000"/><rect y="111.4" style="height:9.2px" fill="#8d0000"/><rect y="119.6" style="height:13.4px" fill="#860000"/><rect y="132" style="height:33px" fill="#800000"/></g>
<g class="c" transform="translate(606.68 394.5)"><rect y="41.2" fill="#0000ae"/><rect y="45.4" fill="#0086ff"/><rect y="49.5" fill="#33ffc4"/><rect y="53.6" fill="#a0ff57"/><rect y="57.8" fill="#efff08"/><rect y="61.9" fill="#ffb000"/><rect y="66" fill="#ff7700"/><rect y="70.1" fill="#ff4a00"/><rect y="74.2" fill="#ff2800"/><rect y="78.4" fill="#f60b00"/><rect y="82.5" fill="#da0000"/><rect y="86.6" fill="#c50000"/><rect y="90.8" fill="#b70000"/><rect y="94.9" fill="#a90000"/><rect y="99" fill="#9b0000"/><rect y="103.1" fill="#940000"/><rect y="107.2" style="height:9.2px" fill="#8d0000"/><rect y="115.5" style="height:13.4px" fill="#860000"/><rect y="127.9" style="height:37.1px" fill="#800000"/></g>
<g class="c" transform="translate(621 394.5)"><rect y="33" fill="#0000ae"/><rect y="37.1" fill="#0079ff"/><rect y="41.2" fill="#29ffce"/><rect y="45.4" fill="#96ff61"/><rect y="49.5" fill="#e5ff12"/><rect y="53.6" fill="#ffbb00"/><rect y="57.8" fill="#ff8200"/><rect y="61.9" fill="#ff5500"/><rect y="66" fill="#ff2d00"/><rect y="70.1" fill="#fd1100"/><rect y="74.2" fill="#e10000"/><rect y="78.4" fill="#cc0000"/><rect y="82.5" fill="#b70000"/><rect y="86.6" fill="#a90000"/><rect y="90.8" fill="#a20000"/><rect y="94.9" fill="#940000"/><rect y="99" style="height:9.2px" fill="#8d0000"/><rect y="107.2" style="height:13.4px" fill="#860000"/><rect y="119.6" style="height:45.4px" fill="#800000"/></g>
<g class="c" transform="translate(635.32 394.5)"><rect y="28.9" fill="#0024ff"/><rect y="33" fill="#00dbff"/><rect y="37.1" fill="#78ff7f"/><rect y="41.2" fill="#d1ff26"/><rect y="45.4" fill="#ffd200"/><rect y="49.5" fill="#ff8e00"/><rect y="53.6" fill="#ff6000"/><rect y="57.8" fill="#ff3300"/><rect y="61.9" fill="#ff1700"/><rect y="66" fill="#e10000"/><rect y="70.1" fill="#cc0000"/><rect y="74.2" fill="#b70000"/><rect y="78.4" fill="#a90000"/><rect y="82.5" fill="#a20000"/><rect y="86.6" fill="#9b0000"/><rect y="90.8" fill="#940000"/><rect y="94.9" fill="#8d0000"/><rect y="99" style="height:13.4px" fill="#860000"/><rect y="111.4" style="height:53.6px" fill="#800000"/></g>
<g class="c" transform="translate(649.64 394.5)"><rect y="16.5" fill="#0000ae"/><rect y="20.6" fill="#0086ff"/><rect y="24.8" fill="#3dffba"/><rect y="28.9" fill="#a9ff4d"/><rect y="33" fill="#f8f400"/><rect y="37.1" fill="#ffb000"/><rect y="41.2" fill="#ff7700"/><rect y="45.4" fill="#ff4a00"/><rect y="49.5" fill="#ff2200"/><rect y="53.6" fill="#ef0600"/><rect y="57.8" fill="#da0000"/><rect y="61.9" fill="#c50000"/><rect y="66" fill="#b00000"/><rect y="70.1" fill="#a20000"/><rect y="74.2" fill="#9b0000"/><rect y="78.4" fill="#940000"/><rect y="82.5" style="height:9.2px" fill="#8d0000"/><rect y="90.8" style="height:13.4px" fill="#860000"/><rect y="103.1" style="height:61.9px" fill="#800000"/></g>
<g class="c" transform="translate(663.96 394.5)"><rect y="12.4" fill="#0024ff"/><rect y="16.5" fill="#00dbff"/><rect y="20.6" fill="#64ff92"/><rect y="24.8" fill="#c7ff30"/><rect y="28.9" fill="#ffdd00"/><rect y="33" fill="#ff9900"/><rect y="37.1" fill="#ff6000"/><rect y="41.2" fill="#ff3e00"/><rect y="45.4" fill="#ff1c00"/><rect y="49.5" fill="#e80000"/><rect y="53.6" fill="#d30000"/><rect y="57.8" fill="#be0000"/><rect y="61.9" fill="#b00000"/><rect y="66" fill="#a20000"/><rect y="70.1" fill="#9b0000"/><rect y="74.2" fill="#940000"/><rect y="78.4" fill="#8d0000"/><rect y="82.5" style="height:13.4px" fill="#860000"/><rect y="94.9" style="height:70.1px" fill="#800000"/></g>
<g class="e" transform="translate(678.28 394.5)"><rect y="4.1" fill="#0024ff"/><rect y="8.2" fill="#00dbff"/><rect y="12.4" fill="#6eff89"/><rect y="16.5" fill="#c7ff30"/><rect y="20.6" fill="#ffdd00"/><rect y="24.8" fill="#ff9900"/><rect y="28.9" fill="#ff6000"/><rect y="33" fill="#ff3e00"/><rect y="37.1" fill="#ff1c00"/><rect y="41.2" fill="#e80000"/><rect y="45.4" fill="#d30000"/><rect y="49.5" fill="#be0000"/><rect y="53.6" fill="#b00000"/><rect y="57.8" fill="#a20000"/><rect y="61.9" fill="#9b0000"/><rect y="66" fill="#940000"/><rect y="70.1" fill="#8d0000"/><rect y="74.2" style="height:13.4px" fill="#860000"/><rect y="86.6" style="height:78.4px" fill="#800000"/></g>
<polyline points="413.36,465.1 427.68,476.5 442,475.5 456.32,483.7 470.64,485.4 484.96,464.5 499.28,454.3 513.6,471.3 527.92,454.3 542.24,486.8 556.56,479.3 570.88,469.6 585.2,465.5 599.52,457.8 613.84,451.4 628.16,443.7 642.48,436.1 656.8,428.6 671.12,420.6 685.44,412.3" fill="none" stroke="#000" stroke-width="0.8" stroke-dasharray="0.9 1.1"/>
<circle cx="413.36" cy="465.1" r="1.75" fill="#000"/>
<circle cx="427.68" cy="476.5" r="1.75" fill="#000"/>
<circle cx="442" cy="475.5" r="1.75" fill="#000"/>
<circle cx="456.32" cy="483.7" r="1.75" fill="#000"/>
<circle cx="470.64" cy="485.4" r="1.75" fill="#000"/>
<circle cx="484.96" cy="464.5" r="1.75" fill="#000"/>
<circle cx="499.28" cy="454.3" r="1.75" fill="#000"/>
<circle cx="513.6" cy="471.3" r="1.75" fill="#000"/>
<circle cx="527.92" cy="454.3" r="1.75" fill="#000"/>
<circle cx="542.24" cy="486.8" r="1.75" fill="#000"/>
<circle cx="556.56" cy="479.3" r="1.75" fill="#000"/>
<circle cx="570.88" cy="469.6" r="1.75" fill="#000"/>
<circle cx="585.2" cy="465.5" r="1.75" fill="#000"/>
<circle cx="599.52" cy="457.8" r="1.75" fill="#000"/>
<circle cx="613.84" cy="451.4" r="1.75" fill="#000"/>
<circle cx="628.16" cy="443.7" r="1.75" fill="#000"/>
<circle cx="642.48" cy="436.1" r="1.75" fill="#000"/>
<circle cx="656.8" cy="428.6" r="1.75" fill="#000"/>
<circle cx="671.12" cy="420.6" r="1.75" fill="#000"/>
<circle cx="685.44" cy="412.3" r="1.75" fill="#000"/>
<polyline points="413.36,473 427.68,482.3 442,476.5 456.32,492.6 470.64,487.5 484.96,466.1 499.28,473.4 513.6,480.2 527.92,470.9 542.24,494.5 556.56,489.2 570.88,481.4 585.2,466.5 599.52,462.3 613.84,461.7 628.16,454.1 642.48,446.4 656.8,439 671.12,430.7 685.44,422.6" fill="none" stroke="#000" stroke-width="0.85" stroke-dasharray="2.2 1.4 0.9 1.4"/>
<rect x="411.71" y="471.35" width="3.3" height="3.3" fill="#000"/>
<rect x="426.03" y="480.65" width="3.3" height="3.3" fill="#000"/>
<rect x="440.35" y="474.85" width="3.3" height="3.3" fill="#000"/>
<rect x="454.67" y="490.95" width="3.3" height="3.3" fill="#000"/>
<rect x="468.99" y="485.85" width="3.3" height="3.3" fill="#000"/>
<rect x="483.31" y="464.45" width="3.3" height="3.3" fill="#000"/>
<rect x="497.63" y="471.75" width="3.3" height="3.3" fill="#000"/>
<rect x="511.95" y="478.55" width="3.3" height="3.3" fill="#000"/>
<rect x="526.27" y="469.25" width="3.3" height="3.3" fill="#000"/>
<rect x="540.59" y="492.85" width="3.3" height="3.3" fill="#000"/>
<rect x="554.91" y="487.55" width="3.3" height="3.3" fill="#000"/>
<rect x="569.23" y="479.75" width="3.3" height="3.3" fill="#000"/>
<rect x="583.55" y="464.85" width="3.3" height="3.3" fill="#000"/>
<rect x="597.87" y="460.65" width="3.3" height="3.3" fill="#000"/>
<rect x="612.19" y="460.05" width="3.3" height="3.3" fill="#000"/>
<rect x="626.51" y="452.45" width="3.3" height="3.3" fill="#000"/>
<rect x="640.83" y="444.75" width="3.3" height="3.3" fill="#000"/>
<rect x="655.15" y="437.35" width="3.3" height="3.3" fill="#000"/>
<rect x="669.47" y="429.05" width="3.3" height="3.3" fill="#000"/>
<rect x="683.79" y="420.95" width="3.3" height="3.3" fill="#000"/>
<use href="#ar" x="413.36" y="463.5"/>
<use href="#ar" x="427.68" y="482.1"/>
<use href="#ar" x="442" y="485.2"/>
<use href="#ar" x="456.32" y="499.2"/>
<use href="#ar" x="470.64" y="481.7"/>
<use href="#ar" x="484.96" y="477.5"/>
<use href="#ar" x="499.28" y="485.2"/>
<use href="#ar" x="513.6" y="481"/>
<use href="#ar" x="527.92" y="483.3"/>
<use href="#ar" x="542.24" y="482.7"/>
<use href="#ar" x="556.56" y="500.3"/>
<use href="#ar" x="570.88" y="490"/>
<use href="#ar" x="585.2" y="482"/>
<use href="#ar" x="599.52" y="475.8"/>
<use href="#ar" x="613.84" y="472.1"/>
<use href="#ar" x="628.16" y="464.8"/>
<use href="#ar" x="642.48" y="457.2"/>
<use href="#ar" x="656.8" y="446.8"/>
<use href="#ar" x="671.12" y="441.7"/>
<use href="#ar" x="685.44" y="433.4"/>
<rect x="406.5" y="394.5" width="288" height="165" fill="none" stroke="#555" stroke-width="1"/>
<path d="M406.5 559.5v-2.5M406.5 394.5v2.5M447.64 559.5v-2.5M447.64 394.5v2.5M488.79 559.5v-2.5M488.79 394.5v2.5M529.93 559.5v-2.5M529.93 394.5v2.5M571.07 559.5v-2.5M571.07 394.5v2.5M612.21 559.5v-2.5M612.21 394.5v2.5M653.36 559.5v-2.5M653.36 394.5v2.5M694.5 559.5v-2.5M694.5 394.5v2.5M406.5 394.5h2.5M694.5 394.5h-2.5M406.5 415.12h2.5M694.5 415.12h-2.5M406.5 435.75h2.5M694.5 435.75h-2.5M406.5 456.38h2.5M694.5 456.38h-2.5M406.5 477h2.5M694.5 477h-2.5M406.5 497.62h2.5M694.5 497.62h-2.5M406.5 518.25h2.5M694.5 518.25h-2.5M406.5 538.88h2.5M694.5 538.88h-2.5M406.5 559.5h2.5M694.5 559.5h-2.5" stroke="#333" stroke-width="0.6" fill="none"/>
<text x="406.8" y="566.6" font-size="6.9" text-anchor="middle">2.0</text>
<text x="447.94" y="566.6" font-size="6.9" text-anchor="middle">2.5</text>
<text x="489.09" y="566.6" font-size="6.9" text-anchor="middle">3.0</text>
<text x="530.23" y="566.6" font-size="6.9" text-anchor="middle">3.5</text>
<text x="571.37" y="566.6" font-size="6.9" text-anchor="middle">4.0</text>
<text x="612.51" y="566.6" font-size="6.9" text-anchor="middle">4.5</text>
<text x="653.66" y="566.6" font-size="6.9" text-anchor="middle">5.0</text>
<text x="694.8" y="566.6" font-size="6.9" text-anchor="middle">5.5</text>
<text x="404" y="396.9" font-size="6.9" text-anchor="end">−4.0</text>
<text x="404" y="417.52" font-size="6.9" text-anchor="end">−4.5</text>
<text x="404" y="438.15" font-size="6.9" text-anchor="end">−5.0</text>
<text x="404" y="458.77" font-size="6.9" text-anchor="end">−5.5</text>
<text x="404" y="479.4" font-size="6.9" text-anchor="end">−6.0</text>
<text x="404" y="500.02" font-size="6.9" text-anchor="end">−6.5</text>
<text x="404" y="520.65" font-size="6.9" text-anchor="end">−7.0</text>
<text x="404" y="541.27" font-size="6.9" text-anchor="end">−7.5</text>
<text x="404" y="561.9" font-size="6.9" text-anchor="end">−8.0</text>
<g transform="translate(504.9 579.7)"><text class="s" x="0" y="0" font-size="10.2">log</text><text class="s" x="12.9" y="2.2" font-size="7.3">10</text><text class="s" x="20.8" y="0" font-size="10.2" letter-spacing="0.2">(Energy</text><text class="s" x="59.6" y="0" font-size="10.2" letter-spacing="0.1">[MeV])</text></g>
<g transform="translate(384.7 549.6) rotate(-90)"><text class="s" x="0" y="0" font-size="10.2">log</text><text class="s" x="12.9" y="2.2" font-size="7.3">10</text><text class="s" x="20.3" y="0" font-size="10.2" letter-spacing="0.3">(Energy</text><text class="s" x="59.3" y="0" font-size="10.2">F</text><text class="s" x="69.7" y="0" font-size="10.2" letter-spacing="-0.15">[MeV</text><text class="s" x="96.8" y="0" font-size="10.2" letter-spacing="-0.4">cm</text><text class="s" x="110.4" y="-4.6" font-size="7.6">−2</text><text class="s" x="123.7" y="0" font-size="10.6">s</text><text class="s" x="129" y="-4.6" font-size="7.6">−1</text><text class="s" x="139.2" y="0" font-size="10.2" letter-spacing="-0.6">])</text></g>
<text class="s" x="447.2" y="415.2" font-size="10.3" textLength="42.9" lengthAdjust="spacingAndGlyphs">sn2011fh</text>
<rect x="697.5" y="394.5" width="9" height="165" fill="url(#cb)" stroke="#99a" stroke-width="0.7"/>
<text x="708.7" y="562" font-size="6.9">0</text>
<text x="708.7" y="545.5" font-size="6.9">1</text>
<text x="708.7" y="529" font-size="6.9">2</text>
<text x="708.7" y="512.5" font-size="6.9">3</text>
<text x="708.7" y="496" font-size="6.9">4</text>
<text x="708.7" y="479.5" font-size="6.9">5</text>
<text x="708.7" y="463" font-size="6.9">6</text>
<text x="708.7" y="446.5" font-size="6.9">7</text>
<text x="708.7" y="430" font-size="6.9">8</text>
<text x="708.7" y="413.5" font-size="6.9">9</text>
<path d="M706.5 559.5h-2M706.5 543h-2M706.5 526.5h-2M706.5 510h-2M706.5 493.5h-2M706.5 477h-2M706.5 460.5h-2M706.5 444h-2M706.5 427.5h-2M706.5 411h-2M706.5 394.5h-2" stroke="#333" stroke-width="0.6" fill="none"/>
<text class="s" transform="translate(721.8 477) rotate(-90)" font-size="11.6" text-anchor="middle">−Δlog<tspan font-style="italic">L</tspan></text>
</g>
<g>
<g class="c" transform="translate(39.2 590.5)"><rect y="66" fill="#0024ff"/><rect y="70.1" fill="#33ffc4"/><rect y="74.2" fill="#c7ff30"/><rect y="78.4" fill="#ffbb00"/><rect y="82.5" fill="#ff6c00"/><rect y="86.6" fill="#ff3300"/><rect y="90.8" fill="#f60b00"/><rect y="94.9" fill="#da0000"/><rect y="99" fill="#be0000"/><rect y="103.1" fill="#b00000"/><rect y="107.2" fill="#a20000"/><rect y="111.4" fill="#940000"/><rect y="115.5" style="height:9.2px" fill="#8d0000"/><rect y="123.8" style="height:13.4px" fill="#860000"/><rect y="136.1" style="height:28.9px" fill="#800000"/></g>
<g class="c" transform="translate(53.52 590.5)"><rect y="70.1" fill="#00cfff"/><rect y="74.2" fill="#a9ff4d"/><rect y="78.4" fill="#ffc600"/><rect y="82.5" fill="#ff6c00"/><rect y="86.6" fill="#ff2d00"/><rect y="90.8" fill="#e80000"/><rect y="94.9" fill="#c50000"/><rect y="99" fill="#b00000"/><rect y="103.1" fill="#a20000"/><rect y="107.2" fill="#940000"/><rect y="111.4" fill="#8d0000"/><rect y="115.5" style="height:13.4px" fill="#860000"/><rect y="127.9" style="height:37.1px" fill="#800000"/></g>
<g class="c" transform="translate(67.84 590.5)"><rect y="61.9" fill="#0000a0"/><rect y="66" fill="#96ff61"/><rect y="70.1" fill="#ff6c00"/><rect y="74.2" fill="#d30000"/><rect y="78.4" fill="#8d0000"/><rect y="82.5" fill="#800000"/><rect y="86.6" fill="#860000"/><rect y="90.8" fill="#8d0000"/><rect y="94.9" fill="#9b0000"/><rect y="99" fill="#b00000"/><rect y="103.1" fill="#be0000"/><rect y="107.2" fill="#d30000"/><rect y="111.4" fill="#e10000"/><rect y="115.5" fill="#ef0600"/><rect y="119.6" fill="#fd1100"/><rect y="123.8" fill="#ff1c00"/><rect y="127.9" fill="#ff2800"/><rect y="132" fill="#ff3300"/><rect y="136.1" fill="#ff3900"/><rect y="140.2" fill="#ff3e00"/><rect y="144.4" style="height:9.2px" fill="#ff4a00"/><rect y="152.6" style="height:12.4px" fill="#ff5500"/></g>
<g class="c" transform="translate(82.16 590.5)"><rect y="70.1" fill="#0024ff"/><rect y="74.2" fill="#bdff3a"/><rect y="78.4" fill="#ff7700"/><rect y="82.5" fill="#f60b00"/><rect y="86.6" fill="#b70000"/><rect y="90.8" fill="#940000"/><rect y="94.9" fill="#860000"/><rect y="99" style="height:66px" fill="#800000"/></g>
<g class="c" transform="translate(96.48 590.5)"><rect y="78.4" fill="#0000ae"/><rect y="82.5" fill="#00cfff"/><rect y="86.6" fill="#8cff6b"/><rect y="90.8" fill="#f8f400"/><rect y="94.9" fill="#ff9900"/><rect y="99" fill="#ff5500"/><rect y="103.1" fill="#ff2d00"/><rect y="107.2" fill="#f60b00"/><rect y="111.4" fill="#d30000"/><rect y="115.5" fill="#be0000"/><rect y="119.6" fill="#b00000"/><rect y="123.8" fill="#a20000"/><rect y="127.9" fill="#9b0000"/><rect y="132" fill="#940000"/><rect y="136.1" fill="#8d0000"/><rect y="140.2" style="height:13.4px" fill="#860000"/><rect y="152.6" style="height:12.4px" fill="#800000"/></g>
<g class="c" transform="translate(110.8 590.5)"><rect y="74.2" fill="#00b7ff"/><rect y="78.4" fill="#ffe800"/><rect y="82.5" fill="#ff3300"/><rect y="86.6" fill="#b70000"/><rect y="90.8" fill="#8d0000"/><rect y="94.9" style="height:9.2px" fill="#800000"/><rect y="103.1" fill="#8d0000"/><rect y="107.2" fill="#940000"/><rect y="111.4" fill="#a20000"/><rect y="115.5" fill="#b00000"/><rect y="119.6" fill="#b70000"/><rect y="123.8" fill="#c50000"/><rect y="127.9" fill="#d30000"/><rect y="132" fill="#da0000"/><rect y="136.1" fill="#e10000"/><rect y="140.2" fill="#ef0600"/><rect y="144.4" fill="#f60b00"/><rect y="148.5" fill="#fd1100"/><rect y="152.6" style="height:9.2px" fill="#ff1700"/><rect y="160.9" style="height:4.1px" fill="#ff1c00"/></g>
<g class="c" transform="translate(125.12 590.5)"><rect y="78.4" fill="#0000ae"/><rect y="82.5" fill="#02e8f5"/><rect y="86.6" fill="#a9ff4d"/><rect y="90.8" fill="#ffd200"/><rect y="94.9" fill="#ff7700"/><rect y="99" fill="#ff3e00"/><rect y="103.1" fill="#fd1100"/><rect y="107.2" fill="#da0000"/><rect y="111.4" fill="#be0000"/><rect y="115.5" fill="#a90000"/><rect y="119.6" fill="#a20000"/><rect y="123.8" fill="#940000"/><rect y="127.9" style="height:9.2px" fill="#8d0000"/><rect y="136.1" style="height:9.2px" fill="#860000"/><rect y="144.4" style="height:20.6px" fill="#800000"/></g>
<g class="c" transform="translate(139.44 590.5)"><rect y="78.4" fill="#0024ff"/><rect y="82.5" fill="#29ffce"/><rect y="86.6" fill="#b3ff43"/><rect y="90.8" fill="#ffd200"/><rect y="94.9" fill="#ff8200"/><rect y="99" fill="#ff4a00"/><rect y="103.1" fill="#ff2200"/><rect y="107.2" fill="#ef0600"/><rect y="111.4" fill="#d30000"/><rect y="115.5" fill="#be0000"/><rect y="119.6" fill="#a90000"/><rect y="123.8" fill="#a20000"/><rect y="127.9" fill="#940000"/><rect y="132" style="height:9.2px" fill="#8d0000"/><rect y="140.2" style="height:13.4px" fill="#860000"/><rect y="152.6" style="height:12.4px" fill="#800000"/></g>
<g class="c" transform="translate(153.76 590.5)"><rect y="74.2" fill="#0000ae"/><rect y="78.4" fill="#00cfff"/><rect y="82.5" fill="#8cff6b"/><rect y="86.6" fill="#ffe800"/><rect y="90.8" fill="#ff9900"/><rect y="94.9" fill="#ff5500"/><rect y="99" fill="#ff2800"/><rect y="103.1" fill="#ef0600"/><rect y="107.2" fill="#d30000"/><rect y="111.4" fill="#be0000"/><rect y="115.5" fill="#a90000"/><rect y="119.6" fill="#a20000"/><rect y="123.8" fill="#940000"/><rect y="127.9" style="height:9.2px" fill="#8d0000"/><rect y="136.1" style="height:13.4px" fill="#860000"/><rect y="148.5" style="height:16.5px" fill="#800000"/></g>
<g class="c" transform="translate(168.08 590.5)"><rect y="78.4" fill="#0024ff"/><rect y="82.5" fill="#02e8f5"/><rect y="86.6" fill="#82ff75"/><rect y="90.8" fill="#dbff1c"/><rect y="94.9" fill="#ffbb00"/><rect y="99" fill="#ff8200"/><rect y="103.1" fill="#ff5500"/><rect y="107.2" fill="#ff2d00"/><rect y="111.4" fill="#f60b00"/><rect y="115.5" fill="#da0000"/><rect y="119.6" fill="#c50000"/><rect y="123.8" fill="#b70000"/><rect y="127.9" fill="#a90000"/><rect y="132" fill="#9b0000"/><rect y="136.1" fill="#940000"/><rect y="140.2" style="height:9.2px" fill="#8d0000"/><rect y="148.5" style="height:13.4px" fill="#860000"/><rect y="160.9" style="height:4.1px" fill="#800000"/></g>
<g class="c" transform="translate(182.4 590.5)"><rect y="66" fill="#0000ae"/><rect y="70.1" fill="#0092ff"/><rect y="74.2" fill="#3dffba"/><rect y="78.4" fill="#a9ff4d"/><rect y="82.5" fill="#f8f400"/><rect y="86.6" fill="#ffa400"/><rect y="90.8" fill="#ff6c00"/><rect y="94.9" fill="#ff4a00"/><rect y="99" fill="#ff2200"/><rect y="103.1" fill="#ef0600"/><rect y="107.2" fill="#d30000"/><rect y="111.4" fill="#be0000"/><rect y="115.5" fill="#b00000"/><rect y="119.6" fill="#a20000"/><rect y="123.8" fill="#9b0000"/><rect y="127.9" fill="#940000"/><rect y="132" style="height:9.2px" fill="#8d0000"/><rect y="140.2" style="height:13.4px" fill="#860000"/><rect y="152.6" style="height:12.4px" fill="#800000"/></g>
<g class="c" transform="translate(196.72 590.5)"><rect y="61.9" fill="#0000ae"/><rect y="66" fill="#0086ff"/><rect y="70.1" fill="#3dffba"/><rect y="74.2" fill="#a9ff4d"/><rect y="78.4" fill="#f8f400"/><rect y="82.5" fill="#ffa400"/><rect y="86.6" fill="#ff6c00"/><rect y="90.8" fill="#ff4a00"/><rect y="94.9" fill="#ff2200"/><rect y="99" fill="#ef0600"/><rect y="103.1" fill="#d30000"/><rect y="107.2" fill="#be0000"/><rect y="111.4" fill="#b00000"/><rect y="115.5" fill="#a20000"/><rect y="119.6" fill="#9b0000"/><rect y="123.8" fill="#940000"/><rect y="127.9" style="height:9.2px" fill="#8d0000"/><rect y="136.1" style="height:13.4px" fill="#860000"/><rect y="148.5" style="height:16.5px" fill="#800000"/></g>
<g class="c" transform="translate(211.04 590.5)"><rect y="57.8" fill="#0024ff"/><rect y="61.9" fill="#00dbff"/><rect y="66" fill="#6eff89"/><rect y="70.1" fill="#d1ff26"/><rect y="74.2" fill="#ffd200"/><rect y="78.4" fill="#ff8e00"/><rect y="82.5" fill="#ff6000"/><rect y="86.6" fill="#ff3300"/><rect y="90.8" fill="#ff1700"/><rect y="94.9" fill="#e10000"/><rect y="99" fill="#cc0000"/><rect y="103.1" fill="#b70000"/><rect y="107.2" fill="#a90000"/><rect y="111.4" fill="#a20000"/><rect y="115.5" fill="#9b0000"/><rect y="119.6" fill="#940000"/><rect y="123.8" fill="#8d0000"/><rect y="127.9" style="height:13.4px" fill="#860000"/><rect y="140.2" style="height:24.8px" fill="#800000"/></g>
<g class="c" transform="translate(225.36 590.5)"><rect y="49.5" fill="#0024ff"/><rect y="53.6" fill="#00dbff"/><rect y="57.8" fill="#6eff89"/><rect y="61.9" fill="#c7ff30"/><rect y="66" fill="#ffd200"/><rect y="70.1" fill="#ff9900"/><rect y="74.2" fill="#ff6000"/><rect y="78.4" fill="#ff3900"/><rect y="82.5" fill="#ff1700"/><rect y="86.6" fill="#e80000"/><rect y="90.8" fill="#cc0000"/><rect y="94.9" fill="#be0000"/><rect y="99" fill="#b00000"/><rect y="103.1" fill="#a20000"/><rect y="107.2" fill="#9b0000"/><rect y="111.4" fill="#940000"/><rect y="115.5" fill="#8d0000"/><rect y="119.6" style="height:13.4px" fill="#860000"/><rect y="132" style="height:33px" fill="#800000"/></g>
<g class="c" transform="translate(239.68 590.5)"><rect y="41.2" fill="#0000ae"/><rect y="45.4" fill="#0079ff"/><rect y="49.5" fill="#33ffc4"/><rect y="53.6" fill="#96ff61"/><rect y="57.8" fill="#efff08"/><rect y="61.9" fill="#ffbb00"/><rect y="66" fill="#ff8200"/><rect y="70.1" fill="#ff5500"/><rect y="74.2" fill="#ff2d00"/><rect y="78.4" fill="#fd1100"/><rect y="82.5" fill="#e10000"/><rect y="86.6" fill="#c50000"/><rect y="90.8" fill="#b70000"/><rect y="94.9" fill="#a90000"/><rect y="99" fill="#9b0000"/><rect y="103.1" fill="#940000"/><rect y="107.2" style="height:9.2px" fill="#8d0000"/><rect y="115.5" style="height:13.4px" fill="#860000"/><rect y="127.9" style="height:37.1px" fill="#800000"/></g>
<g class="c" transform="translate(254 590.5)"><rect y="37.1" fill="#0024ff"/><rect y="41.2" fill="#00dbff"/><rect y="45.4" fill="#6eff89"/><rect y="49.5" fill="#d1ff26"/><rect y="53.6" fill="#ffd200"/><rect y="57.8" fill="#ff8e00"/><rect y="61.9" fill="#ff6000"/><rect y="66" fill="#ff3300"/><rect y="70.1" fill="#ff1700"/><rect y="74.2" fill="#e10000"/><rect y="78.4" fill="#cc0000"/><rect y="82.5" fill="#b70000"/><rect y="86.6" fill="#a90000"/><rect y="90.8" fill="#a20000"/><rect y="94.9" fill="#9b0000"/><rect y="99" fill="#940000"/><rect y="103.1" fill="#8d0000"/><rect y="107.2" style="height:13.4px" fill="#860000"/><rect y="119.6" style="height:45.4px" fill="#800000"/></g>
<g class="c" transform="translate(268.32 590.5)"><rect y="28.9" fill="#0024ff"/><rect y="33" fill="#00dbff"/><rect y="37.1" fill="#6eff89"/><rect y="41.2" fill="#c7ff30"/><rect y="45.4" fill="#ffd200"/><rect y="49.5" fill="#ff9900"/><rect y="53.6" fill="#ff6000"/><rect y="57.8" fill="#ff3e00"/><rect y="61.9" fill="#ff1700"/><rect y="66" fill="#e80000"/><rect y="70.1" fill="#d30000"/><rect y="74.2" fill="#be0000"/><rect y="78.4" fill="#b00000"/><rect y="82.5" fill="#a20000"/><rect y="86.6" fill="#9b0000"/><rect y="90.8" fill="#940000"/><rect y="94.9" fill="#8d0000"/><rect y="99" style="height:13.4px" fill="#860000"/><rect y="111.4" style="height:53.6px" fill="#800000"/></g>
<g class="c" transform="translate(282.64 590.5)"><rect y="20.6" fill="#0024ff"/><rect y="24.8" fill="#00cfff"/><rect y="28.9" fill="#64ff92"/><rect y="33" fill="#bdff3a"/><rect y="37.1" fill="#ffdd00"/><rect y="41.2" fill="#ff9900"/><rect y="45.4" fill="#ff6c00"/><rect y="49.5" fill="#ff3e00"/><rect y="53.6" fill="#ff1c00"/><rect y="57.8" fill="#ef0600"/><rect y="61.9" fill="#d30000"/><rect y="66" fill="#be0000"/><rect y="70.1" fill="#b00000"/><rect y="74.2" fill="#a20000"/><rect y="78.4" fill="#9b0000"/><rect y="82.5" fill="#940000"/><rect y="86.6" style="height:9.2px" fill="#8d0000"/><rect y="94.9" style="height:13.4px" fill="#860000"/><rect y="107.2" style="height:57.8px" fill="#800000"/></g>
<g class="c" transform="translate(296.96 590.5)"><rect y="12.4" fill="#0024ff"/><rect y="16.5" fill="#00cfff"/><rect y="20.6" fill="#64ff92"/><rect y="24.8" fill="#bdff3a"/><rect y="28.9" fill="#ffdd00"/><rect y="33" fill="#ffa400"/><rect y="37.1" fill="#ff6c00"/><rect y="41.2" fill="#ff3e00"/><rect y="45.4" fill="#ff2200"/><rect y="49.5" fill="#ef0600"/><rect y="53.6" fill="#d30000"/><rect y="57.8" fill="#be0000"/><rect y="61.9" fill="#b00000"/><rect y="66" fill="#a20000"/><rect y="70.1" fill="#9b0000"/><rect y="74.2" fill="#940000"/><rect y="78.4" style="height:9.2px" fill="#8d0000"/><rect y="86.6" style="height:13.4px" fill="#860000"/><rect y="99" style="height:66px" fill="#800000"/></g>
<g class="e" transform="translate(311.28 590.5)"><rect y="4.1" fill="#0024ff"/><rect y="8.2" fill="#00cfff"/><rect y="12.4" fill="#64ff92"/><rect y="16.5" fill="#bdff3a"/><rect y="20.6" fill="#ffdd00"/><rect y="24.8" fill="#ffa400"/><rect y="28.9" fill="#ff6c00"/><rect y="33" fill="#ff3e00"/><rect y="37.1" fill="#ff2200"/><rect y="41.2" fill="#ef0600"/><rect y="45.4" fill="#d30000"/><rect y="49.5" fill="#be0000"/><rect y="53.6" fill="#b00000"/><rect y="57.8" fill="#a20000"/><rect y="61.9" fill="#9b0000"/><rect y="66" fill="#940000"/><rect y="70.1" style="height:9.2px" fill="#8d0000"/><rect y="78.4" style="height:13.4px" fill="#860000"/><rect y="90.8" style="height:74.2px" fill="#800000"/></g>
<polyline points="46.36,661.1 60.68,677.2 75,653.2 89.32,669.8 103.64,684.3 117.96,652.2 132.28,682.4 146.6,675.2 160.92,668.3 175.24,676.6 189.56,675.9 203.88,669.7 218.2,662.1 232.52,651.1 246.84,648.4 261.16,640.8 275.48,632.9 289.8,625.2 304.12,617.4 318.44,608.7" fill="none" stroke="#000" stroke-width="0.8" stroke-dasharray="0.9 1.1"/>
<circle cx="46.36" cy="661.1" r="1.75" fill="#000"/>
<circle cx="60.68" cy="677.2" r="1.75" fill="#000"/>
<circle cx="75" cy="653.2" r="1.75" fill="#000"/>
<circle cx="89.32" cy="669.8" r="1.75" fill="#000"/>
<circle cx="103.64" cy="684.3" r="1.75" fill="#000"/>
<circle cx="117.96" cy="652.2" r="1.75" fill="#000"/>
<circle cx="132.28" cy="682.4" r="1.75" fill="#000"/>
<circle cx="146.6" cy="675.2" r="1.75" fill="#000"/>
<circle cx="160.92" cy="668.3" r="1.75" fill="#000"/>
<circle cx="175.24" cy="676.6" r="1.75" fill="#000"/>
<circle cx="189.56" cy="675.9" r="1.75" fill="#000"/>
<circle cx="203.88" cy="669.7" r="1.75" fill="#000"/>
<circle cx="218.2" cy="662.1" r="1.75" fill="#000"/>
<circle cx="232.52" cy="651.1" r="1.75" fill="#000"/>
<circle cx="246.84" cy="648.4" r="1.75" fill="#000"/>
<circle cx="261.16" cy="640.8" r="1.75" fill="#000"/>
<circle cx="275.48" cy="632.9" r="1.75" fill="#000"/>
<circle cx="289.8" cy="625.2" r="1.75" fill="#000"/>
<circle cx="304.12" cy="617.4" r="1.75" fill="#000"/>
<circle cx="318.44" cy="608.7" r="1.75" fill="#000"/>
<polyline points="46.36,673.9 60.68,681.2 75,660.7 89.32,670 103.64,692.8 117.96,667.9 132.28,694.6 146.6,688 160.92,679.3 175.24,689 189.56,678.4 203.88,679.5 218.2,670.8 232.52,663.1 246.84,658.3 261.16,650.7 275.48,643.5 289.8,635.6 304.12,627.3 318.44,619.5" fill="none" stroke="#000" stroke-width="0.85" stroke-dasharray="2.2 1.4 0.9 1.4"/>
<rect x="44.71" y="672.25" width="3.3" height="3.3" fill="#000"/>
<rect x="59.03" y="679.55" width="3.3" height="3.3" fill="#000"/>
<rect x="73.35" y="659.05" width="3.3" height="3.3" fill="#000"/>
<rect x="87.67" y="668.35" width="3.3" height="3.3" fill="#000"/>
<rect x="101.99" y="691.15" width="3.3" height="3.3" fill="#000"/>
<rect x="116.31" y="666.25" width="3.3" height="3.3" fill="#000"/>
<rect x="130.63" y="692.95" width="3.3" height="3.3" fill="#000"/>
<rect x="144.95" y="686.35" width="3.3" height="3.3" fill="#000"/>
<rect x="159.27" y="677.65" width="3.3" height="3.3" fill="#000"/>
<rect x="173.59" y="687.35" width="3.3" height="3.3" fill="#000"/>
<rect x="187.91" y="676.75" width="3.3" height="3.3" fill="#000"/>
<rect x="202.23" y="677.85" width="3.3" height="3.3" fill="#000"/>
<rect x="216.55" y="669.15" width="3.3" height="3.3" fill="#000"/>
<rect x="230.87" y="661.45" width="3.3" height="3.3" fill="#000"/>
<rect x="245.19" y="656.65" width="3.3" height="3.3" fill="#000"/>
<rect x="259.51" y="649.05" width="3.3" height="3.3" fill="#000"/>
<rect x="273.83" y="641.85" width="3.3" height="3.3" fill="#000"/>
<rect x="288.15" y="633.95" width="3.3" height="3.3" fill="#000"/>
<rect x="302.47" y="625.65" width="3.3" height="3.3" fill="#000"/>
<rect x="316.79" y="617.85" width="3.3" height="3.3" fill="#000"/>
<use href="#ar" x="46.36" y="681.4"/>
<use href="#ar" x="60.68" y="680.3"/>
<use href="#ar" x="75" y="661.1"/>
<use href="#ar" x="89.32" y="674.1"/>
<use href="#ar" x="103.64" y="697.3"/>
<use href="#ar" x="117.96" y="673.9"/>
<use href="#ar" x="132.28" y="694.2"/>
<use href="#ar" x="146.6" y="696.3"/>
<use href="#ar" x="160.92" y="692.6"/>
<use href="#ar" x="175.24" y="701.5"/>
<use href="#ar" x="189.56" y="692.1"/>
<use href="#ar" x="203.88" y="688"/>
<use href="#ar" x="218.2" y="682.1"/>
<use href="#ar" x="232.52" y="674.3"/>
<use href="#ar" x="246.84" y="668.7"/>
<use href="#ar" x="261.16" y="661.5"/>
<use href="#ar" x="275.48" y="653.8"/>
<use href="#ar" x="289.8" y="646.3"/>
<use href="#ar" x="304.12" y="638.3"/>
<use href="#ar" x="318.44" y="630"/>
<rect x="39.5" y="590.5" width="288" height="165" fill="none" stroke="#555" stroke-width="1"/>
<path d="M39.5 755.5v-2.5M39.5 590.5v2.5M80.64 755.5v-2.5M80.64 590.5v2.5M121.79 755.5v-2.5M121.79 590.5v2.5M162.93 755.5v-2.5M162.93 590.5v2.5M204.07 755.5v-2.5M204.07 590.5v2.5M245.21 755.5v-2.5M245.21 590.5v2.5M286.36 755.5v-2.5M286.36 590.5v2.5M327.5 755.5v-2.5M327.5 590.5v2.5M39.5 590.5h2.5M327.5 590.5h-2.5M39.5 611.12h2.5M327.5 611.12h-2.5M39.5 631.75h2.5M327.5 631.75h-2.5M39.5 652.38h2.5M327.5 652.38h-2.5M39.5 673h2.5M327.5 673h-2.5M39.5 693.62h2.5M327.5 693.62h-2.5M39.5 714.25h2.5M327.5 714.25h-2.5M39.5 734.88h2.5M327.5 734.88h-2.5M39.5 755.5h2.5M327.5 755.5h-2.5" stroke="#333" stroke-width="0.6" fill="none"/>
<text x="39.8" y="762.6" font-size="6.9" text-anchor="middle">2.0</text>
<text x="80.94" y="762.6" font-size="6.9" text-anchor="middle">2.5</text>
<text x="122.09" y="762.6" font-size="6.9" text-anchor="middle">3.0</text>
<text x="163.23" y="762.6" font-size="6.9" text-anchor="middle">3.5</text>
<text x="204.37" y="762.6" font-size="6.9" text-anchor="middle">4.0</text>
<text x="245.51" y="762.6" font-size="6.9" text-anchor="middle">4.5</text>
<text x="286.66" y="762.6" font-size="6.9" text-anchor="middle">5.0</text>
<text x="327.8" y="762.6" font-size="6.9" text-anchor="middle">5.5</text>
<text x="37" y="592.9" font-size="6.9" text-anchor="end">−4.0</text>
<text x="37" y="613.52" font-size="6.9" text-anchor="end">−4.5</text>
<text x="37" y="634.15" font-size="6.9" text-anchor="end">−5.0</text>
<text x="37" y="654.77" font-size="6.9" text-anchor="end">−5.5</text>
<text x="37" y="675.4" font-size="6.9" text-anchor="end">−6.0</text>
<text x="37" y="696.02" font-size="6.9" text-anchor="end">−6.5</text>
<text x="37" y="716.65" font-size="6.9" text-anchor="end">−7.0</text>
<text x="37" y="737.27" font-size="6.9" text-anchor="end">−7.5</text>
<text x="37" y="757.9" font-size="6.9" text-anchor="end">−8.0</text>
<g transform="translate(137.9 775.7)"><text class="s" x="0" y="0" font-size="10.2">log</text><text class="s" x="12.9" y="2.2" font-size="7.3">10</text><text class="s" x="20.8" y="0" font-size="10.2" letter-spacing="0.2">(Energy</text><text class="s" x="59.6" y="0" font-size="10.2" letter-spacing="0.1">[MeV])</text></g>
<g transform="translate(12 745.6) rotate(-90)"><text class="s" x="0" y="0" font-size="10.2">log</text><text class="s" x="12.9" y="2.2" font-size="7.3">10</text><text class="s" x="20.3" y="0" font-size="10.2" letter-spacing="0.3">(Energy</text><text class="s" x="59.3" y="0" font-size="10.2">F</text><text class="s" x="69.7" y="0" font-size="10.2" letter-spacing="-0.15">[MeV</text><text class="s" x="96.8" y="0" font-size="10.2" letter-spacing="-0.4">cm</text><text class="s" x="110.4" y="-4.6" font-size="7.6">−2</text><text class="s" x="123.7" y="0" font-size="10.6">s</text><text class="s" x="129" y="-4.6" font-size="7.6">−1</text><text class="s" x="139.2" y="0" font-size="10.2" letter-spacing="-0.6">])</text></g>
<text class="s" x="80.6" y="611.2" font-size="10.3" textLength="47.2" lengthAdjust="spacingAndGlyphs">sn2011hw</text>
<rect x="330.5" y="590.5" width="9" height="165" fill="url(#cb)" stroke="#99a" stroke-width="0.7"/>
<text x="341.7" y="758" font-size="6.9">0</text>
<text x="341.7" y="741.5" font-size="6.9">1</text>
<text x="341.7" y="725" font-size="6.9">2</text>
<text x="341.7" y="708.5" font-size="6.9">3</text>
<text x="341.7" y="692" font-size="6.9">4</text>
<text x="341.7" y="675.5" font-size="6.9">5</text>
<text x="341.7" y="659" font-size="6.9">6</text>
<text x="341.7" y="642.5" font-size="6.9">7</text>
<text x="341.7" y="626" font-size="6.9">8</text>
<text x="341.7" y="609.5" font-size="6.9">9</text>
<path d="M339.5 755.5h-2M339.5 739h-2M339.5 722.5h-2M339.5 706h-2M339.5 689.5h-2M339.5 673h-2M339.5 656.5h-2M339.5 640h-2M339.5 623.5h-2M339.5 607h-2M339.5 590.5h-2" stroke="#333" stroke-width="0.6" fill="none"/>
<text class="s" transform="translate(354.8 673) rotate(-90)" font-size="11.6" text-anchor="middle">−Δlog<tspan font-style="italic">L</tspan></text>
</g>
<g>
<g class="c" transform="translate(406.2 590.5)"><rect y="66" fill="#0024ff"/><rect y="70.1" fill="#29ffce"/><rect y="74.2" fill="#a9ff4d"/><rect y="78.4" fill="#ffdd00"/><rect y="82.5" fill="#ff8e00"/><rect y="86.6" fill="#ff5500"/><rect y="90.8" fill="#ff2800"/><rect y="94.9" fill="#ef0600"/><rect y="99" fill="#d30000"/><rect y="103.1" fill="#be0000"/><rect y="107.2" fill="#b00000"/><rect y="111.4" fill="#a20000"/><rect y="115.5" fill="#9b0000"/><rect y="119.6" fill="#940000"/><rect y="123.8" fill="#8d0000"/><rect y="127.9" style="height:13.4px" fill="#860000"/><rect y="140.2" style="height:24.8px" fill="#800000"/></g>
<g class="c" transform="translate(420.52 590.5)"><rect y="61.9" fill="#0086ff"/><rect y="66" fill="#96ff61"/><rect y="70.1" fill="#ffbb00"/><rect y="74.2" fill="#ff5500"/><rect y="78.4" fill="#fd1100"/><rect y="82.5" fill="#cc0000"/><rect y="86.6" fill="#a90000"/><rect y="90.8" fill="#940000"/><rect y="94.9" fill="#8d0000"/><rect y="99" fill="#860000"/><rect y="103.1" style="height:61.9px" fill="#800000"/></g>
<g class="c" transform="translate(434.84 590.5)"><rect y="70.1" fill="#0000ae"/><rect y="74.2" fill="#00cfff"/><rect y="78.4" fill="#96ff61"/><rect y="82.5" fill="#ffe800"/><rect y="86.6" fill="#ff8e00"/><rect y="90.8" fill="#ff5500"/><rect y="94.9" fill="#ff2200"/><rect y="99" fill="#e80000"/><rect y="103.1" fill="#cc0000"/><rect y="107.2" fill="#b70000"/><rect y="111.4" fill="#a90000"/><rect y="115.5" fill="#9b0000"/><rect y="119.6" fill="#940000"/><rect y="123.8" style="height:9.2px" fill="#8d0000"/><rect y="132" style="height:13.4px" fill="#860000"/><rect y="144.4" style="height:20.6px" fill="#800000"/></g>
<g class="c" transform="translate(449.16 590.5)"><rect y="66" fill="#00b7ff"/><rect y="70.1" fill="#ffe800"/><rect y="74.2" fill="#ff3300"/><rect y="78.4" fill="#b70000"/><rect y="82.5" fill="#860000"/><rect y="86.6" fill="#800000"/><rect y="90.8" fill="#860000"/><rect y="94.9" fill="#8d0000"/><rect y="99" fill="#940000"/><rect y="103.1" fill="#a20000"/><rect y="107.2" fill="#b00000"/><rect y="111.4" fill="#be0000"/><rect y="115.5" fill="#c50000"/><rect y="119.6" fill="#d30000"/><rect y="123.8" fill="#e10000"/><rect y="127.9" fill="#e80000"/><rect y="132" fill="#ef0600"/><rect y="136.1" fill="#f60b00"/><rect y="140.2" fill="#fd1100"/><rect y="144.4" fill="#ff1700"/><rect y="148.5" fill="#ff1c00"/><rect y="152.6" fill="#ff2200"/><rect y="156.8" style="height:8.2px" fill="#ff2800"/></g>
<g class="c" transform="translate(463.48 590.5)"><rect y="78.4" fill="#0024ff"/><rect y="82.5" fill="#1fffd8"/><rect y="86.6" fill="#a9ff4d"/><rect y="90.8" fill="#ffdd00"/><rect y="94.9" fill="#ff8e00"/><rect y="99" fill="#ff5500"/><rect y="103.1" fill="#ff2d00"/><rect y="107.2" fill="#f60b00"/><rect y="111.4" fill="#da0000"/><rect y="115.5" fill="#c50000"/><rect y="119.6" fill="#b00000"/><rect y="123.8" fill="#a20000"/><rect y="127.9" fill="#9b0000"/><rect y="132" fill="#940000"/><rect y="136.1" fill="#8d0000"/><rect y="140.2" style="height:13.4px" fill="#860000"/><rect y="152.6" style="height:12.4px" fill="#800000"/></g>
<g class="c" transform="translate(477.8 590.5)"><rect y="74.2" fill="#0086ff"/><rect y="78.4" fill="#dbff1c"/><rect y="82.5" fill="#ff6c00"/><rect y="86.6" fill="#f60b00"/><rect y="90.8" fill="#b70000"/><rect y="94.9" fill="#9b0000"/><rect y="99" fill="#8d0000"/><rect y="103.1" fill="#860000"/><rect y="107.2" style="height:57.8px" fill="#800000"/></g>
<g class="c" transform="translate(492.12 590.5)"><rect y="74.2" fill="#0000ae"/><rect y="78.4" fill="#29ffce"/><rect y="82.5" fill="#dbff1c"/><rect y="86.6" fill="#ff8e00"/><rect y="90.8" fill="#ff3300"/><rect y="94.9" fill="#e80000"/><rect y="99" fill="#be0000"/><rect y="103.1" fill="#a20000"/><rect y="107.2" fill="#940000"/><rect y="111.4" fill="#8d0000"/><rect y="115.5" style="height:21.6px" fill="#860000"/><rect y="136.1" style="height:17.5px" fill="#8d0000"/><rect y="152.6" style="height:12.4px" fill="#940000"/></g>
<g class="c" transform="translate(506.44 590.5)"><rect y="78.4" fill="#0024ff"/><rect y="82.5" fill="#15ffe1"/><rect y="86.6" fill="#96ff61"/><rect y="90.8" fill="#efff08"/><rect y="94.9" fill="#ffa400"/><rect y="99" fill="#ff6c00"/><rect y="103.1" fill="#ff3e00"/><rect y="107.2" fill="#ff1c00"/><rect y="111.4" fill="#e80000"/><rect y="115.5" fill="#cc0000"/><rect y="119.6" fill="#be0000"/><rect y="123.8" fill="#a90000"/><rect y="127.9" fill="#a20000"/><rect y="132" fill="#9b0000"/><rect y="136.1" fill="#940000"/><rect y="140.2" fill="#8d0000"/><rect y="144.4" style="height:13.4px" fill="#860000"/><rect y="156.8" style="height:8.2px" fill="#800000"/></g>
<g class="c" transform="translate(520.76 590.5)"><rect y="74.2" fill="#0024ff"/><rect y="78.4" fill="#33ffc4"/><rect y="82.5" fill="#c7ff30"/><rect y="86.6" fill="#ffbb00"/><rect y="90.8" fill="#ff6c00"/><rect y="94.9" fill="#ff3900"/><rect y="99" fill="#fd1100"/><rect y="103.1" fill="#da0000"/><rect y="107.2" fill="#c50000"/><rect y="111.4" fill="#b00000"/><rect y="115.5" fill="#a20000"/><rect y="119.6" fill="#9b0000"/><rect y="123.8" fill="#940000"/><rect y="127.9" fill="#8d0000"/><rect y="132" style="height:13.4px" fill="#860000"/><rect y="144.4" style="height:20.6px" fill="#800000"/></g>
<g class="c" transform="translate(535.08 590.5)"><rect y="74.2" fill="#0024ff"/><rect y="78.4" fill="#00cfff"/><rect y="82.5" fill="#5aff9c"/><rect y="86.6" fill="#bdff3a"/><rect y="90.8" fill="#ffe800"/><rect y="94.9" fill="#ffa400"/><rect y="99" fill="#ff6c00"/><rect y="103.1" fill="#ff4a00"/><rect y="107.2" fill="#ff2200"/><rect y="111.4" fill="#f60b00"/><rect y="115.5" fill="#da0000"/><rect y="119.6" fill="#c50000"/><rect y="123.8" fill="#b70000"/><rect y="127.9" fill="#a90000"/><rect y="132" fill="#9b0000"/><rect y="136.1" fill="#940000"/><rect y="140.2" style="height:9.2px" fill="#8d0000"/><rect y="148.5" style="height:13.4px" fill="#860000"/><rect y="160.9" style="height:4.1px" fill="#800000"/></g>
<g class="c" transform="translate(549.4 590.5)"><rect y="70.1" fill="#0024ff"/><rect y="74.2" fill="#00dbff"/><rect y="78.4" fill="#6eff89"/><rect y="82.5" fill="#c7ff30"/><rect y="86.6" fill="#ffdd00"/><rect y="90.8" fill="#ff9900"/><rect y="94.9" fill="#ff6000"/><rect y="99" fill="#ff3e00"/><rect y="103.1" fill="#ff1c00"/><rect y="107.2" fill="#e80000"/><rect y="111.4" fill="#d30000"/><rect y="115.5" fill="#be0000"/><rect y="119.6" fill="#b00000"/><rect y="123.8" fill="#a20000"/><rect y="127.9" fill="#9b0000"/><rect y="132" fill="#940000"/><rect y="136.1" fill="#8d0000"/><rect y="140.2" style="height:13.4px" fill="#860000"/><rect y="152.6" style="height:12.4px" fill="#800000"/></g>
<g class="c" transform="translate(563.72 590.5)"><rect y="61.9" fill="#0024ff"/><rect y="66" fill="#00c3ff"/><rect y="70.1" fill="#5aff9c"/><rect y="74.2" fill="#b3ff43"/><rect y="78.4" fill="#f8f400"/><rect y="82.5" fill="#ffb000"/><rect y="86.6" fill="#ff8200"/><rect y="90.8" fill="#ff5500"/><rect y="94.9" fill="#ff2d00"/><rect y="99" fill="#ff1700"/><rect y="103.1" fill="#e80000"/><rect y="107.2" fill="#cc0000"/><rect y="111.4" fill="#be0000"/><rect y="115.5" fill="#b00000"/><rect y="119.6" fill="#a20000"/><rect y="123.8" fill="#9b0000"/><rect y="127.9" fill="#940000"/><rect y="132" style="height:9.2px" fill="#8d0000"/><rect y="140.2" style="height:13.4px" fill="#860000"/><rect y="152.6" style="height:12.4px" fill="#800000"/></g>
<g class="c" transform="translate(578.04 590.5)"><rect y="49.5" fill="#0024ff"/><rect y="53.6" fill="#51ffa6"/><rect y="57.8" fill="#e5ff12"/><rect y="61.9" fill="#ff8e00"/><rect y="66" fill="#ff3e00"/><rect y="70.1" fill="#ef0600"/><rect y="74.2" fill="#c50000"/><rect y="78.4" fill="#a90000"/><rect y="82.5" fill="#9b0000"/><rect y="86.6" fill="#8d0000"/><rect y="90.8" style="height:25.8px" fill="#860000"/><rect y="115.5" style="height:29.9px" fill="#8d0000"/><rect y="144.4" style="height:20.6px" fill="#940000"/></g>
<g class="c" transform="translate(592.36 590.5)"><rect y="49.5" fill="#0024ff"/><rect y="53.6" fill="#00dbff"/><rect y="57.8" fill="#6eff89"/><rect y="61.9" fill="#d1ff26"/><rect y="66" fill="#ffd200"/><rect y="70.1" fill="#ff8e00"/><rect y="74.2" fill="#ff6000"/><rect y="78.4" fill="#ff3300"/><rect y="82.5" fill="#ff1700"/><rect y="86.6" fill="#e80000"/><rect y="90.8" fill="#cc0000"/><rect y="94.9" fill="#b70000"/><rect y="99" fill="#a90000"/><rect y="103.1" fill="#a20000"/><rect y="107.2" fill="#9b0000"/><rect y="111.4" fill="#940000"/><rect y="115.5" fill="#8d0000"/><rect y="119.6" style="height:13.4px" fill="#860000"/><rect y="132" style="height:33px" fill="#800000"/></g>
<g class="c" transform="translate(606.68 590.5)"><rect y="41.2" fill="#0024ff"/><rect y="45.4" fill="#02e8f5"/><rect y="49.5" fill="#78ff7f"/><rect y="53.6" fill="#dbff1c"/><rect y="57.8" fill="#ffc600"/><rect y="61.9" fill="#ff8e00"/><rect y="66" fill="#ff5500"/><rect y="70.1" fill="#ff2d00"/><rect y="74.2" fill="#fd1100"/><rect y="78.4" fill="#e10000"/><rect y="82.5" fill="#cc0000"/><rect y="86.6" fill="#b70000"/><rect y="90.8" fill="#a90000"/><rect y="94.9" fill="#a20000"/><rect y="99" fill="#940000"/><rect y="103.1" style="height:9.2px" fill="#8d0000"/><rect y="111.4" style="height:13.4px" fill="#860000"/><rect y="123.8" style="height:41.2px" fill="#800000"/></g>
<g class="c" transform="translate(621 590.5)"><rect y="33" fill="#0024ff"/><rect y="37.1" fill="#00cfff"/><rect y="41.2" fill="#64ff92"/><rect y="45.4" fill="#bdff3a"/><rect y="49.5" fill="#ffe800"/><rect y="53.6" fill="#ffa400"/><rect y="57.8" fill="#ff6c00"/><rect y="61.9" fill="#ff4a00"/><rect y="66" fill="#ff2200"/><rect y="70.1" fill="#f60b00"/><rect y="74.2" fill="#da0000"/><rect y="78.4" fill="#c50000"/><rect y="82.5" fill="#b70000"/><rect y="86.6" fill="#a90000"/><rect y="90.8" fill="#9b0000"/><rect y="94.9" fill="#940000"/><rect y="99" style="height:9.2px" fill="#8d0000"/><rect y="107.2" style="height:13.4px" fill="#860000"/><rect y="119.6" style="height:45.4px" fill="#800000"/></g>
<g class="c" transform="translate(635.32 590.5)"><rect y="24.8" fill="#0024ff"/><rect y="28.9" fill="#00cfff"/><rect y="33" fill="#5aff9c"/><rect y="37.1" fill="#bdff3a"/><rect y="41.2" fill="#ffe800"/><rect y="45.4" fill="#ffa400"/><rect y="49.5" fill="#ff7700"/><rect y="53.6" fill="#ff4a00"/><rect y="57.8" fill="#ff2800"/><rect y="61.9" fill="#f60b00"/><rect y="66" fill="#da0000"/><rect y="70.1" fill="#c50000"/><rect y="74.2" fill="#b70000"/><rect y="78.4" fill="#a90000"/><rect y="82.5" fill="#9b0000"/><rect y="86.6" fill="#940000"/><rect y="90.8" style="height:9.2px" fill="#8d0000"/><rect y="99" style="height:13.4px" fill="#860000"/><rect y="111.4" style="height:53.6px" fill="#800000"/></g>
<g class="c" transform="translate(649.64 590.5)"><rect y="16.5" fill="#0024ff"/><rect y="20.6" fill="#00cfff"/><rect y="24.8" fill="#5aff9c"/><rect y="28.9" fill="#bdff3a"/><rect y="33" fill="#ffe800"/><rect y="37.1" fill="#ffa400"/><rect y="41.2" fill="#ff7700"/><rect y="45.4" fill="#ff4a00"/><rect y="49.5" fill="#ff2800"/><rect y="53.6" fill="#f60b00"/><rect y="57.8" fill="#da0000"/><rect y="61.9" fill="#c50000"/><rect y="66" fill="#b70000"/><rect y="70.1" fill="#a90000"/><rect y="74.2" fill="#9b0000"/><rect y="78.4" fill="#940000"/><rect y="82.5" style="height:9.2px" fill="#8d0000"/><rect y="90.8" style="height:13.4px" fill="#860000"/><rect y="103.1" style="height:61.9px" fill="#800000"/></g>
<g class="c" transform="translate(663.96 590.5)"><rect y="8.2" fill="#0024ff"/><rect y="12.4" fill="#00cfff"/><rect y="16.5" fill="#5aff9c"/><rect y="20.6" fill="#b3ff43"/><rect y="24.8" fill="#ffe800"/><rect y="28.9" fill="#ffa400"/><rect y="33" fill="#ff7700"/><rect y="37.1" fill="#ff4a00"/><rect y="41.2" fill="#ff2800"/><rect y="45.4" fill="#f60b00"/><rect y="49.5" fill="#da0000"/><rect y="53.6" fill="#c50000"/><rect y="57.8" fill="#b70000"/><rect y="61.9" fill="#a90000"/><rect y="66" fill="#a20000"/><rect y="70.1" style="height:9.2px" fill="#940000"/><rect y="78.4" fill="#8d0000"/><rect y="82.5" style="height:13.4px" fill="#860000"/><rect y="94.9" style="height:70.1px" fill="#800000"/></g>
<g class="e" transform="translate(678.28 590.5)"><rect y="0" fill="#0024ff"/><rect y="4.1" fill="#00cfff"/><rect y="8.2" fill="#64ff92"/><rect y="12.4" fill="#bdff3a"/><rect y="16.5" fill="#ffe800"/><rect y="20.6" fill="#ffa400"/><rect y="24.8" fill="#ff6c00"/><rect y="28.9" fill="#ff4a00"/><rect y="33" fill="#ff2200"/><rect y="37.1" fill="#ef0600"/><rect y="41.2" fill="#da0000"/><rect y="45.4" fill="#c50000"/><rect y="49.5" fill="#b00000"/><rect y="53.6" fill="#a90000"/><rect y="57.8" fill="#9b0000"/><rect y="61.9" fill="#940000"/><rect y="66" style="height:9.2px" fill="#8d0000"/><rect y="74.2" style="height:13.4px" fill="#860000"/><rect y="86.6" style="height:78.4px" fill="#800000"/></g>
<polyline points="413.36,665.2 427.68,657 442,683.5 456.32,681.4 470.64,688.4 484.96,672.1 499.28,665.9 513.6,688 527.92,672.9 542.24,682.8 556.56,675.5 570.88,668.3 585.2,659.8 599.52,653.8 613.84,641.2 628.16,639.1 642.48,631.5 656.8,623.2 671.12,614.9 685.44,606.6" fill="none" stroke="#000" stroke-width="0.8" stroke-dasharray="0.9 1.1"/>
<circle cx="413.36" cy="665.2" r="1.75" fill="#000"/>
<circle cx="427.68" cy="657" r="1.75" fill="#000"/>
<circle cx="442" cy="683.5" r="1.75" fill="#000"/>
<circle cx="456.32" cy="681.4" r="1.75" fill="#000"/>
<circle cx="470.64" cy="688.4" r="1.75" fill="#000"/>
<circle cx="484.96" cy="672.1" r="1.75" fill="#000"/>
<circle cx="499.28" cy="665.9" r="1.75" fill="#000"/>
<circle cx="513.6" cy="688" r="1.75" fill="#000"/>
<circle cx="527.92" cy="672.9" r="1.75" fill="#000"/>
<circle cx="542.24" cy="682.8" r="1.75" fill="#000"/>
<circle cx="556.56" cy="675.5" r="1.75" fill="#000"/>
<circle cx="570.88" cy="668.3" r="1.75" fill="#000"/>
<circle cx="585.2" cy="659.8" r="1.75" fill="#000"/>
<circle cx="599.52" cy="653.8" r="1.75" fill="#000"/>
<circle cx="613.84" cy="641.2" r="1.75" fill="#000"/>
<circle cx="628.16" cy="639.1" r="1.75" fill="#000"/>
<circle cx="642.48" cy="631.5" r="1.75" fill="#000"/>
<circle cx="656.8" cy="623.2" r="1.75" fill="#000"/>
<circle cx="671.12" cy="614.9" r="1.75" fill="#000"/>
<circle cx="685.44" cy="606.6" r="1.75" fill="#000"/>
<polyline points="413.36,676.6 427.68,657.6 442,684.9 456.32,681.4 470.64,690.7 484.96,679.7 499.28,681.2 513.6,683.9 527.92,678.3 542.24,688.4 556.56,684.8 570.88,676.4 585.2,647 599.52,662.9 613.84,652.1 628.16,648.4 642.48,640.3 656.8,632.5 671.12,624.2 685.44,615.5" fill="none" stroke="#000" stroke-width="0.85" stroke-dasharray="2.2 1.4 0.9 1.4"/>
<rect x="411.71" y="674.95" width="3.3" height="3.3" fill="#000"/>
<rect x="426.03" y="655.95" width="3.3" height="3.3" fill="#000"/>
<rect x="440.35" y="683.25" width="3.3" height="3.3" fill="#000"/>
<rect x="454.67" y="679.75" width="3.3" height="3.3" fill="#000"/>
<rect x="468.99" y="689.05" width="3.3" height="3.3" fill="#000"/>
<rect x="483.31" y="678.05" width="3.3" height="3.3" fill="#000"/>
<rect x="497.63" y="679.55" width="3.3" height="3.3" fill="#000"/>
<rect x="511.95" y="682.25" width="3.3" height="3.3" fill="#000"/>
<rect x="526.27" y="676.65" width="3.3" height="3.3" fill="#000"/>
<rect x="540.59" y="686.75" width="3.3" height="3.3" fill="#000"/>
<rect x="554.91" y="683.15" width="3.3" height="3.3" fill="#000"/>
<rect x="569.23" y="674.75" width="3.3" height="3.3" fill="#000"/>
<rect x="583.55" y="645.35" width="3.3" height="3.3" fill="#000"/>
<rect x="597.87" y="661.25" width="3.3" height="3.3" fill="#000"/>
<rect x="612.19" y="650.45" width="3.3" height="3.3" fill="#000"/>
<rect x="626.51" y="646.75" width="3.3" height="3.3" fill="#000"/>
<rect x="640.83" y="638.65" width="3.3" height="3.3" fill="#000"/>
<rect x="655.15" y="630.85" width="3.3" height="3.3" fill="#000"/>
<rect x="669.47" y="622.55" width="3.3" height="3.3" fill="#000"/>
<rect x="683.79" y="613.85" width="3.3" height="3.3" fill="#000"/>
<use href="#ar" x="413.36" y="684.3"/>
<use href="#ar" x="427.68" y="670"/>
<use href="#ar" x="442" y="688"/>
<use href="#ar" x="456.32" y="664.8"/>
<use href="#ar" x="470.64" y="697.3"/>
<use href="#ar" x="484.96" y="678.1"/>
<use href="#ar" x="499.28" y="684.9"/>
<use href="#ar" x="513.6" y="699.4"/>
<use href="#ar" x="527.92" y="690.1"/>
<use href="#ar" x="542.24" y="700.8"/>
<use href="#ar" x="556.56" y="695.2"/>
<use href="#ar" x="570.88" y="690"/>
<use href="#ar" x="585.2" y="660.8"/>
<use href="#ar" x="599.52" y="673.9"/>
<use href="#ar" x="613.84" y="665"/>
<use href="#ar" x="628.16" y="659.4"/>
<use href="#ar" x="642.48" y="651.5"/>
<use href="#ar" x="656.8" y="643.2"/>
<use href="#ar" x="671.12" y="635.2"/>
<use href="#ar" x="685.44" y="626.3"/>
<rect x="406.5" y="590.5" width="288" height="165" fill="none" stroke="#555" stroke-width="1"/>
<path d="M406.5 755.5v-2.5M406.5 590.5v2.5M447.64 755.5v-2.5M447.64 590.5v2.5M488.79 755.5v-2.5M488.79 590.5v2.5M529.93 755.5v-2.5M529.93 590.5v2.5M571.07 755.5v-2.5M571.07 590.5v2.5M612.21 755.5v-2.5M612.21 590.5v2.5M653.36 755.5v-2.5M653.36 590.5v2.5M694.5 755.5v-2.5M694.5 590.5v2.5M406.5 590.5h2.5M694.5 590.5h-2.5M406.5 611.12h2.5M694.5 611.12h-2.5M406.5 631.75h2.5M694.5 631.75h-2.5M406.5 652.38h2.5M694.5 652.38h-2.5M406.5 673h2.5M694.5 673h-2.5M406.5 693.62h2.5M694.5 693.62h-2.5M406.5 714.25h2.5M694.5 714.25h-2.5M406.5 734.88h2.5M694.5 734.88h-2.5M406.5 755.5h2.5M694.5 755.5h-2.5" stroke="#333" stroke-width="0.6" fill="none"/>
<text x="406.8" y="762.6" font-size="6.9" text-anchor="middle">2.0</text>
<text x="447.94" y="762.6" font-size="6.9" text-anchor="middle">2.5</text>
<text x="489.09" y="762.6" font-size="6.9" text-anchor="middle">3.0</text>
<text x="530.23" y="762.6" font-size="6.9" text-anchor="middle">3.5</text>
<text x="571.37" y="762.6" font-size="6.9" text-anchor="middle">4.0</text>
<text x="612.51" y="762.6" font-size="6.9" text-anchor="middle">4.5</text>
<text x="653.66" y="762.6" font-size="6.9" text-anchor="middle">5.0</text>
<text x="694.8" y="762.6" font-size="6.9" text-anchor="middle">5.5</text>
<text x="404" y="592.9" font-size="6.9" text-anchor="end">−4.0</text>
<text x="404" y="613.52" font-size="6.9" text-anchor="end">−4.5</text>
<text x="404" y="634.15" font-size="6.9" text-anchor="end">−5.0</text>
<text x="404" y="654.77" font-size="6.9" text-anchor="end">−5.5</text>
<text x="404" y="675.4" font-size="6.9" text-anchor="end">−6.0</text>
<text x="404" y="696.02" font-size="6.9" text-anchor="end">−6.5</text>
<text x="404" y="716.65" font-size="6.9" text-anchor="end">−7.0</text>
<text x="404" y="737.27" font-size="6.9" text-anchor="end">−7.5</text>
<text x="404" y="757.9" font-size="6.9" text-anchor="end">−8.0</text>
<g transform="translate(504.9 775.7)"><text class="s" x="0" y="0" font-size="10.2">log</text><text class="s" x="12.9" y="2.2" font-size="7.3">10</text><text class="s" x="20.8" y="0" font-size="10.2" letter-spacing="0.2">(Energy</text><text class="s" x="59.6" y="0" font-size="10.2" letter-spacing="0.1">[MeV])</text></g>
<g transform="translate(385.2 745.6) rotate(-90)"><text class="s" x="0" y="0" font-size="10.2">log</text><text class="s" x="12.9" y="2.2" font-size="7.3">10</text><text class="s" x="20.3" y="0" font-size="10.2" letter-spacing="0.3">(Energy</text><text class="s" x="59.3" y="0" font-size="10.2">F</text><text class="s" x="69.7" y="0" font-size="10.2" letter-spacing="-0.15">[MeV</text><text class="s" x="96.8" y="0" font-size="10.2" letter-spacing="-0.4">cm</text><text class="s" x="110.4" y="-4.6" font-size="7.6">−2</text><text class="s" x="123.7" y="0" font-size="10.6">s</text><text class="s" x="129" y="-4.6" font-size="7.6">−1</text><text class="s" x="139.2" y="0" font-size="10.2" letter-spacing="-0.6">])</text></g>
<text class="s" x="447.2" y="611.2" font-size="10.3" textLength="45.4" lengthAdjust="spacingAndGlyphs">sn2012ab</text>
<rect x="697.5" y="590.5" width="9" height="165" fill="url(#cb)" stroke="#99a" stroke-width="0.7"/>
<text x="708.7" y="758" font-size="6.9">0</text>
<text x="708.7" y="741.5" font-size="6.9">1</text>
<text x="708.7" y="725" font-size="6.9">2</text>
<text x="708.7" y="708.5" font-size="6.9">3</text>
<text x="708.7" y="692" font-size="6.9">4</text>
<text x="708.7" y="675.5" font-size="6.9">5</text>
<text x="708.7" y="659" font-size="6.9">6</text>
<text x="708.7" y="642.5" font-size="6.9">7</text>
<text x="708.7" y="626" font-size="6.9">8</text>
<text x="708.7" y="609.5" font-size="6.9">9</text>
<path d="M706.5 755.5h-2M706.5 739h-2M706.5 722.5h-2M706.5 706h-2M706.5 689.5h-2M706.5 673h-2M706.5 656.5h-2M706.5 640h-2M706.5 623.5h-2M706.5 607h-2M706.5 590.5h-2" stroke="#333" stroke-width="0.6" fill="none"/>
<text class="s" transform="translate(721.8 673) rotate(-90)" font-size="11.6" text-anchor="middle">−Δlog<tspan font-style="italic">L</tspan></text>
</g>
</svg></body></html>
